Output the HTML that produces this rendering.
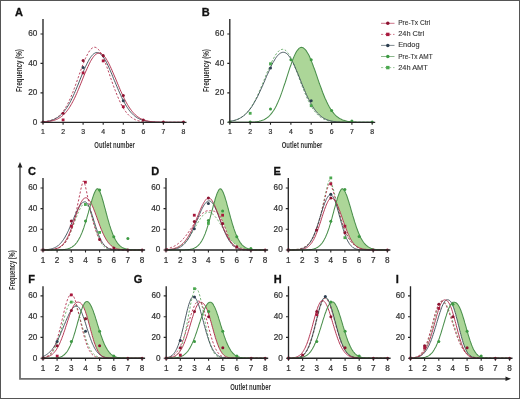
<!DOCTYPE html>
<html><head><meta charset="utf-8"><style>
html,body{margin:0;padding:0;background:#fff;width:520px;height:399px;overflow:hidden}
svg text{font-family:"Liberation Sans",sans-serif}
.tk{font-size:8.2px;fill:#333;stroke:#333;stroke-width:0.22px}
.tks{font-size:6.9px}
.lg{font-size:7.4px;fill:#333;stroke:#333;stroke-width:0.12px}
.pl{font-size:11px;font-weight:bold;fill:#111;stroke:#111;stroke-width:0.3px}
</style></head><body>
<svg width="520" height="399" viewBox="0 0 520 399" style="position:absolute;left:0;top:0;will-change:transform;filter:blur(0.5px)"><rect x="0" y="0" width="520" height="399" fill="#fff"/><g><path d="M43,121.9 L43.8,121.8 L44.6,121.7 L45.4,121.6 L46.2,121.5 L47,121.4 L47.8,121.2 L48.6,121.1 L49.4,120.9 L50.2,120.7 L51,120.4 L51.8,120.1 L52.6,119.8 L53.4,119.5 L54.2,119.1 L55,118.7 L55.8,118.2 L56.6,117.7 L57.5,117.1 L58.3,116.5 L59.1,115.8 L59.9,115.1 L60.7,114.3 L61.5,113.4 L62.3,112.4 L63.1,111.4 L63.9,110.3 L64.7,109.1 L65.5,107.8 L66.3,106.4 L67.1,105 L67.9,103.5 L68.7,101.9 L69.5,100.2 L70.3,98.4 L71.1,96.6 L71.9,94.6 L72.7,92.7 L73.5,90.6 L74.3,88.5 L75.1,86.3 L75.9,84.1 L76.7,81.9 L77.5,79.6 L78.3,77.4 L79.1,75.1 L79.9,72.8 L80.7,70.6 L81.5,68.4 L82.3,66.2 L83.1,64.1 L83.9,62 L84.7,60.1 L85.5,58.2 L86.4,56.5 L87.2,54.9 L88,53.4 L88.8,52 L89.6,50.8 L90.4,49.8 L91.2,48.9 L92,48.2 L92.8,47.7 L93.6,47.4 L94.4,47.2 L95.2,47.3 L96,47.5 L96.8,48 L97.6,48.6 L98.4,49.4 L99.2,50.4 L100,51.6 L100.8,52.9 L101.6,54.3 L102.4,56 L103.2,57.7 L104,59.6 L104.8,61.5 L105.6,63.6 L106.4,65.7 L107.2,67.9 L108,70.2 L108.8,72.4 L109.6,74.8 L110.4,77.1 L111.2,79.4 L112,81.7 L112.8,84 L113.6,86.2 L114.4,88.4 L115.3,90.6 L116.1,92.7 L116.9,94.7 L117.7,96.6 L118.5,98.5 L119.3,100.3 L120.1,102 L120.9,103.7 L121.7,105.2 L122.5,106.7 L123.3,108 L124.1,109.3 L124.9,110.5 L125.7,111.6 L126.5,112.7 L127.3,113.6 L128.1,114.5 L128.9,115.3 L129.7,116 L130.5,116.7 L131.3,117.3 L132.1,117.9 L132.9,118.4 L133.7,118.9 L134.5,119.3 L135.3,119.7 L136.1,120 L136.9,120.3 L137.7,120.5 L138.5,120.8 L139.3,121 L140.1,121.2 L140.9,121.3 L141.7,121.5 L142.5,121.6 L143.3,121.7 L144.2,121.8 L145,121.8 L145.8,121.9 L146.6,122 L147.4,122 L148.2,122.1 L149,122.1 L149.8,122.1 L150.6,122.2 L151.4,122.2 L152.2,122.2 L153,122.2 L153.8,122.2 L154.6,122.2 L155.4,122.3 L156.2,122.3 L157,122.3 L157.8,122.3 L158.6,122.3 L159.4,122.3 L160.2,122.3 L161,122.3 L161.8,122.3 L162.6,122.3 L163.4,122.3 L164.2,122.3 L165,122.3 L165.8,122.3 L166.6,122.3 L167.4,122.3 L168.2,122.3 L169,122.3 L169.8,122.3 L170.6,122.3 L171.4,122.3 L172.3,122.3 L173.1,122.3 L173.9,122.3 L174.7,122.3 L175.5,122.3 L176.3,122.3 L177.1,122.3 L177.9,122.3 L178.7,122.3 L179.5,122.3 L180.3,122.3 L181.1,122.3 L181.9,122.3 L182.7,122.3 L183.5,122.3" fill="none" stroke="#b02a48" stroke-width="0.9" stroke-dasharray="2.2,1.8"/><path d="M43,121.8 L43.8,121.8 L44.6,121.7 L45.4,121.6 L46.2,121.5 L47,121.3 L47.8,121.2 L48.6,121 L49.4,120.9 L50.2,120.7 L51,120.4 L51.8,120.2 L52.6,119.9 L53.4,119.6 L54.2,119.3 L55,118.9 L55.8,118.5 L56.6,118 L57.5,117.5 L58.3,117 L59.1,116.4 L59.9,115.8 L60.7,115.1 L61.5,114.3 L62.3,113.5 L63.1,112.6 L63.9,111.7 L64.7,110.7 L65.5,109.6 L66.3,108.5 L67.1,107.3 L67.9,106 L68.7,104.7 L69.5,103.3 L70.3,101.8 L71.1,100.3 L71.9,98.6 L72.7,97 L73.5,95.3 L74.3,93.5 L75.1,91.6 L75.9,89.8 L76.7,87.9 L77.5,85.9 L78.3,84 L79.1,82 L79.9,80 L80.7,78 L81.5,76 L82.3,74.1 L83.1,72.1 L83.9,70.2 L84.7,68.4 L85.5,66.6 L86.4,64.9 L87.2,63.2 L88,61.7 L88.8,60.2 L89.6,58.8 L90.4,57.6 L91.2,56.5 L92,55.5 L92.8,54.6 L93.6,53.9 L94.4,53.4 L95.2,52.9 L96,52.7 L96.8,52.5 L97.6,52.6 L98.4,52.8 L99.2,53.1 L100,53.6 L100.8,54.2 L101.6,55 L102.4,55.9 L103.2,57 L104,58.1 L104.8,59.4 L105.6,60.8 L106.4,62.3 L107.2,63.9 L108,65.5 L108.8,67.3 L109.6,69.1 L110.4,70.9 L111.2,72.8 L112,74.7 L112.8,76.7 L113.6,78.7 L114.4,80.6 L115.3,82.6 L116.1,84.6 L116.9,86.5 L117.7,88.4 L118.5,90.3 L119.3,92.1 L120.1,93.9 L120.9,95.7 L121.7,97.4 L122.5,99 L123.3,100.6 L124.1,102.1 L124.9,103.6 L125.7,105 L126.5,106.3 L127.3,107.5 L128.1,108.7 L128.9,109.8 L129.7,110.9 L130.5,111.9 L131.3,112.8 L132.1,113.6 L132.9,114.4 L133.7,115.2 L134.5,115.8 L135.3,116.5 L136.1,117.1 L136.9,117.6 L137.7,118.1 L138.5,118.5 L139.3,118.9 L140.1,119.3 L140.9,119.6 L141.7,119.9 L142.5,120.2 L143.3,120.5 L144.2,120.7 L145,120.9 L145.8,121 L146.6,121.2 L147.4,121.3 L148.2,121.5 L149,121.6 L149.8,121.7 L150.6,121.8 L151.4,121.8 L152.2,121.9 L153,122 L153.8,122 L154.6,122 L155.4,122.1 L156.2,122.1 L157,122.1 L157.8,122.2 L158.6,122.2 L159.4,122.2 L160.2,122.2 L161,122.2 L161.8,122.2 L162.6,122.3 L163.4,122.3 L164.2,122.3 L165,122.3 L165.8,122.3 L166.6,122.3 L167.4,122.3 L168.2,122.3 L169,122.3 L169.8,122.3 L170.6,122.3 L171.4,122.3 L172.3,122.3 L173.1,122.3 L173.9,122.3 L174.7,122.3 L175.5,122.3 L176.3,122.3 L177.1,122.3 L177.9,122.3 L178.7,122.3 L179.5,122.3 L180.3,122.3 L181.1,122.3 L181.9,122.3 L182.7,122.3 L183.5,122.3" fill="none" stroke="#384852" stroke-width="0.9"/><path d="M43,122 L43.8,122 L44.6,121.9 L45.4,121.9 L46.2,121.8 L47,121.7 L47.8,121.6 L48.6,121.5 L49.4,121.4 L50.2,121.3 L51,121.1 L51.8,120.9 L52.6,120.7 L53.4,120.5 L54.2,120.3 L55,120 L55.8,119.7 L56.6,119.4 L57.5,119 L58.3,118.6 L59.1,118.1 L59.9,117.6 L60.7,117.1 L61.5,116.5 L62.3,115.9 L63.1,115.2 L63.9,114.4 L64.7,113.6 L65.5,112.7 L66.3,111.8 L67.1,110.8 L67.9,109.7 L68.7,108.6 L69.5,107.4 L70.3,106.1 L71.1,104.7 L71.9,103.3 L72.7,101.8 L73.5,100.3 L74.3,98.7 L75.1,97 L75.9,95.2 L76.7,93.5 L77.5,91.6 L78.3,89.7 L79.1,87.8 L79.9,85.8 L80.7,83.9 L81.5,81.9 L82.3,79.9 L83.1,77.9 L83.9,75.9 L84.7,73.9 L85.5,72 L86.4,70.1 L87.2,68.3 L88,66.5 L88.8,64.8 L89.6,63.2 L90.4,61.6 L91.2,60.2 L92,58.9 L92.8,57.7 L93.6,56.6 L94.4,55.7 L95.2,54.9 L96,54.2 L96.8,53.7 L97.6,53.4 L98.4,53.2 L99.2,53.1 L100,53.2 L100.8,53.5 L101.6,53.9 L102.4,54.5 L103.2,55.2 L104,56 L104.8,57 L105.6,58 L106.4,59.2 L107.2,60.6 L108,62 L108.8,63.5 L109.6,65.1 L110.4,66.8 L111.2,68.5 L112,70.3 L112.8,72.2 L113.6,74.1 L114.4,76 L115.3,77.9 L116.1,79.9 L116.9,81.8 L117.7,83.8 L118.5,85.7 L119.3,87.6 L120.1,89.5 L120.9,91.3 L121.7,93.1 L122.5,94.9 L123.3,96.6 L124.1,98.3 L124.9,99.9 L125.7,101.4 L126.5,102.9 L127.3,104.3 L128.1,105.6 L128.9,106.9 L129.7,108.1 L130.5,109.2 L131.3,110.3 L132.1,111.3 L132.9,112.3 L133.7,113.2 L134.5,114 L135.3,114.8 L136.1,115.5 L136.9,116.1 L137.7,116.7 L138.5,117.3 L139.3,117.8 L140.1,118.3 L140.9,118.7 L141.7,119.1 L142.5,119.4 L143.3,119.8 L144.2,120 L145,120.3 L145.8,120.5 L146.6,120.8 L147.4,120.9 L148.2,121.1 L149,121.3 L149.8,121.4 L150.6,121.5 L151.4,121.6 L152.2,121.7 L153,121.8 L153.8,121.9 L154.6,121.9 L155.4,122 L156.2,122 L157,122.1 L157.8,122.1 L158.6,122.1 L159.4,122.1 L160.2,122.2 L161,122.2 L161.8,122.2 L162.6,122.2 L163.4,122.2 L164.2,122.2 L165,122.3 L165.8,122.3 L166.6,122.3 L167.4,122.3 L168.2,122.3 L169,122.3 L169.8,122.3 L170.6,122.3 L171.4,122.3 L172.3,122.3 L173.1,122.3 L173.9,122.3 L174.7,122.3 L175.5,122.3 L176.3,122.3 L177.1,122.3 L177.9,122.3 L178.7,122.3 L179.5,122.3 L180.3,122.3 L181.1,122.3 L181.9,122.3 L182.7,122.3 L183.5,122.3" fill="none" stroke="#ad2243" stroke-width="0.9"/><circle cx="63.1" cy="113.3" r="1.5" fill="#8c1230"/><rect x="61.7" y="118.5" width="2.8" height="2.8" fill="#a8183c"/><circle cx="83.1" cy="60.5" r="1.5" fill="#8c1230"/><circle cx="83.1" cy="67.6" r="1.5" fill="#2c3e50"/><rect x="81.7" y="71.5" width="2.8" height="2.8" fill="#a8183c"/><circle cx="103.2" cy="55.6" r="1.5" fill="#8c1230"/><rect x="101.8" y="59.5" width="2.8" height="2.8" fill="#a8183c"/><circle cx="123.3" cy="95.5" r="1.5" fill="#8c1230"/><circle cx="123.3" cy="100.7" r="1.5" fill="#2c3e50"/><rect x="121.9" y="105.3" width="2.8" height="2.8" fill="#a8183c"/><circle cx="143.3" cy="119.9" r="1.5" fill="#8c1230"/><circle cx="163.4" cy="121.9" r="1.5" fill="#8c1230"/><circle cx="183.5" cy="122" r="1.5" fill="#8c1230"/><circle cx="43" cy="121.9" r="1.5" fill="#8c1230"/><path d="M43,19 V122.3 H186.5" fill="none" stroke="#262626" stroke-width="1.35"/><path d="M40.5,122.3 H43 M40.5,92.9 H43 M40.5,63.4 H43 M40.5,34 H43 M43,122.3 V124.8 M63.1,122.3 V124.8 M83.1,122.3 V124.8 M103.2,122.3 V124.8 M123.3,122.3 V124.8 M143.3,122.3 V124.8 M163.4,122.3 V124.8 M183.5,122.3 V124.8" stroke="#262626" stroke-width="1.1"/><text x="37.4" y="124.7" text-anchor="end" class="tk">0</text><text x="37.4" y="95.2" text-anchor="end" class="tk">20</text><text x="37.4" y="65.8" text-anchor="end" class="tk">40</text><text x="37.4" y="36.4" text-anchor="end" class="tk">60</text><text x="43" y="134.2" text-anchor="middle" class="tk tks">1</text><text x="63.1" y="134.2" text-anchor="middle" class="tk tks">2</text><text x="83.1" y="134.2" text-anchor="middle" class="tk tks">3</text><text x="103.2" y="134.2" text-anchor="middle" class="tk tks">4</text><text x="123.3" y="134.2" text-anchor="middle" class="tk tks">5</text><text x="143.3" y="134.2" text-anchor="middle" class="tk tks">6</text><text x="163.4" y="134.2" text-anchor="middle" class="tk tks">7</text><text x="183.5" y="134.2" text-anchor="middle" class="tk tks">8</text><text x="15" y="16.3" class="pl">A</text><text transform="translate(114.6,148.4) scale(0.6,1)" text-anchor="middle" font-size="9.9" font-weight="bold" fill="#333333">Outlet number</text><text transform="translate(21.7,70.6) rotate(-90) scale(0.665,1)" text-anchor="middle" font-size="9.4" font-weight="bold" fill="#333333">Frequency (%)</text></g><g><polygon points="292.5,60.4 293.3,58.3 294.1,56.4 294.9,54.6 295.7,53 296.5,51.5 297.4,50.3 298.2,49.3 299,48.4 299.8,47.9 300.6,47.5 301.4,47.4 302.2,47.5 303.1,47.8 303.9,48.3 304.7,49 305.5,49.9 306.3,50.9 307.1,52.2 307.9,53.6 308.8,55.1 309.6,56.8 310.4,58.7 311.2,60.6 312,62.6 312.8,64.8 313.6,67 314.5,69.2 315.3,71.5 316.1,73.9 316.9,76.2 317.7,78.6 318.5,80.9 319.3,83.3 320.2,85.6 321,87.8 321.8,90 322.6,92.2 323.4,94.2 324.2,96.2 325,98.2 325.9,100 326.7,101.8 327.5,103.4 328.3,105 329.1,106.5 329.9,107.9 330.7,109.2 331.6,110.4 332.4,111.6 333.2,112.6 334,113.6 334.8,114.5 335.6,115.3 336.4,116.1 337.2,116.8 338.1,117.4 338.9,118 339.7,118.5 340.5,118.9 341.3,119.3 342.1,119.7 342.9,120 343.8,120.3 344.6,120.6 345.4,120.8 346.2,121 347,121.2 347.8,121.4 348.6,121.5 349.5,121.6 350.3,121.7 351.1,121.8 351.9,121.9 352.7,121.9 353.5,122 354.3,122 355.2,122.1 356,122.1 356.8,122.2 357.6,122.2 358.4,122.2 359.2,122.2 360,122.2 360.9,122.2 361.7,122.3 362.5,122.3 363.3,122.3 364.1,122.3 364.9,122.3 365.7,122.3 366.6,122.3 367.4,122.3 367.4,122.3 366.6,122.3 365.7,122.3 364.9,122.3 364.1,122.3 363.3,122.3 362.5,122.3 361.7,122.3 360.9,122.3 360,122.3 359.2,122.3 358.4,122.3 357.6,122.3 356.8,122.3 356,122.3 355.2,122.3 354.3,122.3 353.5,122.3 352.7,122.3 351.9,122.3 351.1,122.3 350.3,122.3 349.5,122.3 348.6,122.3 347.8,122.2 347,122.2 346.2,122.2 345.4,122.2 344.6,122.2 343.8,122.2 342.9,122.2 342.1,122.1 341.3,122.1 340.5,122.1 339.7,122 338.9,122 338.1,121.9 337.2,121.8 336.4,121.8 335.6,121.7 334.8,121.6 334,121.5 333.2,121.4 332.4,121.2 331.6,121.1 330.7,120.9 329.9,120.7 329.1,120.5 328.3,120.2 327.5,119.9 326.7,119.6 325.9,119.3 325,118.9 324.2,118.5 323.4,118 322.6,117.5 321.8,116.9 321,116.3 320.2,115.6 319.3,114.9 318.5,114.1 317.7,113.3 316.9,112.4 316.1,111.4 315.3,110.4 314.5,109.3 313.6,108.1 312.8,106.8 312,105.5 311.2,104.1 310.4,102.6 309.6,101.1 308.8,99.5 307.9,97.8 307.1,96.1 306.3,94.3 305.5,92.5 304.7,90.6 303.9,88.6 303.1,86.7 302.2,84.7 301.4,82.6 300.6,80.6 299.8,78.6 299,76.5 298.2,74.5 297.4,72.5 296.5,70.6 295.7,68.7 294.9,66.8 294.1,65 293.3,63 292.5,61.2" fill="#acd698" stroke="none"/><path d="M229.8,121.4 L230.6,121.3 L231.4,121.1 L232.2,121 L233.1,120.8 L233.9,120.6 L234.7,120.4 L235.5,120.1 L236.3,119.8 L237.1,119.5 L237.9,119.2 L238.8,118.8 L239.6,118.4 L240.4,118 L241.2,117.5 L242,116.9 L242.8,116.3 L243.6,115.7 L244.5,115 L245.3,114.3 L246.1,113.5 L246.9,112.6 L247.7,111.7 L248.5,110.7 L249.3,109.7 L250.2,108.6 L251,107.4 L251.8,106.1 L252.6,104.8 L253.4,103.4 L254.2,102 L255,100.5 L255.8,98.9 L256.7,97.2 L257.5,95.5 L258.3,93.8 L259.1,92 L259.9,90.1 L260.7,88.2 L261.5,86.3 L262.4,84.3 L263.2,82.3 L264,80.3 L264.8,78.3 L265.6,76.2 L266.4,74.2 L267.2,72.2 L268.1,70.3 L268.9,68.3 L269.7,66.4 L270.5,64.6 L271.3,62.8 L272.1,61.1 L272.9,59.5 L273.8,58 L274.6,56.5 L275.4,55.2 L276.2,54 L277,52.9 L277.8,52 L278.6,51.2 L279.5,50.5 L280.3,50 L281.1,49.6 L281.9,49.4 L282.7,49.3 L283.5,49.4 L284.3,49.7 L285.2,50.1 L286,50.7 L286.8,51.5 L287.6,52.5 L288.4,53.6 L289.2,54.8 L290,56.2 L290.9,57.8 L291.7,59.4 L292.5,61.2 L293.3,63 L294.1,65 L294.9,67 L295.7,69 L296.5,71.2 L297.4,73.3 L298.2,75.5 L299,77.7 L299.8,79.9 L300.6,82.1 L301.4,84.2 L302.2,86.4 L303.1,88.5 L303.9,90.5 L304.7,92.5 L305.5,94.5 L306.3,96.4 L307.1,98.2 L307.9,99.9 L308.8,101.6 L309.6,103.2 L310.4,104.7 L311.2,106.1 L312,107.5 L312.8,108.8 L313.6,110 L314.5,111.1 L315.3,112.1 L316.1,113.1 L316.9,114 L317.7,114.8 L318.5,115.6 L319.3,116.3 L320.2,116.9 L321,117.5 L321.8,118 L322.6,118.5 L323.4,118.9 L324.2,119.3 L325,119.7 L325.9,120 L326.7,120.3 L327.5,120.5 L328.3,120.8 L329.1,121 L329.9,121.1 L330.7,121.3 L331.6,121.4 L332.4,121.6 L333.2,121.7 L334,121.7 L334.8,121.8 L335.6,121.9 L336.4,122 L337.2,122 L338.1,122.1 L338.9,122.1 L339.7,122.1 L340.5,122.2 L341.3,122.2 L342.1,122.2 L342.9,122.2 L343.8,122.2 L344.6,122.2 L345.4,122.3 L346.2,122.3 L347,122.3 L347.8,122.3 L348.6,122.3 L349.5,122.3 L350.3,122.3 L351.1,122.3 L351.9,122.3 L352.7,122.3 L353.5,122.3 L354.3,122.3 L355.2,122.3 L356,122.3 L356.8,122.3 L357.6,122.3 L358.4,122.3 L359.2,122.3 L360,122.3 L360.9,122.3 L361.7,122.3 L362.5,122.3 L363.3,122.3 L364.1,122.3 L364.9,122.3 L365.7,122.3 L366.6,122.3 L367.4,122.3 L368.2,122.3 L369,122.3 L369.8,122.3 L370.6,122.3 L371.4,122.3 L372.2,122.3" fill="none" stroke="#62a862" stroke-width="0.9" stroke-dasharray="2.2,1.8"/><path d="M229.8,121.4 L230.6,121.2 L231.4,121.1 L232.2,120.9 L233.1,120.7 L233.9,120.5 L234.7,120.3 L235.5,120.1 L236.3,119.8 L237.1,119.5 L237.9,119.2 L238.8,118.8 L239.6,118.4 L240.4,117.9 L241.2,117.5 L242,116.9 L242.8,116.4 L243.6,115.8 L244.5,115.1 L245.3,114.4 L246.1,113.6 L246.9,112.8 L247.7,111.9 L248.5,111 L249.3,110 L250.2,108.9 L251,107.8 L251.8,106.7 L252.6,105.4 L253.4,104.1 L254.2,102.7 L255,101.3 L255.8,99.8 L256.7,98.3 L257.5,96.7 L258.3,95 L259.1,93.3 L259.9,91.6 L260.7,89.8 L261.5,88 L262.4,86.2 L263.2,84.3 L264,82.4 L264.8,80.5 L265.6,78.6 L266.4,76.7 L267.2,74.8 L268.1,73 L268.9,71.2 L269.7,69.4 L270.5,67.6 L271.3,65.9 L272.1,64.3 L272.9,62.7 L273.8,61.3 L274.6,59.9 L275.4,58.6 L276.2,57.4 L277,56.3 L277.8,55.4 L278.6,54.5 L279.5,53.8 L280.3,53.2 L281.1,52.8 L281.9,52.5 L282.7,52.3 L283.5,52.3 L284.3,52.4 L285.2,52.7 L286,53.1 L286.8,53.7 L287.6,54.4 L288.4,55.3 L289.2,56.4 L290,57.5 L290.9,58.8 L291.7,60.2 L292.5,61.7 L293.3,63.3 L294.1,65 L294.9,66.8 L295.7,68.7 L296.5,70.6 L297.4,72.5 L298.2,74.5 L299,76.5 L299.8,78.6 L300.6,80.6 L301.4,82.6 L302.2,84.7 L303.1,86.7 L303.9,88.6 L304.7,90.6 L305.5,92.5 L306.3,94.3 L307.1,96.1 L307.9,97.8 L308.8,99.5 L309.6,101.1 L310.4,102.6 L311.2,104.1 L312,105.5 L312.8,106.8 L313.6,108.1 L314.5,109.3 L315.3,110.4 L316.1,111.4 L316.9,112.4 L317.7,113.3 L318.5,114.1 L319.3,114.9 L320.2,115.6 L321,116.3 L321.8,116.9 L322.6,117.5 L323.4,118 L324.2,118.5 L325,118.9 L325.9,119.3 L326.7,119.6 L327.5,119.9 L328.3,120.2 L329.1,120.5 L329.9,120.7 L330.7,120.9 L331.6,121.1 L332.4,121.2 L333.2,121.4 L334,121.5 L334.8,121.6 L335.6,121.7 L336.4,121.8 L337.2,121.8 L338.1,121.9 L338.9,122 L339.7,122 L340.5,122.1 L341.3,122.1 L342.1,122.1 L342.9,122.2 L343.8,122.2 L344.6,122.2 L345.4,122.2 L346.2,122.2 L347,122.2 L347.8,122.2 L348.6,122.3 L349.5,122.3 L350.3,122.3 L351.1,122.3 L351.9,122.3 L352.7,122.3 L353.5,122.3 L354.3,122.3 L355.2,122.3 L356,122.3 L356.8,122.3 L357.6,122.3 L358.4,122.3 L359.2,122.3 L360,122.3 L360.9,122.3 L361.7,122.3 L362.5,122.3 L363.3,122.3 L364.1,122.3 L364.9,122.3 L365.7,122.3 L366.6,122.3 L367.4,122.3 L368.2,122.3 L369,122.3 L369.8,122.3 L370.6,122.3 L371.4,122.3 L372.2,122.3" fill="none" stroke="#384852" stroke-width="0.9"/><path d="M229.8,122.3 L230.6,122.3 L231.4,122.3 L232.2,122.3 L233.1,122.3 L233.9,122.3 L234.7,122.3 L235.5,122.3 L236.3,122.3 L237.1,122.3 L237.9,122.3 L238.8,122.3 L239.6,122.3 L240.4,122.3 L241.2,122.3 L242,122.3 L242.8,122.3 L243.6,122.3 L244.5,122.3 L245.3,122.3 L246.1,122.2 L246.9,122.2 L247.7,122.2 L248.5,122.2 L249.3,122.2 L250.2,122.2 L251,122.1 L251.8,122.1 L252.6,122 L253.4,122 L254.2,121.9 L255,121.9 L255.8,121.8 L256.7,121.7 L257.5,121.6 L258.3,121.4 L259.1,121.3 L259.9,121.1 L260.7,120.9 L261.5,120.6 L262.4,120.3 L263.2,120 L264,119.7 L264.8,119.3 L265.6,118.8 L266.4,118.3 L267.2,117.7 L268.1,117 L268.9,116.3 L269.7,115.5 L270.5,114.7 L271.3,113.7 L272.1,112.6 L272.9,111.5 L273.8,110.3 L274.6,108.9 L275.4,107.5 L276.2,105.9 L277,104.2 L277.8,102.5 L278.6,100.6 L279.5,98.6 L280.3,96.6 L281.1,94.4 L281.9,92.2 L282.7,89.8 L283.5,87.4 L284.3,85 L285.2,82.5 L286,80 L286.8,77.4 L287.6,74.9 L288.4,72.3 L289.2,69.8 L290,67.4 L290.9,65 L291.7,62.6 L292.5,60.4 L293.3,58.3 L294.1,56.4 L294.9,54.6 L295.7,53 L296.5,51.5 L297.4,50.3 L298.2,49.3 L299,48.4 L299.8,47.9 L300.6,47.5 L301.4,47.4 L302.2,47.5 L303.1,47.8 L303.9,48.3 L304.7,49 L305.5,49.9 L306.3,50.9 L307.1,52.2 L307.9,53.6 L308.8,55.1 L309.6,56.8 L310.4,58.7 L311.2,60.6 L312,62.6 L312.8,64.8 L313.6,67 L314.5,69.2 L315.3,71.5 L316.1,73.9 L316.9,76.2 L317.7,78.6 L318.5,80.9 L319.3,83.3 L320.2,85.6 L321,87.8 L321.8,90 L322.6,92.2 L323.4,94.2 L324.2,96.2 L325,98.2 L325.9,100 L326.7,101.8 L327.5,103.4 L328.3,105 L329.1,106.5 L329.9,107.9 L330.7,109.2 L331.6,110.4 L332.4,111.6 L333.2,112.6 L334,113.6 L334.8,114.5 L335.6,115.3 L336.4,116.1 L337.2,116.8 L338.1,117.4 L338.9,118 L339.7,118.5 L340.5,118.9 L341.3,119.3 L342.1,119.7 L342.9,120 L343.8,120.3 L344.6,120.6 L345.4,120.8 L346.2,121 L347,121.2 L347.8,121.4 L348.6,121.5 L349.5,121.6 L350.3,121.7 L351.1,121.8 L351.9,121.9 L352.7,121.9 L353.5,122 L354.3,122 L355.2,122.1 L356,122.1 L356.8,122.2 L357.6,122.2 L358.4,122.2 L359.2,122.2 L360,122.2 L360.9,122.2 L361.7,122.3 L362.5,122.3 L363.3,122.3 L364.1,122.3 L364.9,122.3 L365.7,122.3 L366.6,122.3 L367.4,122.3 L368.2,122.3 L369,122.3 L369.8,122.3 L370.6,122.3 L371.4,122.3 L372.2,122.3" fill="none" stroke="#4a8f4c" stroke-width="1.05"/><rect x="248.8" y="111.9" width="2.8" height="2.8" fill="#4aa84e"/><circle cx="250.2" cy="121.9" r="1.5" fill="#3c9a42"/><rect x="269.1" y="62.3" width="2.8" height="2.8" fill="#4aa84e"/><circle cx="270.5" cy="68.1" r="1.5" fill="#2c3e50"/><circle cx="270.5" cy="109.1" r="1.5" fill="#3c9a42"/><circle cx="290.9" cy="59.8" r="1.5" fill="#3c9a42"/><circle cx="311.2" cy="59.8" r="1.5" fill="#3c9a42"/><circle cx="311.2" cy="100.7" r="1.5" fill="#2c3e50"/><rect x="309.8" y="104.3" width="2.8" height="2.8" fill="#4aa84e"/><circle cx="331.6" cy="110.5" r="1.5" fill="#3c9a42"/><circle cx="351.9" cy="121.1" r="1.5" fill="#3c9a42"/><circle cx="372.2" cy="122" r="1.5" fill="#3c9a42"/><circle cx="229.8" cy="122" r="1.5" fill="#3c9a42"/><path d="M229.8,19 V122.3 H375.2" fill="none" stroke="#262626" stroke-width="1.35"/><path d="M227.3,122.3 H229.8 M227.3,92.9 H229.8 M227.3,63.4 H229.8 M227.3,34 H229.8 M229.8,122.3 V124.8 M250.2,122.3 V124.8 M270.5,122.3 V124.8 M290.9,122.3 V124.8 M311.2,122.3 V124.8 M331.6,122.3 V124.8 M351.9,122.3 V124.8 M372.2,122.3 V124.8" stroke="#262626" stroke-width="1.1"/><text x="224.2" y="124.7" text-anchor="end" class="tk">0</text><text x="224.2" y="95.2" text-anchor="end" class="tk">20</text><text x="224.2" y="65.8" text-anchor="end" class="tk">40</text><text x="224.2" y="36.4" text-anchor="end" class="tk">60</text><text x="229.8" y="134.2" text-anchor="middle" class="tk tks">1</text><text x="250.2" y="134.2" text-anchor="middle" class="tk tks">2</text><text x="270.5" y="134.2" text-anchor="middle" class="tk tks">3</text><text x="290.9" y="134.2" text-anchor="middle" class="tk tks">4</text><text x="311.2" y="134.2" text-anchor="middle" class="tk tks">5</text><text x="331.6" y="134.2" text-anchor="middle" class="tk tks">6</text><text x="351.9" y="134.2" text-anchor="middle" class="tk tks">7</text><text x="372.2" y="134.2" text-anchor="middle" class="tk tks">8</text><text x="201.8" y="16.3" class="pl">B</text><text transform="translate(302,148.4) scale(0.6,1)" text-anchor="middle" font-size="9.9" font-weight="bold" fill="#333333">Outlet number</text><text transform="translate(208.5,70.6) rotate(-90) scale(0.665,1)" text-anchor="middle" font-size="9.4" font-weight="bold" fill="#333333">Frequency (%)</text></g><g><polygon points="91.1,202.9 91.7,201 92.2,199.1 92.8,197.4 93.4,195.7 93.9,194.2 94.5,192.8 95.1,191.5 95.6,190.5 96.2,189.6 96.8,189 97.3,188.7 97.9,188.8 98.5,189.4 99,190.2 99.6,191.2 100.2,192.5 100.7,193.9 101.3,195.5 101.9,197.2 102.4,199.1 103,201 103.6,203.1 104.1,205.1 104.7,207.3 105.3,209.4 105.8,211.5 106.4,213.7 107,215.8 107.5,217.9 108.1,219.9 108.7,221.9 109.2,223.8 109.8,225.7 110.4,227.4 110.9,229.1 111.5,230.8 112.1,232.3 112.6,233.8 113.2,235.2 113.8,236.5 114.3,237.7 114.9,238.8 115.4,239.8 116,240.8 116.6,241.7 117.1,242.5 117.7,243.3 118.3,244 118.8,244.6 119.4,245.2 120,245.8 120.5,246.2 121.1,246.7 121.7,247.1 122.2,247.4 122.8,247.7 123.4,248 123.9,248.2 124.5,248.5 125.1,248.7 125.6,248.8 126.2,249 126.8,249.1 127.3,249.2 127.9,249.3 128.5,249.4 129,249.5 129.6,249.6 130.2,249.6 130.7,249.7 131.3,249.7 131.9,249.8 132.4,249.8 133,249.8 133.6,249.9 134.1,249.9 134.7,249.9 135.3,249.9 135.8,249.9 136.4,249.9 137,250 137.5,250 138.1,250 138.7,250 139.2,250 139.8,250 140.4,250 140.9,250 140.9,250 140.4,250 139.8,250 139.2,250 138.7,250 138.1,250 137.5,250 137,250 136.4,250 135.8,250 135.3,250 134.7,250 134.1,250 133.6,250 133,250 132.4,250 131.9,250 131.3,250 130.7,250 130.2,250 129.6,250 129,250 128.5,250 127.9,249.9 127.3,249.9 126.8,249.9 126.2,249.9 125.6,249.9 125.1,249.9 124.5,249.8 123.9,249.8 123.4,249.8 122.8,249.7 122.2,249.7 121.7,249.6 121.1,249.6 120.5,249.5 120,249.4 119.4,249.3 118.8,249.2 118.3,249.1 117.7,249 117.1,248.8 116.6,248.7 116,248.5 115.4,248.2 114.9,248 114.3,247.7 113.8,247.4 113.2,247.1 112.6,246.8 112.1,246.4 111.5,245.9 110.9,245.4 110.4,244.9 109.8,244.4 109.2,243.7 108.7,243.1 108.1,242.4 107.5,241.6 107,240.8 106.4,239.9 105.8,238.9 105.3,237.9 104.7,236.9 104.1,235.8 103.6,234.6 103,233.4 102.4,232.1 101.9,230.8 101.3,229.4 100.7,228 100.2,226.6 99.6,225.1 99,223.5 98.5,222 97.9,220.4 97.3,218.9 96.8,217.3 96.2,215.7 95.6,214.2 95.1,212.7 94.5,211.2 93.9,209.7 93.4,208.3 92.8,206.9 92.2,205.6 91.7,204.4 91.1,203.3" fill="#acd698" stroke="none"/><path d="M43,250 L43.6,250 L44.1,250 L44.7,250 L45.3,250 L45.8,250 L46.4,249.9 L47,249.9 L47.5,249.9 L48.1,249.9 L48.7,249.9 L49.2,249.9 L49.8,249.8 L50.4,249.8 L50.9,249.8 L51.5,249.7 L52.1,249.7 L52.6,249.6 L53.2,249.6 L53.8,249.5 L54.3,249.4 L54.9,249.3 L55.5,249.2 L56,249 L56.6,248.9 L57.1,248.7 L57.7,248.5 L58.3,248.3 L58.8,248 L59.4,247.7 L60,247.4 L60.5,247 L61.1,246.7 L61.7,246.2 L62.2,245.7 L62.8,245.2 L63.4,244.6 L63.9,244 L64.5,243.3 L65.1,242.6 L65.6,241.8 L66.2,240.9 L66.8,240 L67.3,239 L67.9,238 L68.5,236.9 L69,235.7 L69.6,234.5 L70.2,233.3 L70.7,232 L71.3,230.6 L71.9,229.2 L72.4,227.7 L73,226.3 L73.6,224.8 L74.1,223.3 L74.7,221.7 L75.3,220.2 L75.8,218.7 L76.4,217.2 L77,215.7 L77.5,214.3 L78.1,212.9 L78.7,211.6 L79.2,210.4 L79.8,209.2 L80.4,208.1 L80.9,207.1 L81.5,206.2 L82.1,205.5 L82.6,204.8 L83.2,204.3 L83.8,203.9 L84.3,203.6 L84.9,203.5 L85.5,203.5 L86,203.7 L86.6,204.1 L87.1,204.8 L87.7,205.6 L88.3,206.7 L88.8,207.9 L89.4,209.2 L90,210.7 L90.5,212.3 L91.1,214.1 L91.7,215.9 L92.2,217.7 L92.8,219.7 L93.4,221.6 L93.9,223.5 L94.5,225.4 L95.1,227.3 L95.6,229.1 L96.2,230.9 L96.8,232.6 L97.3,234.3 L97.9,235.8 L98.5,237.3 L99,238.6 L99.6,239.9 L100.2,241 L100.7,242.1 L101.3,243.1 L101.9,244 L102.4,244.7 L103,245.5 L103.6,246.1 L104.1,246.7 L104.7,247.1 L105.3,247.6 L105.8,248 L106.4,248.3 L107,248.6 L107.5,248.8 L108.1,249 L108.7,249.2 L109.2,249.3 L109.8,249.4 L110.4,249.6 L110.9,249.6 L111.5,249.7 L112.1,249.8 L112.6,249.8 L113.2,249.9 L113.8,249.9 L114.3,249.9 L114.9,249.9 L115.4,249.9 L116,250 L116.6,250 L117.1,250 L117.7,250 L118.3,250 L118.8,250 L119.4,250 L120,250 L120.5,250 L121.1,250 L121.7,250 L122.2,250 L122.8,250 L123.4,250 L123.9,250 L124.5,250 L125.1,250 L125.6,250 L126.2,250 L126.8,250 L127.3,250 L127.9,250 L128.5,250 L129,250 L129.6,250 L130.2,250 L130.7,250 L131.3,250 L131.9,250 L132.4,250 L133,250 L133.6,250 L134.1,250 L134.7,250 L135.3,250 L135.8,250 L136.4,250 L137,250 L137.5,250 L138.1,250 L138.7,250 L139.2,250 L139.8,250 L140.4,250 L140.9,250 L141.5,250 L142.1,250" fill="none" stroke="#62a862" stroke-width="0.9" stroke-dasharray="2.2,1.8"/><path d="M43,249.9 L43.6,249.9 L44.1,249.9 L44.7,249.9 L45.3,249.9 L45.8,249.9 L46.4,249.9 L47,249.8 L47.5,249.8 L48.1,249.8 L48.7,249.8 L49.2,249.7 L49.8,249.7 L50.4,249.7 L50.9,249.6 L51.5,249.6 L52.1,249.5 L52.6,249.4 L53.2,249.3 L53.8,249.3 L54.3,249.2 L54.9,249 L55.5,248.9 L56,248.8 L56.6,248.6 L57.1,248.5 L57.7,248.3 L58.3,248.1 L58.8,247.8 L59.4,247.5 L60,247.3 L60.5,246.9 L61.1,246.6 L61.7,246.2 L62.2,245.7 L62.8,245.2 L63.4,244.7 L63.9,244.1 L64.5,243.5 L65.1,242.8 L65.6,242 L66.2,241.2 L66.8,240.3 L67.3,239.3 L67.9,238.3 L68.5,237.1 L69,235.9 L69.6,234.6 L70.2,233.2 L70.7,231.6 L71.3,230 L71.9,228.3 L72.4,226.5 L73,224.5 L73.6,222.5 L74.1,220.3 L74.7,218 L75.3,215.7 L75.8,213.2 L76.4,210.7 L77,208.1 L77.5,205.4 L78.1,202.6 L78.7,199.9 L79.2,197.1 L79.8,194.4 L80.4,191.7 L80.9,189.1 L81.5,186.6 L82.1,184.4 L82.6,182.5 L83.2,181.1 L83.8,181.1 L84.3,182.5 L84.9,184.4 L85.5,186.6 L86,189.1 L86.6,191.7 L87.1,194.4 L87.7,197.1 L88.3,199.9 L88.8,202.6 L89.4,205.4 L90,208.1 L90.5,210.7 L91.1,213.2 L91.7,215.7 L92.2,218 L92.8,220.3 L93.4,222.5 L93.9,224.5 L94.5,226.5 L95.1,228.3 L95.6,230 L96.2,231.6 L96.8,233.2 L97.3,234.6 L97.9,235.9 L98.5,237.1 L99,238.3 L99.6,239.3 L100.2,240.3 L100.7,241.2 L101.3,242 L101.9,242.8 L102.4,243.5 L103,244.1 L103.6,244.7 L104.1,245.2 L104.7,245.7 L105.3,246.2 L105.8,246.6 L106.4,246.9 L107,247.3 L107.5,247.5 L108.1,247.8 L108.7,248.1 L109.2,248.3 L109.8,248.5 L110.4,248.6 L110.9,248.8 L111.5,248.9 L112.1,249 L112.6,249.2 L113.2,249.3 L113.8,249.3 L114.3,249.4 L114.9,249.5 L115.4,249.6 L116,249.6 L116.6,249.7 L117.1,249.7 L117.7,249.7 L118.3,249.8 L118.8,249.8 L119.4,249.8 L120,249.8 L120.5,249.9 L121.1,249.9 L121.7,249.9 L122.2,249.9 L122.8,249.9 L123.4,249.9 L123.9,249.9 L124.5,250 L125.1,250 L125.6,250 L126.2,250 L126.8,250 L127.3,250 L127.9,250 L128.5,250 L129,250 L129.6,250 L130.2,250 L130.7,250 L131.3,250 L131.9,250 L132.4,250 L133,250 L133.6,250 L134.1,250 L134.7,250 L135.3,250 L135.8,250 L136.4,250 L137,250 L137.5,250 L138.1,250 L138.7,250 L139.2,250 L139.8,250 L140.4,250 L140.9,250 L141.5,250 L142.1,250" fill="none" stroke="#b02a48" stroke-width="0.9" stroke-dasharray="2.2,1.8"/><path d="M43,249.9 L43.6,249.8 L44.1,249.8 L44.7,249.8 L45.3,249.7 L45.8,249.7 L46.4,249.7 L47,249.6 L47.5,249.5 L48.1,249.5 L48.7,249.4 L49.2,249.3 L49.8,249.2 L50.4,249.1 L50.9,249 L51.5,248.8 L52.1,248.7 L52.6,248.5 L53.2,248.3 L53.8,248.1 L54.3,247.9 L54.9,247.6 L55.5,247.3 L56,247 L56.6,246.7 L57.1,246.3 L57.7,245.9 L58.3,245.5 L58.8,245 L59.4,244.5 L60,243.9 L60.5,243.3 L61.1,242.7 L61.7,242 L62.2,241.3 L62.8,240.5 L63.4,239.7 L63.9,238.9 L64.5,238 L65.1,237 L65.6,236 L66.2,235 L66.8,233.9 L67.3,232.8 L67.9,231.6 L68.5,230.4 L69,229.2 L69.6,227.9 L70.2,226.6 L70.7,225.3 L71.3,224 L71.9,222.6 L72.4,221.3 L73,219.9 L73.6,218.6 L74.1,217.3 L74.7,215.9 L75.3,214.6 L75.8,213.4 L76.4,212.1 L77,210.9 L77.5,209.8 L78.1,208.7 L78.7,207.7 L79.2,206.7 L79.8,205.8 L80.4,205 L80.9,204.3 L81.5,203.6 L82.1,203.1 L82.6,202.6 L83.2,202.3 L83.8,202 L84.3,201.9 L84.9,201.8 L85.5,201.9 L86,202.2 L86.6,202.7 L87.1,203.3 L87.7,204.1 L88.3,205.1 L88.8,206.2 L89.4,207.5 L90,208.9 L90.5,210.4 L91.1,212 L91.7,213.7 L92.2,215.4 L92.8,217.2 L93.4,219 L93.9,220.8 L94.5,222.6 L95.1,224.4 L95.6,226.2 L96.2,228 L96.8,229.7 L97.3,231.3 L97.9,232.9 L98.5,234.4 L99,235.8 L99.6,237.2 L100.2,238.4 L100.7,239.6 L101.3,240.7 L101.9,241.7 L102.4,242.7 L103,243.5 L103.6,244.3 L104.1,245 L104.7,245.6 L105.3,246.2 L105.8,246.7 L106.4,247.1 L107,247.5 L107.5,247.9 L108.1,248.2 L108.7,248.5 L109.2,248.7 L109.8,248.9 L110.4,249.1 L110.9,249.2 L111.5,249.4 L112.1,249.5 L112.6,249.6 L113.2,249.6 L113.8,249.7 L114.3,249.8 L114.9,249.8 L115.4,249.8 L116,249.9 L116.6,249.9 L117.1,249.9 L117.7,249.9 L118.3,249.9 L118.8,250 L119.4,250 L120,250 L120.5,250 L121.1,250 L121.7,250 L122.2,250 L122.8,250 L123.4,250 L123.9,250 L124.5,250 L125.1,250 L125.6,250 L126.2,250 L126.8,250 L127.3,250 L127.9,250 L128.5,250 L129,250 L129.6,250 L130.2,250 L130.7,250 L131.3,250 L131.9,250 L132.4,250 L133,250 L133.6,250 L134.1,250 L134.7,250 L135.3,250 L135.8,250 L136.4,250 L137,250 L137.5,250 L138.1,250 L138.7,250 L139.2,250 L139.8,250 L140.4,250 L140.9,250 L141.5,250 L142.1,250" fill="none" stroke="#384852" stroke-width="0.9"/><path d="M43,250 L43.6,250 L44.1,250 L44.7,250 L45.3,250 L45.8,249.9 L46.4,249.9 L47,249.9 L47.5,249.9 L48.1,249.9 L48.7,249.9 L49.2,249.8 L49.8,249.8 L50.4,249.8 L50.9,249.7 L51.5,249.7 L52.1,249.6 L52.6,249.5 L53.2,249.4 L53.8,249.3 L54.3,249.2 L54.9,249.1 L55.5,249 L56,248.8 L56.6,248.6 L57.1,248.4 L57.7,248.2 L58.3,247.9 L58.8,247.6 L59.4,247.3 L60,246.9 L60.5,246.5 L61.1,246.1 L61.7,245.6 L62.2,245.1 L62.8,244.5 L63.4,243.9 L63.9,243.2 L64.5,242.4 L65.1,241.6 L65.6,240.7 L66.2,239.8 L66.8,238.8 L67.3,237.7 L67.9,236.6 L68.5,235.4 L69,234.2 L69.6,232.9 L70.2,231.5 L70.7,230.1 L71.3,228.6 L71.9,227.1 L72.4,225.5 L73,223.9 L73.6,222.3 L74.1,220.7 L74.7,219 L75.3,217.3 L75.8,215.7 L76.4,214.1 L77,212.4 L77.5,210.9 L78.1,209.3 L78.7,207.9 L79.2,206.4 L79.8,205.1 L80.4,203.9 L80.9,202.7 L81.5,201.7 L82.1,200.7 L82.6,199.9 L83.2,199.2 L83.8,198.7 L84.3,198.2 L84.9,197.9 L85.5,197.8 L86,197.8 L86.6,197.9 L87.1,198.2 L87.7,198.6 L88.3,199.1 L88.8,199.7 L89.4,200.4 L90,201.3 L90.5,202.2 L91.1,203.3 L91.7,204.4 L92.2,205.6 L92.8,206.9 L93.4,208.3 L93.9,209.7 L94.5,211.2 L95.1,212.7 L95.6,214.2 L96.2,215.7 L96.8,217.3 L97.3,218.9 L97.9,220.4 L98.5,222 L99,223.5 L99.6,225.1 L100.2,226.6 L100.7,228 L101.3,229.4 L101.9,230.8 L102.4,232.1 L103,233.4 L103.6,234.6 L104.1,235.8 L104.7,236.9 L105.3,237.9 L105.8,238.9 L106.4,239.9 L107,240.8 L107.5,241.6 L108.1,242.4 L108.7,243.1 L109.2,243.7 L109.8,244.4 L110.4,244.9 L110.9,245.4 L111.5,245.9 L112.1,246.4 L112.6,246.8 L113.2,247.1 L113.8,247.4 L114.3,247.7 L114.9,248 L115.4,248.2 L116,248.5 L116.6,248.7 L117.1,248.8 L117.7,249 L118.3,249.1 L118.8,249.2 L119.4,249.3 L120,249.4 L120.5,249.5 L121.1,249.6 L121.7,249.6 L122.2,249.7 L122.8,249.7 L123.4,249.8 L123.9,249.8 L124.5,249.8 L125.1,249.9 L125.6,249.9 L126.2,249.9 L126.8,249.9 L127.3,249.9 L127.9,249.9 L128.5,250 L129,250 L129.6,250 L130.2,250 L130.7,250 L131.3,250 L131.9,250 L132.4,250 L133,250 L133.6,250 L134.1,250 L134.7,250 L135.3,250 L135.8,250 L136.4,250 L137,250 L137.5,250 L138.1,250 L138.7,250 L139.2,250 L139.8,250 L140.4,250 L140.9,250 L141.5,250 L142.1,250" fill="none" stroke="#ad2243" stroke-width="0.9"/><path d="M43,250 L43.6,250 L44.1,250 L44.7,250 L45.3,250 L45.8,250 L46.4,250 L47,250 L47.5,250 L48.1,250 L48.7,250 L49.2,250 L49.8,250 L50.4,250 L50.9,250 L51.5,250 L52.1,250 L52.6,250 L53.2,250 L53.8,250 L54.3,250 L54.9,250 L55.5,250 L56,250 L56.6,249.9 L57.1,249.9 L57.7,249.9 L58.3,249.9 L58.8,249.9 L59.4,249.9 L60,249.8 L60.5,249.8 L61.1,249.8 L61.7,249.8 L62.2,249.7 L62.8,249.7 L63.4,249.6 L63.9,249.5 L64.5,249.5 L65.1,249.4 L65.6,249.3 L66.2,249.2 L66.8,249.1 L67.3,248.9 L67.9,248.8 L68.5,248.6 L69,248.4 L69.6,248.2 L70.2,248 L70.7,247.7 L71.3,247.4 L71.9,247.1 L72.4,246.7 L73,246.3 L73.6,245.9 L74.1,245.4 L74.7,244.9 L75.3,244.3 L75.8,243.7 L76.4,243 L77,242.2 L77.5,241.4 L78.1,240.5 L78.7,239.6 L79.2,238.6 L79.8,237.5 L80.4,236.4 L80.9,235.1 L81.5,233.8 L82.1,232.4 L82.6,231 L83.2,229.5 L83.8,227.9 L84.3,226.2 L84.9,224.4 L85.5,222.6 L86,220.8 L86.6,218.9 L87.1,216.9 L87.7,214.9 L88.3,212.9 L88.8,210.9 L89.4,208.9 L90,206.9 L90.5,204.9 L91.1,202.9 L91.7,201 L92.2,199.1 L92.8,197.4 L93.4,195.7 L93.9,194.2 L94.5,192.8 L95.1,191.5 L95.6,190.5 L96.2,189.6 L96.8,189 L97.3,188.7 L97.9,188.8 L98.5,189.4 L99,190.2 L99.6,191.2 L100.2,192.5 L100.7,193.9 L101.3,195.5 L101.9,197.2 L102.4,199.1 L103,201 L103.6,203.1 L104.1,205.1 L104.7,207.3 L105.3,209.4 L105.8,211.5 L106.4,213.7 L107,215.8 L107.5,217.9 L108.1,219.9 L108.7,221.9 L109.2,223.8 L109.8,225.7 L110.4,227.4 L110.9,229.1 L111.5,230.8 L112.1,232.3 L112.6,233.8 L113.2,235.2 L113.8,236.5 L114.3,237.7 L114.9,238.8 L115.4,239.8 L116,240.8 L116.6,241.7 L117.1,242.5 L117.7,243.3 L118.3,244 L118.8,244.6 L119.4,245.2 L120,245.8 L120.5,246.2 L121.1,246.7 L121.7,247.1 L122.2,247.4 L122.8,247.7 L123.4,248 L123.9,248.2 L124.5,248.5 L125.1,248.7 L125.6,248.8 L126.2,249 L126.8,249.1 L127.3,249.2 L127.9,249.3 L128.5,249.4 L129,249.5 L129.6,249.6 L130.2,249.6 L130.7,249.7 L131.3,249.7 L131.9,249.8 L132.4,249.8 L133,249.8 L133.6,249.9 L134.1,249.9 L134.7,249.9 L135.3,249.9 L135.8,249.9 L136.4,249.9 L137,250 L137.5,250 L138.1,250 L138.7,250 L139.2,250 L139.8,250 L140.4,250 L140.9,250 L141.5,250 L142.1,250" fill="none" stroke="#4a8f4c" stroke-width="1.05"/><circle cx="127.9" cy="250" r="1.5" fill="#8c1230"/><circle cx="142.1" cy="250" r="1.5" fill="#8c1230"/><rect x="41.6" y="248.6" width="2.8" height="2.8" fill="#a8183c"/><rect x="84" y="180.8" width="2.8" height="2.8" fill="#a8183c"/><rect x="84" y="203.1" width="2.8" height="2.8" fill="#4aa84e"/><circle cx="71.3" cy="221" r="1.5" fill="#8c1230"/><rect x="69.9" y="224.8" width="2.8" height="2.8" fill="#a8183c"/><circle cx="99.6" cy="190" r="1.5" fill="#3c9a42"/><circle cx="99.6" cy="239.5" r="1.5" fill="#8c1230"/><rect x="98.2" y="231" width="2.8" height="2.8" fill="#4aa84e"/><circle cx="113.8" cy="236.8" r="1.5" fill="#3c9a42"/><circle cx="113.8" cy="247.9" r="1.5" fill="#8c1230"/><circle cx="127.9" cy="238.6" r="1.5" fill="#3c9a42"/><circle cx="85.5" cy="221" r="1.5" fill="#3c9a42"/><path d="M43,178 V250 H145.1" fill="none" stroke="#262626" stroke-width="1.35"/><path d="M40.5,250 H43 M40.5,229.3 H43 M40.5,208.6 H43 M40.5,188 H43 M43,250 V252.5 M57.1,250 V252.5 M71.3,250 V252.5 M85.5,250 V252.5 M99.6,250 V252.5 M113.8,250 V252.5 M127.9,250 V252.5 M142.1,250 V252.5" stroke="#262626" stroke-width="1.1"/><text x="37.4" y="252.4" text-anchor="end" class="tk">0</text><text x="37.4" y="231.7" text-anchor="end" class="tk">20</text><text x="37.4" y="211" text-anchor="end" class="tk">40</text><text x="37.4" y="190.3" text-anchor="end" class="tk">60</text><text x="43" y="262.8" text-anchor="middle" class="tk">1</text><text x="57.1" y="262.8" text-anchor="middle" class="tk">2</text><text x="71.3" y="262.8" text-anchor="middle" class="tk">3</text><text x="85.5" y="262.8" text-anchor="middle" class="tk">4</text><text x="99.6" y="262.8" text-anchor="middle" class="tk">5</text><text x="113.8" y="262.8" text-anchor="middle" class="tk">6</text><text x="127.9" y="262.8" text-anchor="middle" class="tk">7</text><text x="142.1" y="262.8" text-anchor="middle" class="tk">8</text><text x="28" y="174.6" class="pl">C</text></g><g><polygon points="214.1,203 214.7,201 215.2,199 215.8,197.2 216.4,195.5 216.9,193.9 217.5,192.5 218.1,191.3 218.6,190.2 219.2,189.4 219.8,188.9 220.3,188.7 220.9,188.9 221.5,189.4 222,190.2 222.6,191.2 223.2,192.4 223.7,193.8 224.3,195.4 224.9,197 225.4,198.8 226,200.7 226.6,202.7 227.1,204.8 227.7,206.8 228.3,209 228.8,211.1 229.4,213.2 230,215.3 230.5,217.4 231.1,219.4 231.7,221.4 232.2,223.3 232.8,225.2 233.4,227 233.9,228.7 234.5,230.4 235.1,232 235.6,233.4 236.2,234.8 236.8,236.2 237.3,237.4 237.9,238.6 238.4,239.6 239,240.6 239.6,241.6 240.1,242.4 240.7,243.2 241.3,243.9 241.8,244.6 242.4,245.2 243,245.7 243.5,246.2 244.1,246.6 244.7,247 245.2,247.4 245.8,247.7 246.4,248 246.9,248.2 247.5,248.5 248.1,248.7 248.6,248.8 249.2,249 249.8,249.1 250.3,249.3 250.9,249.4 251.5,249.4 252,249.5 252.6,249.6 253.2,249.7 253.7,249.7 254.3,249.8 254.9,249.8 255.4,249.8 256,249.9 256.6,249.9 257.1,249.9 257.7,249.9 258.3,249.9 258.8,249.9 259.4,249.9 259.4,250 258.8,250 258.3,249.9 257.7,249.9 257.1,249.9 256.6,249.9 256,249.9 255.4,249.9 254.9,249.9 254.3,249.9 253.7,249.8 253.2,249.8 252.6,249.8 252,249.8 251.5,249.7 250.9,249.7 250.3,249.6 249.8,249.6 249.2,249.5 248.6,249.5 248.1,249.4 247.5,249.3 246.9,249.3 246.4,249.2 245.8,249.1 245.2,248.9 244.7,248.8 244.1,248.7 243.5,248.5 243,248.4 242.4,248.2 241.8,248 241.3,247.8 240.7,247.6 240.1,247.4 239.6,247.1 239,246.8 238.4,246.5 237.9,246.2 237.3,245.8 236.8,245.5 236.2,245.1 235.6,244.6 235.1,244.2 234.5,243.7 233.9,243.2 233.4,242.7 232.8,242.1 232.2,241.5 231.7,240.9 231.1,240.3 230.5,239.6 230,238.9 229.4,238.2 228.8,237.4 228.3,236.3 227.7,234.8 227.1,233.3 226.6,231.8 226,230.2 225.4,228.7 224.9,227.2 224.3,225.7 223.7,224.3 223.2,222.9 222.6,221.6 222,220.3 221.5,219.2 220.9,218.1 220.3,217 219.8,216.1 219.2,215.3 218.6,214.5 218.1,213.9 217.5,212.6 216.9,211.2 216.4,209.7 215.8,208.3 215.2,206.9 214.7,205.6 214.1,204.4" fill="#acd698" stroke="none"/><path d="M166,249.8 L166.6,249.8 L167.1,249.7 L167.7,249.7 L168.3,249.6 L168.8,249.6 L169.4,249.5 L170,249.5 L170.5,249.4 L171.1,249.3 L171.7,249.2 L172.2,249.1 L172.8,249 L173.4,248.9 L173.9,248.8 L174.5,248.6 L175.1,248.5 L175.6,248.3 L176.2,248.1 L176.8,247.9 L177.3,247.7 L177.9,247.4 L178.5,247.1 L179,246.9 L179.6,246.5 L180.2,246.2 L180.7,245.9 L181.3,245.5 L181.8,245.1 L182.4,244.6 L183,244.1 L183.5,243.6 L184.1,243.1 L184.7,242.5 L185.2,242 L185.8,241.3 L186.4,240.7 L186.9,240 L187.5,239.3 L188.1,238.5 L188.6,237.8 L189.2,237 L189.8,236.1 L190.3,235.3 L190.9,234.4 L191.5,233.5 L192,232.6 L192.6,231.6 L193.2,230.7 L193.7,229.7 L194.3,228.8 L194.9,227.8 L195.4,226.8 L196,225.8 L196.6,224.8 L197.1,223.9 L197.7,222.9 L198.3,222 L198.8,221.1 L199.4,220.2 L200,219.3 L200.5,218.5 L201.1,217.7 L201.7,216.9 L202.2,216.2 L202.8,215.6 L203.4,215 L203.9,214.4 L204.5,213.9 L205.1,213.5 L205.6,213.1 L206.2,212.8 L206.8,212.6 L207.3,212.4 L207.9,212.3 L208.4,212.3 L209,212.3 L209.6,212.4 L210.1,212.5 L210.7,212.8 L211.3,213.1 L211.8,213.4 L212.4,213.8 L213,214.3 L213.5,214.8 L214.1,215.3 L214.7,215.9 L215.2,216.6 L215.8,217.3 L216.4,218 L216.9,218.8 L217.5,219.6 L218.1,220.5 L218.6,221.3 L219.2,222.2 L219.8,223.1 L220.3,224 L220.9,225 L221.5,225.9 L222,226.8 L222.6,227.8 L223.2,228.7 L223.7,229.7 L224.3,230.6 L224.9,231.5 L225.4,232.4 L226,233.3 L226.6,234.2 L227.1,235 L227.7,235.8 L228.3,236.6 L228.8,237.4 L229.4,238.2 L230,238.9 L230.5,239.6 L231.1,240.3 L231.7,240.9 L232.2,241.5 L232.8,242.1 L233.4,242.7 L233.9,243.2 L234.5,243.7 L235.1,244.2 L235.6,244.6 L236.2,245.1 L236.8,245.5 L237.3,245.8 L237.9,246.2 L238.4,246.5 L239,246.8 L239.6,247.1 L240.1,247.4 L240.7,247.6 L241.3,247.8 L241.8,248 L242.4,248.2 L243,248.4 L243.5,248.5 L244.1,248.7 L244.7,248.8 L245.2,248.9 L245.8,249.1 L246.4,249.2 L246.9,249.3 L247.5,249.3 L248.1,249.4 L248.6,249.5 L249.2,249.5 L249.8,249.6 L250.3,249.6 L250.9,249.7 L251.5,249.7 L252,249.8 L252.6,249.8 L253.2,249.8 L253.7,249.8 L254.3,249.9 L254.9,249.9 L255.4,249.9 L256,249.9 L256.6,249.9 L257.1,249.9 L257.7,249.9 L258.3,249.9 L258.8,250 L259.4,250 L260,250 L260.5,250 L261.1,250 L261.7,250 L262.2,250 L262.8,250 L263.4,250 L263.9,250 L264.5,250 L265.1,250" fill="none" stroke="#62a862" stroke-width="0.9" stroke-dasharray="2.2,1.8"/><path d="M166,248.9 L166.6,248.8 L167.1,248.7 L167.7,248.5 L168.3,248.4 L168.8,248.3 L169.4,248.1 L170,247.9 L170.5,247.7 L171.1,247.5 L171.7,247.3 L172.2,247.1 L172.8,246.9 L173.4,246.6 L173.9,246.3 L174.5,246 L175.1,245.7 L175.6,245.4 L176.2,245 L176.8,244.7 L177.3,244.3 L177.9,243.9 L178.5,243.4 L179,243 L179.6,242.5 L180.2,242 L180.7,241.5 L181.3,240.9 L181.8,240.4 L182.4,239.8 L183,239.2 L183.5,238.5 L184.1,237.9 L184.7,237.2 L185.2,236.5 L185.8,235.8 L186.4,235.1 L186.9,234.3 L187.5,233.6 L188.1,232.8 L188.6,232 L189.2,231.2 L189.8,230.3 L190.3,229.5 L190.9,228.7 L191.5,227.8 L192,227 L192.6,226.1 L193.2,225.3 L193.7,224.4 L194.3,223.6 L194.9,222.8 L195.4,221.9 L196,221.1 L196.6,220.3 L197.1,219.5 L197.7,218.8 L198.3,218 L198.8,217.3 L199.4,216.6 L200,215.9 L200.5,215.3 L201.1,214.7 L201.7,214.1 L202.2,213.6 L202.8,213.1 L203.4,212.7 L203.9,212.3 L204.5,211.9 L205.1,211.6 L205.6,211.3 L206.2,211.1 L206.8,210.9 L207.3,210.8 L207.9,210.7 L208.4,210.7 L209,210.7 L209.6,210.7 L210.1,210.7 L210.7,210.7 L211.3,210.8 L211.8,210.8 L212.4,210.9 L213,210.9 L213.5,211.1 L214.1,211.2 L214.7,211.4 L215.2,211.7 L215.8,212 L216.4,212.3 L216.9,212.8 L217.5,213.3 L218.1,213.9 L218.6,214.5 L219.2,215.3 L219.8,216.1 L220.3,217 L220.9,218.1 L221.5,219.2 L222,220.3 L222.6,221.6 L223.2,222.9 L223.7,224.3 L224.3,225.7 L224.9,227.2 L225.4,228.7 L226,230.2 L226.6,231.8 L227.1,233.3 L227.7,234.8 L228.3,236.3 L228.8,237.7 L229.4,239 L230,240.3 L230.5,241.5 L231.1,242.7 L231.7,243.7 L232.2,244.6 L232.8,245.5 L233.4,246.2 L233.9,246.9 L234.5,247.5 L235.1,247.9 L235.6,248.4 L236.2,248.7 L236.8,249 L237.3,249.2 L237.9,249.4 L238.4,249.6 L239,249.7 L239.6,249.8 L240.1,249.8 L240.7,249.9 L241.3,249.9 L241.8,249.9 L242.4,250 L243,250 L243.5,250 L244.1,250 L244.7,250 L245.2,250 L245.8,250 L246.4,250 L246.9,250 L247.5,250 L248.1,250 L248.6,250 L249.2,250 L249.8,250 L250.3,250 L250.9,250 L251.5,250 L252,250 L252.6,250 L253.2,250 L253.7,250 L254.3,250 L254.9,250 L255.4,250 L256,250 L256.6,250 L257.1,250 L257.7,250 L258.3,250 L258.8,250 L259.4,250 L260,250 L260.5,250 L261.1,250 L261.7,250 L262.2,250 L262.8,250 L263.4,250 L263.9,250 L264.5,250 L265.1,250" fill="none" stroke="#b02a48" stroke-width="0.9" stroke-dasharray="2.2,1.8"/><path d="M166,249.9 L166.6,249.9 L167.1,249.9 L167.7,249.9 L168.3,249.8 L168.8,249.8 L169.4,249.8 L170,249.7 L170.5,249.7 L171.1,249.6 L171.7,249.6 L172.2,249.5 L172.8,249.4 L173.4,249.4 L173.9,249.3 L174.5,249.2 L175.1,249.1 L175.6,248.9 L176.2,248.8 L176.8,248.6 L177.3,248.4 L177.9,248.2 L178.5,248 L179,247.8 L179.6,247.5 L180.2,247.2 L180.7,246.8 L181.3,246.5 L181.8,246.1 L182.4,245.7 L183,245.2 L183.5,244.7 L184.1,244.2 L184.7,243.6 L185.2,242.9 L185.8,242.3 L186.4,241.6 L186.9,240.8 L187.5,240 L188.1,239.1 L188.6,238.2 L189.2,237.3 L189.8,236.3 L190.3,235.2 L190.9,234.1 L191.5,233 L192,231.8 L192.6,230.6 L193.2,229.4 L193.7,228.1 L194.3,226.8 L194.9,225.4 L195.4,224.1 L196,222.7 L196.6,221.3 L197.1,219.9 L197.7,218.6 L198.3,217.2 L198.8,215.8 L199.4,214.5 L200,213.1 L200.5,211.9 L201.1,210.6 L201.7,209.4 L202.2,208.3 L202.8,207.2 L203.4,206.2 L203.9,205.2 L204.5,204.4 L205.1,203.6 L205.6,202.9 L206.2,202.3 L206.8,201.8 L207.3,201.4 L207.9,201.2 L208.4,201 L209,200.9 L209.6,200.9 L210.1,201.1 L210.7,201.4 L211.3,201.8 L211.8,202.3 L212.4,203 L213,203.8 L213.5,204.6 L214.1,205.6 L214.7,206.7 L215.2,207.8 L215.8,209.1 L216.4,210.4 L216.9,211.7 L217.5,213.2 L218.1,214.6 L218.6,216.1 L219.2,217.6 L219.8,219.1 L220.3,220.7 L220.9,222.2 L221.5,223.7 L222,225.2 L222.6,226.7 L223.2,228.2 L223.7,229.6 L224.3,230.9 L224.9,232.3 L225.4,233.5 L226,234.8 L226.6,235.9 L227.1,237 L227.7,238.1 L228.3,239.1 L228.8,240.1 L229.4,240.9 L230,241.8 L230.5,242.5 L231.1,243.3 L231.7,243.9 L232.2,244.5 L232.8,245.1 L233.4,245.6 L233.9,246.1 L234.5,246.5 L235.1,246.9 L235.6,247.3 L236.2,247.6 L236.8,247.9 L237.3,248.1 L237.9,248.4 L238.4,248.6 L239,248.8 L239.6,248.9 L240.1,249.1 L240.7,249.2 L241.3,249.3 L241.8,249.4 L242.4,249.5 L243,249.6 L243.5,249.6 L244.1,249.7 L244.7,249.7 L245.2,249.8 L245.8,249.8 L246.4,249.8 L246.9,249.9 L247.5,249.9 L248.1,249.9 L248.6,249.9 L249.2,249.9 L249.8,249.9 L250.3,250 L250.9,250 L251.5,250 L252,250 L252.6,250 L253.2,250 L253.7,250 L254.3,250 L254.9,250 L255.4,250 L256,250 L256.6,250 L257.1,250 L257.7,250 L258.3,250 L258.8,250 L259.4,250 L260,250 L260.5,250 L261.1,250 L261.7,250 L262.2,250 L262.8,250 L263.4,250 L263.9,250 L264.5,250 L265.1,250" fill="none" stroke="#384852" stroke-width="0.9"/><path d="M166,249.7 L166.6,249.7 L167.1,249.7 L167.7,249.6 L168.3,249.6 L168.8,249.5 L169.4,249.4 L170,249.4 L170.5,249.3 L171.1,249.2 L171.7,249.1 L172.2,249 L172.8,248.9 L173.4,248.7 L173.9,248.6 L174.5,248.4 L175.1,248.2 L175.6,248 L176.2,247.8 L176.8,247.6 L177.3,247.4 L177.9,247.1 L178.5,246.8 L179,246.5 L179.6,246.1 L180.2,245.7 L180.7,245.3 L181.3,244.9 L181.8,244.4 L182.4,243.9 L183,243.4 L183.5,242.8 L184.1,242.2 L184.7,241.5 L185.2,240.8 L185.8,240.1 L186.4,239.3 L186.9,238.5 L187.5,237.7 L188.1,236.8 L188.6,235.8 L189.2,234.8 L189.8,233.8 L190.3,232.8 L190.9,231.6 L191.5,230.5 L192,229.3 L192.6,228.1 L193.2,226.8 L193.7,225.6 L194.3,224.3 L194.9,222.9 L195.4,221.6 L196,220.2 L196.6,218.8 L197.1,217.4 L197.7,216.1 L198.3,214.7 L198.8,213.3 L199.4,211.9 L200,210.6 L200.5,209.3 L201.1,208 L201.7,206.8 L202.2,205.6 L202.8,204.5 L203.4,203.4 L203.9,202.4 L204.5,201.5 L205.1,200.6 L205.6,199.9 L206.2,199.3 L206.8,198.7 L207.3,198.3 L207.9,198 L208.4,197.8 L209,197.8 L209.6,198 L210.1,198.4 L210.7,198.9 L211.3,199.5 L211.8,200.3 L212.4,201.2 L213,202.2 L213.5,203.2 L214.1,204.4 L214.7,205.6 L215.2,206.9 L215.8,208.3 L216.4,209.7 L216.9,211.2 L217.5,212.6 L218.1,214.1 L218.6,215.7 L219.2,217.2 L219.8,218.7 L220.3,220.2 L220.9,221.7 L221.5,223.2 L222,224.7 L222.6,226.1 L223.2,227.5 L223.7,228.8 L224.3,230.2 L224.9,231.4 L225.4,232.6 L226,233.8 L226.6,234.9 L227.1,236 L227.7,237 L228.3,238 L228.8,238.9 L229.4,239.8 L230,240.6 L230.5,241.4 L231.1,242.1 L231.7,242.8 L232.2,243.4 L232.8,244 L233.4,244.5 L233.9,245.1 L234.5,245.5 L235.1,245.9 L235.6,246.3 L236.2,246.7 L236.8,247 L237.3,247.3 L237.9,247.6 L238.4,247.9 L239,248.1 L239.6,248.3 L240.1,248.5 L240.7,248.7 L241.3,248.8 L241.8,249 L242.4,249.1 L243,249.2 L243.5,249.3 L244.1,249.4 L244.7,249.4 L245.2,249.5 L245.8,249.6 L246.4,249.6 L246.9,249.7 L247.5,249.7 L248.1,249.8 L248.6,249.8 L249.2,249.8 L249.8,249.8 L250.3,249.9 L250.9,249.9 L251.5,249.9 L252,249.9 L252.6,249.9 L253.2,249.9 L253.7,249.9 L254.3,250 L254.9,250 L255.4,250 L256,250 L256.6,250 L257.1,250 L257.7,250 L258.3,250 L258.8,250 L259.4,250 L260,250 L260.5,250 L261.1,250 L261.7,250 L262.2,250 L262.8,250 L263.4,250 L263.9,250 L264.5,250 L265.1,250" fill="none" stroke="#ad2243" stroke-width="0.9"/><path d="M166,250 L166.6,250 L167.1,250 L167.7,250 L168.3,250 L168.8,250 L169.4,250 L170,250 L170.5,250 L171.1,250 L171.7,250 L172.2,250 L172.8,250 L173.4,250 L173.9,250 L174.5,250 L175.1,250 L175.6,250 L176.2,250 L176.8,250 L177.3,250 L177.9,250 L178.5,250 L179,250 L179.6,250 L180.2,250 L180.7,250 L181.3,250 L181.8,249.9 L182.4,249.9 L183,249.9 L183.5,249.9 L184.1,249.9 L184.7,249.9 L185.2,249.8 L185.8,249.8 L186.4,249.8 L186.9,249.7 L187.5,249.7 L188.1,249.6 L188.6,249.6 L189.2,249.5 L189.8,249.4 L190.3,249.3 L190.9,249.2 L191.5,249.1 L192,248.9 L192.6,248.8 L193.2,248.6 L193.7,248.4 L194.3,248.1 L194.9,247.8 L195.4,247.5 L196,247.2 L196.6,246.8 L197.1,246.4 L197.7,245.9 L198.3,245.4 L198.8,244.8 L199.4,244.2 L200,243.5 L200.5,242.7 L201.1,241.9 L201.7,241 L202.2,240 L202.8,238.9 L203.4,237.8 L203.9,236.6 L204.5,235.3 L205.1,233.9 L205.6,232.4 L206.2,230.8 L206.8,229.2 L207.3,227.4 L207.9,225.6 L208.4,223.8 L209,221.8 L209.6,219.8 L210.1,217.8 L210.7,215.7 L211.3,213.6 L211.8,211.4 L212.4,209.3 L213,207.1 L213.5,205 L214.1,203 L214.7,201 L215.2,199 L215.8,197.2 L216.4,195.5 L216.9,193.9 L217.5,192.5 L218.1,191.3 L218.6,190.2 L219.2,189.4 L219.8,188.9 L220.3,188.7 L220.9,188.9 L221.5,189.4 L222,190.2 L222.6,191.2 L223.2,192.4 L223.7,193.8 L224.3,195.4 L224.9,197 L225.4,198.8 L226,200.7 L226.6,202.7 L227.1,204.8 L227.7,206.8 L228.3,209 L228.8,211.1 L229.4,213.2 L230,215.3 L230.5,217.4 L231.1,219.4 L231.7,221.4 L232.2,223.3 L232.8,225.2 L233.4,227 L233.9,228.7 L234.5,230.4 L235.1,232 L235.6,233.4 L236.2,234.8 L236.8,236.2 L237.3,237.4 L237.9,238.6 L238.4,239.6 L239,240.6 L239.6,241.6 L240.1,242.4 L240.7,243.2 L241.3,243.9 L241.8,244.6 L242.4,245.2 L243,245.7 L243.5,246.2 L244.1,246.6 L244.7,247 L245.2,247.4 L245.8,247.7 L246.4,248 L246.9,248.2 L247.5,248.5 L248.1,248.7 L248.6,248.8 L249.2,249 L249.8,249.1 L250.3,249.3 L250.9,249.4 L251.5,249.4 L252,249.5 L252.6,249.6 L253.2,249.7 L253.7,249.7 L254.3,249.8 L254.9,249.8 L255.4,249.8 L256,249.9 L256.6,249.9 L257.1,249.9 L257.7,249.9 L258.3,249.9 L258.8,249.9 L259.4,249.9 L260,250 L260.5,250 L261.1,250 L261.7,250 L262.2,250 L262.8,250 L263.4,250 L263.9,250 L264.5,250 L265.1,250" fill="none" stroke="#4a8f4c" stroke-width="1.05"/><circle cx="250.9" cy="250" r="1.5" fill="#8c1230"/><circle cx="265.1" cy="250" r="1.5" fill="#8c1230"/><rect x="164.6" y="248.6" width="2.8" height="2.8" fill="#a8183c"/><rect x="192.9" y="213.8" width="2.8" height="2.8" fill="#a8183c"/><circle cx="194.3" cy="221.6" r="1.5" fill="#8c1230"/><circle cx="194.3" cy="228.8" r="1.5" fill="#2c3e50"/><circle cx="208.4" cy="198" r="1.5" fill="#8c1230"/><circle cx="208.4" cy="203.5" r="1.5" fill="#2c3e50"/><circle cx="208.4" cy="220.6" r="1.5" fill="#3c9a42"/><rect x="207" y="222" width="2.8" height="2.8" fill="#4aa84e"/><rect x="221.2" y="213.8" width="2.8" height="2.8" fill="#a8183c"/><circle cx="222.6" cy="211" r="1.5" fill="#3c9a42"/><circle cx="222.6" cy="223.4" r="1.5" fill="#8c1230"/><circle cx="236.8" cy="246.7" r="1.5" fill="#8c1230"/><circle cx="236.8" cy="236.8" r="1.5" fill="#3c9a42"/><circle cx="250.9" cy="248.4" r="1.5" fill="#3c9a42"/><path d="M166,178 V250 H268.1" fill="none" stroke="#262626" stroke-width="1.35"/><path d="M163.5,250 H166 M163.5,229.3 H166 M163.5,208.6 H166 M163.5,188 H166 M166,250 V252.5 M180.2,250 V252.5 M194.3,250 V252.5 M208.4,250 V252.5 M222.6,250 V252.5 M236.8,250 V252.5 M250.9,250 V252.5 M265.1,250 V252.5" stroke="#262626" stroke-width="1.1"/><text x="160.4" y="252.4" text-anchor="end" class="tk">0</text><text x="160.4" y="231.7" text-anchor="end" class="tk">20</text><text x="160.4" y="211" text-anchor="end" class="tk">40</text><text x="160.4" y="190.3" text-anchor="end" class="tk">60</text><text x="166" y="262.8" text-anchor="middle" class="tk">1</text><text x="180.2" y="262.8" text-anchor="middle" class="tk">2</text><text x="194.3" y="262.8" text-anchor="middle" class="tk">3</text><text x="208.4" y="262.8" text-anchor="middle" class="tk">4</text><text x="222.6" y="262.8" text-anchor="middle" class="tk">5</text><text x="236.8" y="262.8" text-anchor="middle" class="tk">6</text><text x="250.9" y="262.8" text-anchor="middle" class="tk">7</text><text x="265.1" y="262.8" text-anchor="middle" class="tk">8</text><text x="151.2" y="174.6" class="pl">D</text></g><g><polygon points="337,199.8 337.5,197.9 338.1,196.2 338.7,194.6 339.2,193.1 339.8,191.8 340.4,190.7 340.9,189.8 341.5,189.1 342.1,188.7 342.6,188.7 343.2,189.1 343.8,189.6 344.3,190.4 344.9,191.4 345.5,192.6 346,193.9 346.6,195.3 347.2,196.9 347.7,198.5 348.3,200.3 348.9,202.1 349.4,204 350,205.9 350.6,207.9 351.1,209.8 351.7,211.8 352.3,213.8 352.8,215.7 353.4,217.6 354,219.5 354.5,221.4 355.1,223.2 355.7,224.9 356.2,226.6 356.8,228.2 357.4,229.8 357.9,231.3 358.5,232.7 359.1,234.1 359.6,235.3 360.2,236.5 360.7,237.7 361.3,238.7 361.9,239.7 362.4,240.6 363,241.5 363.6,242.3 364.1,243 364.7,243.7 365.3,244.3 365.8,244.9 366.4,245.4 367,245.9 367.5,246.4 368.1,246.8 368.7,247.1 369.2,247.4 369.8,247.7 370.4,248 370.9,248.2 371.5,248.4 372.1,248.6 372.6,248.8 373.2,248.9 373.8,249.1 374.3,249.2 374.9,249.3 375.5,249.4 376,249.5 376.6,249.5 377.2,249.6 377.7,249.7 378.3,249.7 378.9,249.8 379.4,249.8 380,249.8 380.6,249.8 381.1,249.9 381.7,249.9 382.3,249.9 382.8,249.9 383.4,249.9 384,249.9 384.5,250 385.1,250 385.7,250 386.2,250 386.8,250 387.4,250 387.4,250 386.8,250 386.2,250 385.7,250 385.1,250 384.5,250 384,250 383.4,250 382.8,250 382.3,250 381.7,250 381.1,250 380.6,250 380,250 379.4,250 378.9,250 378.3,249.9 377.7,249.9 377.2,249.9 376.6,249.9 376,249.9 375.5,249.9 374.9,249.9 374.3,249.9 373.8,249.9 373.2,249.8 372.6,249.8 372.1,249.8 371.5,249.8 370.9,249.7 370.4,249.7 369.8,249.7 369.2,249.6 368.7,249.6 368.1,249.6 367.5,249.5 367,249.4 366.4,249.4 365.8,249.3 365.3,249.2 364.7,249.1 364.1,249 363.6,248.9 363,248.8 362.4,248.7 361.9,248.5 361.3,248.4 360.7,248.2 360.2,248 359.6,247.8 359.1,247.6 358.5,247.3 357.9,247.1 357.4,246.8 356.8,246.5 356.2,246.1 355.7,245.6 355.1,245.1 354.5,244.5 354,243.9 353.4,243.2 352.8,242.5 352.3,241.7 351.7,240.8 351.1,239.9 350.6,238.9 350,237.8 349.4,236.7 348.9,235.5 348.3,234.3 347.7,233 347.2,231.6 346.6,230.2 346,228.7 345.5,227.2 344.9,225.7 344.3,224.1 343.8,222.5 343.2,220.8 342.6,219.2 342.1,217.5 341.5,215.9 340.9,214.3 340.4,212.7 339.8,211.1 339.2,209.6 338.7,208.1 338.1,206.7 337.5,205.4 337,203.5" fill="#acd698" stroke="none"/><path d="M288.3,249.9 L288.9,249.9 L289.4,249.9 L290,249.9 L290.6,249.9 L291.1,249.8 L291.7,249.8 L292.3,249.8 L292.8,249.8 L293.4,249.7 L294,249.7 L294.5,249.6 L295.1,249.6 L295.7,249.5 L296.2,249.5 L296.8,249.4 L297.4,249.3 L297.9,249.3 L298.5,249.2 L299.1,249.1 L299.6,248.9 L300.2,248.8 L300.8,248.7 L301.3,248.5 L301.9,248.3 L302.4,248.1 L303,247.9 L303.6,247.6 L304.1,247.4 L304.7,247.1 L305.3,246.7 L305.8,246.4 L306.4,246 L307,245.5 L307.5,245 L308.1,244.5 L308.7,243.9 L309.2,243.3 L309.8,242.6 L310.4,241.9 L310.9,241.1 L311.5,240.2 L312.1,239.3 L312.6,238.3 L313.2,237.2 L313.8,236.1 L314.3,234.8 L314.9,233.5 L315.5,232.1 L316,230.6 L316.6,229 L317.2,227.3 L317.7,225.5 L318.3,223.7 L318.9,221.7 L319.4,219.6 L320,217.5 L320.6,215.3 L321.1,213 L321.7,210.6 L322.3,208.2 L322.8,205.7 L323.4,203.2 L324,200.6 L324.5,198.1 L325.1,195.5 L325.7,193 L326.2,190.6 L326.8,188.2 L327.4,186 L327.9,184 L328.5,182.2 L329.1,180.7 L329.6,179.8 L330.2,180.1 L330.8,181.1 L331.3,182.5 L331.9,184.2 L332.4,186 L333,187.9 L333.6,190 L334.1,192.2 L334.7,194.4 L335.3,196.6 L335.8,198.9 L336.4,201.2 L337,203.5 L337.5,205.7 L338.1,207.9 L338.7,210.1 L339.2,212.2 L339.8,214.3 L340.4,216.3 L340.9,218.3 L341.5,220.2 L342.1,222 L342.6,223.7 L343.2,225.4 L343.8,227 L344.3,228.5 L344.9,229.9 L345.5,231.3 L346,232.6 L346.6,233.9 L347.2,235 L347.7,236.1 L348.3,237.1 L348.9,238.1 L349.4,239 L350,239.9 L350.6,240.7 L351.1,241.4 L351.7,242.1 L352.3,242.8 L352.8,243.3 L353.4,243.9 L354,244.4 L354.5,244.9 L355.1,245.3 L355.7,245.7 L356.2,246.1 L356.8,246.5 L357.4,246.8 L357.9,247.1 L358.5,247.3 L359.1,247.6 L359.6,247.8 L360.2,248 L360.7,248.2 L361.3,248.4 L361.9,248.5 L362.4,248.7 L363,248.8 L363.6,248.9 L364.1,249 L364.7,249.1 L365.3,249.2 L365.8,249.3 L366.4,249.4 L367,249.4 L367.5,249.5 L368.1,249.6 L368.7,249.6 L369.2,249.6 L369.8,249.7 L370.4,249.7 L370.9,249.7 L371.5,249.8 L372.1,249.8 L372.6,249.8 L373.2,249.8 L373.8,249.9 L374.3,249.9 L374.9,249.9 L375.5,249.9 L376,249.9 L376.6,249.9 L377.2,249.9 L377.7,249.9 L378.3,249.9 L378.9,250 L379.4,250 L380,250 L380.6,250 L381.1,250 L381.7,250 L382.3,250 L382.8,250 L383.4,250 L384,250 L384.5,250 L385.1,250 L385.7,250 L386.2,250 L386.8,250 L387.4,250" fill="none" stroke="#62a862" stroke-width="0.9" stroke-dasharray="2.2,1.8"/><path d="M288.3,249.9 L288.9,249.9 L289.4,249.9 L290,249.9 L290.6,249.9 L291.1,249.8 L291.7,249.8 L292.3,249.8 L292.8,249.8 L293.4,249.7 L294,249.7 L294.5,249.7 L295.1,249.6 L295.7,249.6 L296.2,249.5 L296.8,249.4 L297.4,249.4 L297.9,249.3 L298.5,249.2 L299.1,249.1 L299.6,248.9 L300.2,248.8 L300.8,248.7 L301.3,248.5 L301.9,248.3 L302.4,248.1 L303,247.9 L303.6,247.6 L304.1,247.4 L304.7,247 L305.3,246.7 L305.8,246.3 L306.4,245.9 L307,245.5 L307.5,245 L308.1,244.5 L308.7,243.9 L309.2,243.3 L309.8,242.6 L310.4,241.8 L310.9,241 L311.5,240.2 L312.1,239.2 L312.6,238.2 L313.2,237.2 L313.8,236 L314.3,234.8 L314.9,233.5 L315.5,232.1 L316,230.6 L316.6,229 L317.2,227.4 L317.7,225.6 L318.3,223.8 L318.9,221.9 L319.4,219.9 L320,217.9 L320.6,215.7 L321.1,213.6 L321.7,211.3 L322.3,209 L322.8,206.7 L323.4,204.3 L324,201.9 L324.5,199.6 L325.1,197.3 L325.7,195 L326.2,192.8 L326.8,190.7 L327.4,188.7 L327.9,186.9 L328.5,185.4 L329.1,184.2 L329.6,183.4 L330.2,183.6 L330.8,184.5 L331.3,185.8 L331.9,187.2 L332.4,188.8 L333,190.6 L333.6,192.5 L334.1,194.5 L334.7,196.6 L335.3,198.7 L335.8,200.8 L336.4,203 L337,205.1 L337.5,207.3 L338.1,209.4 L338.7,211.5 L339.2,213.5 L339.8,215.5 L340.4,217.5 L340.9,219.4 L341.5,221.2 L342.1,222.9 L342.6,224.6 L343.2,226.3 L343.8,227.8 L344.3,229.3 L344.9,230.7 L345.5,232.1 L346,233.3 L346.6,234.5 L347.2,235.7 L347.7,236.7 L348.3,237.8 L348.9,238.7 L349.4,239.6 L350,240.4 L350.6,241.2 L351.1,241.9 L351.7,242.6 L352.3,243.2 L352.8,243.8 L353.4,244.3 L354,244.8 L354.5,245.3 L355.1,245.7 L355.7,246.1 L356.2,246.4 L356.8,246.8 L357.4,247.1 L357.9,247.4 L358.5,247.6 L359.1,247.8 L359.6,248 L360.2,248.2 L360.7,248.4 L361.3,248.6 L361.9,248.7 L362.4,248.8 L363,249 L363.6,249.1 L364.1,249.2 L364.7,249.3 L365.3,249.3 L365.8,249.4 L366.4,249.5 L367,249.5 L367.5,249.6 L368.1,249.6 L368.7,249.7 L369.2,249.7 L369.8,249.7 L370.4,249.8 L370.9,249.8 L371.5,249.8 L372.1,249.8 L372.6,249.9 L373.2,249.9 L373.8,249.9 L374.3,249.9 L374.9,249.9 L375.5,249.9 L376,249.9 L376.6,249.9 L377.2,250 L377.7,250 L378.3,250 L378.9,250 L379.4,250 L380,250 L380.6,250 L381.1,250 L381.7,250 L382.3,250 L382.8,250 L383.4,250 L384,250 L384.5,250 L385.1,250 L385.7,250 L386.2,250 L386.8,250 L387.4,250" fill="none" stroke="#b02a48" stroke-width="0.9" stroke-dasharray="2.2,1.8"/><path d="M288.3,250 L288.9,250 L289.4,250 L290,250 L290.6,250 L291.1,250 L291.7,250 L292.3,249.9 L292.8,249.9 L293.4,249.9 L294,249.9 L294.5,249.9 L295.1,249.9 L295.7,249.8 L296.2,249.8 L296.8,249.7 L297.4,249.7 L297.9,249.6 L298.5,249.6 L299.1,249.5 L299.6,249.4 L300.2,249.3 L300.8,249.2 L301.3,249 L301.9,248.8 L302.4,248.7 L303,248.4 L303.6,248.2 L304.1,247.9 L304.7,247.6 L305.3,247.3 L305.8,246.9 L306.4,246.5 L307,246 L307.5,245.4 L308.1,244.9 L308.7,244.2 L309.2,243.5 L309.8,242.7 L310.4,241.9 L310.9,241 L311.5,240 L312.1,239 L312.6,237.9 L313.2,236.7 L313.8,235.4 L314.3,234 L314.9,232.6 L315.5,231.2 L316,229.6 L316.6,228 L317.2,226.3 L317.7,224.6 L318.3,222.9 L318.9,221.1 L319.4,219.3 L320,217.4 L320.6,215.6 L321.1,213.8 L321.7,212 L322.3,210.2 L322.8,208.4 L323.4,206.7 L324,205.1 L324.5,203.6 L325.1,202.1 L325.7,200.8 L326.2,199.5 L326.8,198.4 L327.4,197.5 L327.9,196.6 L328.5,195.9 L329.1,195.4 L329.6,195 L330.2,194.8 L330.8,194.8 L331.3,195 L331.9,195.3 L332.4,195.9 L333,196.7 L333.6,197.7 L334.1,198.9 L334.7,200.2 L335.3,201.7 L335.8,203.4 L336.4,205.1 L337,207 L337.5,208.9 L338.1,211 L338.7,213 L339.2,215.1 L339.8,217.2 L340.4,219.3 L340.9,221.4 L341.5,223.4 L342.1,225.4 L342.6,227.4 L343.2,229.2 L343.8,231 L344.3,232.7 L344.9,234.3 L345.5,235.8 L346,237.3 L346.6,238.6 L347.2,239.8 L347.7,240.9 L348.3,242 L348.9,242.9 L349.4,243.8 L350,244.6 L350.6,245.3 L351.1,245.9 L351.7,246.4 L352.3,246.9 L352.8,247.4 L353.4,247.7 L354,248.1 L354.5,248.4 L355.1,248.6 L355.7,248.8 L356.2,249 L356.8,249.2 L357.4,249.3 L357.9,249.4 L358.5,249.5 L359.1,249.6 L359.6,249.7 L360.2,249.7 L360.7,249.8 L361.3,249.8 L361.9,249.9 L362.4,249.9 L363,249.9 L363.6,249.9 L364.1,249.9 L364.7,250 L365.3,250 L365.8,250 L366.4,250 L367,250 L367.5,250 L368.1,250 L368.7,250 L369.2,250 L369.8,250 L370.4,250 L370.9,250 L371.5,250 L372.1,250 L372.6,250 L373.2,250 L373.8,250 L374.3,250 L374.9,250 L375.5,250 L376,250 L376.6,250 L377.2,250 L377.7,250 L378.3,250 L378.9,250 L379.4,250 L380,250 L380.6,250 L381.1,250 L381.7,250 L382.3,250 L382.8,250 L383.4,250 L384,250 L384.5,250 L385.1,250 L385.7,250 L386.2,250 L386.8,250 L387.4,250" fill="none" stroke="#384852" stroke-width="0.9"/><path d="M288.3,250 L288.9,250 L289.4,250 L290,250 L290.6,250 L291.1,250 L291.7,250 L292.3,250 L292.8,250 L293.4,250 L294,250 L294.5,249.9 L295.1,249.9 L295.7,249.9 L296.2,249.9 L296.8,249.9 L297.4,249.9 L297.9,249.8 L298.5,249.8 L299.1,249.7 L299.6,249.7 L300.2,249.6 L300.8,249.6 L301.3,249.5 L301.9,249.4 L302.4,249.3 L303,249.1 L303.6,249 L304.1,248.8 L304.7,248.6 L305.3,248.4 L305.8,248.1 L306.4,247.8 L307,247.5 L307.5,247.1 L308.1,246.7 L308.7,246.2 L309.2,245.7 L309.8,245.2 L310.4,244.5 L310.9,243.8 L311.5,243.1 L312.1,242.3 L312.6,241.4 L313.2,240.4 L313.8,239.4 L314.3,238.3 L314.9,237.1 L315.5,235.8 L316,234.5 L316.6,233.1 L317.2,231.7 L317.7,230.1 L318.3,228.5 L318.9,226.9 L319.4,225.2 L320,223.5 L320.6,221.8 L321.1,220 L321.7,218.2 L322.3,216.4 L322.8,214.7 L323.4,212.9 L324,211.2 L324.5,209.6 L325.1,208 L325.7,206.5 L326.2,205.1 L326.8,203.8 L327.4,202.6 L327.9,201.5 L328.5,200.5 L329.1,199.7 L329.6,199.1 L330.2,198.6 L330.8,198.3 L331.3,198.1 L331.9,198.1 L332.4,198.3 L333,198.5 L333.6,199 L334.1,199.5 L334.7,200.2 L335.3,201 L335.8,201.9 L336.4,203 L337,204.1 L337.5,205.4 L338.1,206.7 L338.7,208.1 L339.2,209.6 L339.8,211.1 L340.4,212.7 L340.9,214.3 L341.5,215.9 L342.1,217.5 L342.6,219.2 L343.2,220.8 L343.8,222.5 L344.3,224.1 L344.9,225.7 L345.5,227.2 L346,228.7 L346.6,230.2 L347.2,231.6 L347.7,233 L348.3,234.3 L348.9,235.5 L349.4,236.7 L350,237.8 L350.6,238.9 L351.1,239.9 L351.7,240.8 L352.3,241.7 L352.8,242.5 L353.4,243.2 L354,243.9 L354.5,244.5 L355.1,245.1 L355.7,245.6 L356.2,246.1 L356.8,246.6 L357.4,247 L357.9,247.3 L358.5,247.6 L359.1,247.9 L359.6,248.2 L360.2,248.4 L360.7,248.6 L361.3,248.8 L361.9,249 L362.4,249.1 L363,249.2 L363.6,249.3 L364.1,249.4 L364.7,249.5 L365.3,249.6 L365.8,249.7 L366.4,249.7 L367,249.8 L367.5,249.8 L368.1,249.8 L368.7,249.9 L369.2,249.9 L369.8,249.9 L370.4,249.9 L370.9,249.9 L371.5,249.9 L372.1,250 L372.6,250 L373.2,250 L373.8,250 L374.3,250 L374.9,250 L375.5,250 L376,250 L376.6,250 L377.2,250 L377.7,250 L378.3,250 L378.9,250 L379.4,250 L380,250 L380.6,250 L381.1,250 L381.7,250 L382.3,250 L382.8,250 L383.4,250 L384,250 L384.5,250 L385.1,250 L385.7,250 L386.2,250 L386.8,250 L387.4,250" fill="none" stroke="#ad2243" stroke-width="0.9"/><path d="M288.3,250 L288.9,250 L289.4,250 L290,250 L290.6,250 L291.1,250 L291.7,250 L292.3,250 L292.8,250 L293.4,250 L294,250 L294.5,250 L295.1,250 L295.7,250 L296.2,250 L296.8,250 L297.4,250 L297.9,250 L298.5,250 L299.1,250 L299.6,250 L300.2,250 L300.8,250 L301.3,250 L301.9,250 L302.4,250 L303,250 L303.6,249.9 L304.1,249.9 L304.7,249.9 L305.3,249.9 L305.8,249.9 L306.4,249.9 L307,249.8 L307.5,249.8 L308.1,249.8 L308.7,249.7 L309.2,249.7 L309.8,249.6 L310.4,249.6 L310.9,249.5 L311.5,249.4 L312.1,249.3 L312.6,249.2 L313.2,249.1 L313.8,248.9 L314.3,248.8 L314.9,248.6 L315.5,248.4 L316,248.1 L316.6,247.8 L317.2,247.5 L317.7,247.2 L318.3,246.8 L318.9,246.4 L319.4,245.9 L320,245.4 L320.6,244.9 L321.1,244.2 L321.7,243.6 L322.3,242.8 L322.8,242 L323.4,241.1 L324,240.1 L324.5,239.1 L325.1,238 L325.7,236.8 L326.2,235.5 L326.8,234.1 L327.4,232.7 L327.9,231.2 L328.5,229.6 L329.1,227.9 L329.6,226.1 L330.2,224.3 L330.8,222.4 L331.3,220.4 L331.9,218.4 L332.4,216.3 L333,214.2 L333.6,212.1 L334.1,210 L334.7,207.9 L335.3,205.8 L335.8,203.7 L336.4,201.7 L337,199.8 L337.5,197.9 L338.1,196.2 L338.7,194.6 L339.2,193.1 L339.8,191.8 L340.4,190.7 L340.9,189.8 L341.5,189.1 L342.1,188.7 L342.6,188.7 L343.2,189.1 L343.8,189.6 L344.3,190.4 L344.9,191.4 L345.5,192.6 L346,193.9 L346.6,195.3 L347.2,196.9 L347.7,198.5 L348.3,200.3 L348.9,202.1 L349.4,204 L350,205.9 L350.6,207.9 L351.1,209.8 L351.7,211.8 L352.3,213.8 L352.8,215.7 L353.4,217.6 L354,219.5 L354.5,221.4 L355.1,223.2 L355.7,224.9 L356.2,226.6 L356.8,228.2 L357.4,229.8 L357.9,231.3 L358.5,232.7 L359.1,234.1 L359.6,235.3 L360.2,236.5 L360.7,237.7 L361.3,238.7 L361.9,239.7 L362.4,240.6 L363,241.5 L363.6,242.3 L364.1,243 L364.7,243.7 L365.3,244.3 L365.8,244.9 L366.4,245.4 L367,245.9 L367.5,246.4 L368.1,246.8 L368.7,247.1 L369.2,247.4 L369.8,247.7 L370.4,248 L370.9,248.2 L371.5,248.4 L372.1,248.6 L372.6,248.8 L373.2,248.9 L373.8,249.1 L374.3,249.2 L374.9,249.3 L375.5,249.4 L376,249.5 L376.6,249.5 L377.2,249.6 L377.7,249.7 L378.3,249.7 L378.9,249.8 L379.4,249.8 L380,249.8 L380.6,249.8 L381.1,249.9 L381.7,249.9 L382.3,249.9 L382.8,249.9 L383.4,249.9 L384,249.9 L384.5,250 L385.1,250 L385.7,250 L386.2,250 L386.8,250 L387.4,250" fill="none" stroke="#4a8f4c" stroke-width="1.05"/><circle cx="373.2" cy="250" r="1.5" fill="#8c1230"/><circle cx="387.4" cy="250" r="1.5" fill="#8c1230"/><rect x="286.9" y="248.6" width="2.8" height="2.8" fill="#a8183c"/><rect x="329.4" y="176.5" width="2.8" height="2.8" fill="#4aa84e"/><rect x="329.4" y="182.3" width="2.8" height="2.8" fill="#a8183c"/><circle cx="330.8" cy="194.3" r="1.5" fill="#2c3e50"/><circle cx="330.8" cy="198.1" r="1.5" fill="#8c1230"/><circle cx="316.6" cy="230" r="1.5" fill="#8c1230"/><circle cx="330.8" cy="221.3" r="1.5" fill="#3c9a42"/><circle cx="344.9" cy="189.5" r="1.5" fill="#3c9a42"/><circle cx="344.9" cy="232.8" r="1.5" fill="#8c1230"/><rect x="343.5" y="224.8" width="2.8" height="2.8" fill="#a8183c"/><rect x="343.5" y="236.3" width="2.8" height="2.8" fill="#4aa84e"/><circle cx="359.1" cy="236.4" r="1.5" fill="#3c9a42"/><path d="M288.3,178 V250 H390.4" fill="none" stroke="#262626" stroke-width="1.35"/><path d="M285.8,250 H288.3 M285.8,229.3 H288.3 M285.8,208.6 H288.3 M285.8,188 H288.3 M288.3,250 V252.5 M302.4,250 V252.5 M316.6,250 V252.5 M330.8,250 V252.5 M344.9,250 V252.5 M359.1,250 V252.5 M373.2,250 V252.5 M387.4,250 V252.5" stroke="#262626" stroke-width="1.1"/><text x="282.7" y="252.4" text-anchor="end" class="tk">0</text><text x="282.7" y="231.7" text-anchor="end" class="tk">20</text><text x="282.7" y="211" text-anchor="end" class="tk">40</text><text x="282.7" y="190.3" text-anchor="end" class="tk">60</text><text x="288.3" y="262.8" text-anchor="middle" class="tk">1</text><text x="302.4" y="262.8" text-anchor="middle" class="tk">2</text><text x="316.6" y="262.8" text-anchor="middle" class="tk">3</text><text x="330.8" y="262.8" text-anchor="middle" class="tk">4</text><text x="344.9" y="262.8" text-anchor="middle" class="tk">5</text><text x="359.1" y="262.8" text-anchor="middle" class="tk">6</text><text x="373.2" y="262.8" text-anchor="middle" class="tk">7</text><text x="387.4" y="262.8" text-anchor="middle" class="tk">8</text><text x="273.5" y="174.6" class="pl">E</text></g><g><polygon points="83.2,305.6 83.8,304.5 84.3,303.5 84.9,302.7 85.5,302.1 86,301.7 86.6,301.6 87.1,301.5 87.7,301.7 88.3,302 88.8,302.5 89.4,303.2 90,304 90.5,304.9 91.1,306 91.7,307.2 92.2,308.5 92.8,309.9 93.4,311.4 93.9,313 94.5,314.7 95.1,316.4 95.6,318.2 96.2,320 96.8,321.9 97.3,323.7 97.9,325.6 98.5,327.4 99,329.2 99.6,331 100.2,332.8 100.7,334.5 101.3,336.1 101.9,337.7 102.4,339.3 103,340.8 103.6,342.2 104.1,343.5 104.7,344.8 105.3,346 105.8,347.1 106.4,348.1 107,349.1 107.5,350 108.1,350.8 108.7,351.6 109.2,352.3 109.8,353 110.4,353.5 110.9,354.1 111.5,354.6 112.1,355 112.6,355.4 113.2,355.7 113.8,356.1 114.3,356.3 114.9,356.6 115.4,356.8 116,357 116.6,357.2 117.1,357.3 117.7,357.4 118.3,357.6 118.8,357.6 119.4,357.7 120,357.8 120.5,357.9 121.1,357.9 121.7,358 122.2,358 122.8,358 123.4,358.1 123.9,358.1 124.5,358.1 125.1,358.1 125.6,358.1 126.2,358.1 126.8,358.2 127.3,358.2 127.9,358.2 128.5,358.2 129,358.2 129.6,358.2 130.2,358.2 130.2,358.2 129.6,358.2 129,358.2 128.5,358.2 127.9,358.2 127.3,358.2 126.8,358.2 126.2,358.2 125.6,358.2 125.1,358.2 124.5,358.2 123.9,358.2 123.4,358.2 122.8,358.2 122.2,358.2 121.7,358.2 121.1,358.2 120.5,358.2 120,358.2 119.4,358.2 118.8,358.2 118.3,358.2 117.7,358.2 117.1,358.2 116.6,358.2 116,358.2 115.4,358.2 114.9,358.2 114.3,358.2 113.8,358.1 113.2,358.1 112.6,358.1 112.1,358.1 111.5,358.1 110.9,358.1 110.4,358 109.8,358 109.2,358 108.7,357.9 108.1,357.8 107.5,357.8 107,357.7 106.4,357.6 105.8,357.5 105.3,357.4 104.7,357.2 104.1,357.1 103.6,356.9 103,356.6 102.4,356.4 101.9,356 101.3,355.5 100.7,355 100.2,354.4 99.6,353.7 99,352.9 98.5,352.1 97.9,351.1 97.3,350 96.8,348.8 96.2,347.5 95.6,346.1 95.1,344.6 94.5,343 93.9,341.3 93.4,339.5 92.8,337.6 92.2,335.6 91.7,333.6 91.1,331.5 90.5,329.4 90,327.3 89.4,325.2 88.8,323.1 88.3,321.1 87.7,319 87.1,317.1 86.6,315.2 86,313.5 85.5,311.8 84.9,310.3 84.3,308.9 83.8,307.6 83.2,306.5" fill="#acd698" stroke="none"/><path d="M43,357.8 L43.6,357.7 L44.1,357.6 L44.7,357.5 L45.3,357.4 L45.8,357.2 L46.4,357 L47,356.8 L47.5,356.5 L48.1,356.2 L48.7,355.9 L49.2,355.5 L49.8,355.1 L50.4,354.6 L50.9,354.1 L51.5,353.4 L52.1,352.7 L52.6,352 L53.2,351.1 L53.8,350.2 L54.3,349.2 L54.9,348.1 L55.5,346.9 L56,345.6 L56.6,344.2 L57.1,342.7 L57.7,341.1 L58.3,339.4 L58.8,337.7 L59.4,335.8 L60,333.9 L60.5,331.9 L61.1,329.9 L61.7,327.8 L62.2,325.7 L62.8,323.5 L63.4,321.4 L63.9,319.3 L64.5,317.2 L65.1,315.2 L65.6,313.3 L66.2,311.4 L66.8,309.6 L67.3,308 L67.9,306.5 L68.5,305.2 L69,304 L69.6,303 L70.2,302.2 L70.7,301.7 L71.3,301.3 L71.9,301.1 L72.4,301.2 L73,301.4 L73.6,301.9 L74.1,302.5 L74.7,303.4 L75.3,304.4 L75.8,305.6 L76.4,306.9 L77,308.4 L77.5,310.1 L78.1,311.8 L78.7,313.6 L79.2,315.6 L79.8,317.5 L80.4,319.6 L80.9,321.6 L81.5,323.7 L82.1,325.8 L82.6,327.8 L83.2,329.9 L83.8,331.8 L84.3,333.8 L84.9,335.7 L85.5,337.5 L86,339.2 L86.6,340.8 L87.1,342.4 L87.7,343.9 L88.3,345.3 L88.8,346.5 L89.4,347.7 L90,348.9 L90.5,349.9 L91.1,350.8 L91.7,351.7 L92.2,352.4 L92.8,353.1 L93.4,353.8 L93.9,354.3 L94.5,354.9 L95.1,355.3 L95.6,355.7 L96.2,356.1 L96.8,356.4 L97.3,356.6 L97.9,356.9 L98.5,357.1 L99,357.2 L99.6,357.4 L100.2,357.5 L100.7,357.6 L101.3,357.7 L101.9,357.8 L102.4,357.9 L103,357.9 L103.6,358 L104.1,358 L104.7,358.1 L105.3,358.1 L105.8,358.1 L106.4,358.1 L107,358.1 L107.5,358.2 L108.1,358.2 L108.7,358.2 L109.2,358.2 L109.8,358.2 L110.4,358.2 L110.9,358.2 L111.5,358.2 L112.1,358.2 L112.6,358.2 L113.2,358.2 L113.8,358.2 L114.3,358.2 L114.9,358.2 L115.4,358.2 L116,358.2 L116.6,358.2 L117.1,358.2 L117.7,358.2 L118.3,358.2 L118.8,358.2 L119.4,358.2 L120,358.2 L120.5,358.2 L121.1,358.2 L121.7,358.2 L122.2,358.2 L122.8,358.2 L123.4,358.2 L123.9,358.2 L124.5,358.2 L125.1,358.2 L125.6,358.2 L126.2,358.2 L126.8,358.2 L127.3,358.2 L127.9,358.2 L128.5,358.2 L129,358.2 L129.6,358.2 L130.2,358.2 L130.7,358.2 L131.3,358.2 L131.9,358.2 L132.4,358.2 L133,358.2 L133.6,358.2 L134.1,358.2 L134.7,358.2 L135.3,358.2 L135.8,358.2 L136.4,358.2 L137,358.2 L137.5,358.2 L138.1,358.2 L138.7,358.2 L139.2,358.2 L139.8,358.2 L140.4,358.2 L140.9,358.2 L141.5,358.2 L142.1,358.2" fill="none" stroke="#62a862" stroke-width="0.9" stroke-dasharray="2.2,1.8"/><path d="M43,357.7 L43.6,357.6 L44.1,357.5 L44.7,357.3 L45.3,357.2 L45.8,357 L46.4,356.7 L47,356.5 L47.5,356.1 L48.1,355.8 L48.7,355.4 L49.2,354.9 L49.8,354.4 L50.4,353.8 L50.9,353.1 L51.5,352.3 L52.1,351.5 L52.6,350.5 L53.2,349.5 L53.8,348.4 L54.3,347.1 L54.9,345.8 L55.5,344.3 L56,342.8 L56.6,341.1 L57.1,339.3 L57.7,337.4 L58.3,335.4 L58.8,333.3 L59.4,331.1 L60,328.9 L60.5,326.6 L61.1,324.2 L61.7,321.8 L62.2,319.4 L62.8,317 L63.4,314.6 L63.9,312.2 L64.5,309.9 L65.1,307.7 L65.6,305.6 L66.2,303.6 L66.8,301.8 L67.3,300.1 L67.9,298.6 L68.5,297.3 L69,296.2 L69.6,295.4 L70.2,294.8 L70.7,294.4 L71.3,294.3 L71.9,294.4 L72.4,294.8 L73,295.4 L73.6,296.3 L74.1,297.5 L74.7,298.9 L75.3,300.4 L75.8,302.2 L76.4,304.2 L77,306.2 L77.5,308.5 L78.1,310.8 L78.7,313.2 L79.2,315.6 L79.8,318.1 L80.4,320.6 L80.9,323.1 L81.5,325.6 L82.1,328 L82.6,330.3 L83.2,332.6 L83.8,334.8 L84.3,336.9 L84.9,338.9 L85.5,340.7 L86,342.5 L86.6,344.1 L87.1,345.6 L87.7,347 L88.3,348.3 L88.8,349.5 L89.4,350.6 L90,351.5 L90.5,352.4 L91.1,353.2 L91.7,353.9 L92.2,354.5 L92.8,355 L93.4,355.5 L93.9,355.9 L94.5,356.2 L95.1,356.6 L95.6,356.8 L96.2,357.1 L96.8,357.2 L97.3,357.4 L97.9,357.5 L98.5,357.7 L99,357.8 L99.6,357.8 L100.2,357.9 L100.7,358 L101.3,358 L101.9,358 L102.4,358.1 L103,358.1 L103.6,358.1 L104.1,358.1 L104.7,358.2 L105.3,358.2 L105.8,358.2 L106.4,358.2 L107,358.2 L107.5,358.2 L108.1,358.2 L108.7,358.2 L109.2,358.2 L109.8,358.2 L110.4,358.2 L110.9,358.2 L111.5,358.2 L112.1,358.2 L112.6,358.2 L113.2,358.2 L113.8,358.2 L114.3,358.2 L114.9,358.2 L115.4,358.2 L116,358.2 L116.6,358.2 L117.1,358.2 L117.7,358.2 L118.3,358.2 L118.8,358.2 L119.4,358.2 L120,358.2 L120.5,358.2 L121.1,358.2 L121.7,358.2 L122.2,358.2 L122.8,358.2 L123.4,358.2 L123.9,358.2 L124.5,358.2 L125.1,358.2 L125.6,358.2 L126.2,358.2 L126.8,358.2 L127.3,358.2 L127.9,358.2 L128.5,358.2 L129,358.2 L129.6,358.2 L130.2,358.2 L130.7,358.2 L131.3,358.2 L131.9,358.2 L132.4,358.2 L133,358.2 L133.6,358.2 L134.1,358.2 L134.7,358.2 L135.3,358.2 L135.8,358.2 L136.4,358.2 L137,358.2 L137.5,358.2 L138.1,358.2 L138.7,358.2 L139.2,358.2 L139.8,358.2 L140.4,358.2 L140.9,358.2 L141.5,358.2 L142.1,358.2" fill="none" stroke="#b02a48" stroke-width="0.9" stroke-dasharray="2.2,1.8"/><path d="M43,356.4 L43.6,356.2 L44.1,355.9 L44.7,355.7 L45.3,355.4 L45.8,355.1 L46.4,354.7 L47,354.3 L47.5,353.9 L48.1,353.5 L48.7,353 L49.2,352.5 L49.8,352 L50.4,351.4 L50.9,350.8 L51.5,350.2 L52.1,349.5 L52.6,348.7 L53.2,347.9 L53.8,347.1 L54.3,346.2 L54.9,345.3 L55.5,344.3 L56,343.3 L56.6,342.3 L57.1,341.2 L57.7,340.1 L58.3,338.9 L58.8,337.7 L59.4,336.4 L60,335.2 L60.5,333.9 L61.1,332.5 L61.7,331.2 L62.2,329.8 L62.8,328.5 L63.4,327.1 L63.9,325.7 L64.5,324.3 L65.1,323 L65.6,321.6 L66.2,320.3 L66.8,319 L67.3,317.7 L67.9,316.5 L68.5,315.3 L69,314.1 L69.6,313 L70.2,312 L70.7,311.1 L71.3,310.2 L71.9,309.4 L72.4,308.6 L73,308 L73.6,307.4 L74.1,307 L74.7,306.6 L75.3,306.3 L75.8,306.2 L76.4,306.1 L77,306.1 L77.5,306.3 L78.1,306.7 L78.7,307.3 L79.2,307.9 L79.8,308.8 L80.4,309.8 L80.9,310.9 L81.5,312.1 L82.1,313.5 L82.6,314.9 L83.2,316.5 L83.8,318.1 L84.3,319.7 L84.9,321.5 L85.5,323.2 L86,325 L86.6,326.8 L87.1,328.6 L87.7,330.4 L88.3,332.1 L88.8,333.8 L89.4,335.5 L90,337.1 L90.5,338.7 L91.1,340.2 L91.7,341.7 L92.2,343.1 L92.8,344.4 L93.4,345.6 L93.9,346.8 L94.5,347.9 L95.1,348.9 L95.6,349.8 L96.2,350.7 L96.8,351.5 L97.3,352.2 L97.9,352.9 L98.5,353.5 L99,354.1 L99.6,354.6 L100.2,355 L100.7,355.4 L101.3,355.8 L101.9,356.1 L102.4,356.4 L103,356.6 L103.6,356.9 L104.1,357.1 L104.7,357.2 L105.3,357.4 L105.8,357.5 L106.4,357.6 L107,357.7 L107.5,357.8 L108.1,357.8 L108.7,357.9 L109.2,358 L109.8,358 L110.4,358 L110.9,358.1 L111.5,358.1 L112.1,358.1 L112.6,358.1 L113.2,358.1 L113.8,358.1 L114.3,358.2 L114.9,358.2 L115.4,358.2 L116,358.2 L116.6,358.2 L117.1,358.2 L117.7,358.2 L118.3,358.2 L118.8,358.2 L119.4,358.2 L120,358.2 L120.5,358.2 L121.1,358.2 L121.7,358.2 L122.2,358.2 L122.8,358.2 L123.4,358.2 L123.9,358.2 L124.5,358.2 L125.1,358.2 L125.6,358.2 L126.2,358.2 L126.8,358.2 L127.3,358.2 L127.9,358.2 L128.5,358.2 L129,358.2 L129.6,358.2 L130.2,358.2 L130.7,358.2 L131.3,358.2 L131.9,358.2 L132.4,358.2 L133,358.2 L133.6,358.2 L134.1,358.2 L134.7,358.2 L135.3,358.2 L135.8,358.2 L136.4,358.2 L137,358.2 L137.5,358.2 L138.1,358.2 L138.7,358.2 L139.2,358.2 L139.8,358.2 L140.4,358.2 L140.9,358.2 L141.5,358.2 L142.1,358.2" fill="none" stroke="#384852" stroke-width="0.9"/><path d="M43,357.8 L43.6,357.7 L44.1,357.7 L44.7,357.6 L45.3,357.5 L45.8,357.3 L46.4,357.2 L47,357.1 L47.5,356.9 L48.1,356.7 L48.7,356.5 L49.2,356.2 L49.8,355.9 L50.4,355.6 L50.9,355.3 L51.5,354.9 L52.1,354.5 L52.6,354 L53.2,353.5 L53.8,352.9 L54.3,352.3 L54.9,351.6 L55.5,350.9 L56,350.1 L56.6,349.3 L57.1,348.3 L57.7,347.4 L58.3,346.3 L58.8,345.2 L59.4,344 L60,342.8 L60.5,341.5 L61.1,340.1 L61.7,338.7 L62.2,337.2 L62.8,335.7 L63.4,334.1 L63.9,332.4 L64.5,330.8 L65.1,329.1 L65.6,327.3 L66.2,325.6 L66.8,323.9 L67.3,322.1 L67.9,320.4 L68.5,318.7 L69,317 L69.6,315.3 L70.2,313.8 L70.7,312.2 L71.3,310.8 L71.9,309.4 L72.4,308.1 L73,307 L73.6,305.9 L74.1,305 L74.7,304.2 L75.3,303.5 L75.8,302.9 L76.4,302.5 L77,302.3 L77.5,302.2 L78.1,302.2 L78.7,302.2 L79.2,302.3 L79.8,302.6 L80.4,302.9 L80.9,303.3 L81.5,303.9 L82.1,304.6 L82.6,305.5 L83.2,306.5 L83.8,307.6 L84.3,308.9 L84.9,310.3 L85.5,311.8 L86,313.5 L86.6,315.2 L87.1,317.1 L87.7,319 L88.3,321.1 L88.8,323.1 L89.4,325.2 L90,327.3 L90.5,329.4 L91.1,331.5 L91.7,333.6 L92.2,335.6 L92.8,337.6 L93.4,339.5 L93.9,341.3 L94.5,343 L95.1,344.6 L95.6,346.1 L96.2,347.5 L96.8,348.8 L97.3,350 L97.9,351.1 L98.5,352.1 L99,352.9 L99.6,353.7 L100.2,354.4 L100.7,355 L101.3,355.5 L101.9,356 L102.4,356.4 L103,356.7 L103.6,357 L104.1,357.2 L104.7,357.4 L105.3,357.6 L105.8,357.7 L106.4,357.8 L107,357.9 L107.5,358 L108.1,358 L108.7,358.1 L109.2,358.1 L109.8,358.1 L110.4,358.1 L110.9,358.2 L111.5,358.2 L112.1,358.2 L112.6,358.2 L113.2,358.2 L113.8,358.2 L114.3,358.2 L114.9,358.2 L115.4,358.2 L116,358.2 L116.6,358.2 L117.1,358.2 L117.7,358.2 L118.3,358.2 L118.8,358.2 L119.4,358.2 L120,358.2 L120.5,358.2 L121.1,358.2 L121.7,358.2 L122.2,358.2 L122.8,358.2 L123.4,358.2 L123.9,358.2 L124.5,358.2 L125.1,358.2 L125.6,358.2 L126.2,358.2 L126.8,358.2 L127.3,358.2 L127.9,358.2 L128.5,358.2 L129,358.2 L129.6,358.2 L130.2,358.2 L130.7,358.2 L131.3,358.2 L131.9,358.2 L132.4,358.2 L133,358.2 L133.6,358.2 L134.1,358.2 L134.7,358.2 L135.3,358.2 L135.8,358.2 L136.4,358.2 L137,358.2 L137.5,358.2 L138.1,358.2 L138.7,358.2 L139.2,358.2 L139.8,358.2 L140.4,358.2 L140.9,358.2 L141.5,358.2 L142.1,358.2" fill="none" stroke="#ad2243" stroke-width="0.9"/><path d="M43,358.2 L43.6,358.2 L44.1,358.2 L44.7,358.2 L45.3,358.2 L45.8,358.2 L46.4,358.2 L47,358.2 L47.5,358.2 L48.1,358.2 L48.7,358.2 L49.2,358.2 L49.8,358.2 L50.4,358.2 L50.9,358.2 L51.5,358.1 L52.1,358.1 L52.6,358.1 L53.2,358.1 L53.8,358.1 L54.3,358 L54.9,358 L55.5,357.9 L56,357.9 L56.6,357.8 L57.1,357.7 L57.7,357.7 L58.3,357.6 L58.8,357.4 L59.4,357.3 L60,357.1 L60.5,356.9 L61.1,356.7 L61.7,356.4 L62.2,356.2 L62.8,355.8 L63.4,355.4 L63.9,355 L64.5,354.5 L65.1,354 L65.6,353.4 L66.2,352.7 L66.8,352 L67.3,351.2 L67.9,350.3 L68.5,349.3 L69,348.3 L69.6,347.1 L70.2,345.9 L70.7,344.6 L71.3,343.2 L71.9,341.7 L72.4,340.1 L73,338.4 L73.6,336.7 L74.1,334.9 L74.7,333 L75.3,331.1 L75.8,329.1 L76.4,327.1 L77,325.1 L77.5,323 L78.1,321 L78.7,319 L79.2,317 L79.8,315.1 L80.4,313.3 L80.9,311.5 L81.5,309.8 L82.1,308.3 L82.6,306.9 L83.2,305.6 L83.8,304.5 L84.3,303.5 L84.9,302.7 L85.5,302.1 L86,301.7 L86.6,301.6 L87.1,301.5 L87.7,301.7 L88.3,302 L88.8,302.5 L89.4,303.2 L90,304 L90.5,304.9 L91.1,306 L91.7,307.2 L92.2,308.5 L92.8,309.9 L93.4,311.4 L93.9,313 L94.5,314.7 L95.1,316.4 L95.6,318.2 L96.2,320 L96.8,321.9 L97.3,323.7 L97.9,325.6 L98.5,327.4 L99,329.2 L99.6,331 L100.2,332.8 L100.7,334.5 L101.3,336.1 L101.9,337.7 L102.4,339.3 L103,340.8 L103.6,342.2 L104.1,343.5 L104.7,344.8 L105.3,346 L105.8,347.1 L106.4,348.1 L107,349.1 L107.5,350 L108.1,350.8 L108.7,351.6 L109.2,352.3 L109.8,353 L110.4,353.5 L110.9,354.1 L111.5,354.6 L112.1,355 L112.6,355.4 L113.2,355.7 L113.8,356.1 L114.3,356.3 L114.9,356.6 L115.4,356.8 L116,357 L116.6,357.2 L117.1,357.3 L117.7,357.4 L118.3,357.6 L118.8,357.6 L119.4,357.7 L120,357.8 L120.5,357.9 L121.1,357.9 L121.7,358 L122.2,358 L122.8,358 L123.4,358.1 L123.9,358.1 L124.5,358.1 L125.1,358.1 L125.6,358.1 L126.2,358.1 L126.8,358.2 L127.3,358.2 L127.9,358.2 L128.5,358.2 L129,358.2 L129.6,358.2 L130.2,358.2 L130.7,358.2 L131.3,358.2 L131.9,358.2 L132.4,358.2 L133,358.2 L133.6,358.2 L134.1,358.2 L134.7,358.2 L135.3,358.2 L135.8,358.2 L136.4,358.2 L137,358.2 L137.5,358.2 L138.1,358.2 L138.7,358.2 L139.2,358.2 L139.8,358.2 L140.4,358.2 L140.9,358.2 L141.5,358.2 L142.1,358.2" fill="none" stroke="#4a8f4c" stroke-width="1.05"/><circle cx="127.9" cy="358.2" r="1.5" fill="#8c1230"/><circle cx="142.1" cy="358.2" r="1.5" fill="#8c1230"/><rect x="41.6" y="356.8" width="2.8" height="2.8" fill="#a8183c"/><rect x="69.9" y="293.5" width="2.8" height="2.8" fill="#a8183c"/><rect x="69.9" y="300.7" width="2.8" height="2.8" fill="#4aa84e"/><circle cx="71.3" cy="310.5" r="1.5" fill="#8c1230"/><circle cx="57.1" cy="341.6" r="1.5" fill="#2c3e50"/><circle cx="57.1" cy="345.7" r="1.5" fill="#8c1230"/><rect x="55.8" y="354.7" width="2.8" height="2.8" fill="#a8183c"/><circle cx="71.3" cy="341.6" r="1.5" fill="#3c9a42"/><circle cx="85.5" cy="318.8" r="1.5" fill="#3c9a42"/><circle cx="85.5" cy="318.8" r="1.5" fill="#8c1230"/><circle cx="85.5" cy="331.2" r="1.5" fill="#2c3e50"/><circle cx="99.6" cy="345.7" r="1.5" fill="#8c1230"/><circle cx="99.6" cy="331.2" r="1.5" fill="#3c9a42"/><circle cx="113.8" cy="356.1" r="1.5" fill="#3c9a42"/><path d="M43,286.3 V358.2 H145.1" fill="none" stroke="#262626" stroke-width="1.35"/><path d="M40.5,358.2 H43 M40.5,337.4 H43 M40.5,316.7 H43 M40.5,295.9 H43 M43,358.2 V360.7 M57.1,358.2 V360.7 M71.3,358.2 V360.7 M85.5,358.2 V360.7 M99.6,358.2 V360.7 M113.8,358.2 V360.7 M127.9,358.2 V360.7 M142.1,358.2 V360.7" stroke="#262626" stroke-width="1.1"/><text x="37.4" y="360.6" text-anchor="end" class="tk">0</text><text x="37.4" y="339.8" text-anchor="end" class="tk">20</text><text x="37.4" y="319.1" text-anchor="end" class="tk">40</text><text x="37.4" y="298.3" text-anchor="end" class="tk">60</text><text x="43" y="370.9" text-anchor="middle" class="tk">1</text><text x="57.1" y="370.9" text-anchor="middle" class="tk">2</text><text x="71.3" y="370.9" text-anchor="middle" class="tk">3</text><text x="85.5" y="370.9" text-anchor="middle" class="tk">4</text><text x="99.6" y="370.9" text-anchor="middle" class="tk">5</text><text x="113.8" y="370.9" text-anchor="middle" class="tk">6</text><text x="127.9" y="370.9" text-anchor="middle" class="tk">7</text><text x="142.1" y="370.9" text-anchor="middle" class="tk">8</text><text x="28.3" y="282.9" class="pl">F</text></g><g><polygon points="205.8,306.4 206.4,305.4 207,304.5 207.5,303.8 208.1,303.2 208.6,302.7 209.2,302.4 209.8,302.2 210.3,302.2 210.9,302.3 211.5,302.6 212,303 212.6,303.7 213.2,304.4 213.7,305.4 214.3,306.4 214.9,307.6 215.4,308.9 216,310.4 216.6,311.9 217.1,313.5 217.7,315.2 218.3,316.9 218.8,318.7 219.4,320.6 220,322.4 220.5,324.3 221.1,326.1 221.7,328 222.2,329.8 222.8,331.6 223.4,333.4 223.9,335.1 224.5,336.8 225.1,338.4 225.6,339.9 226.2,341.4 226.8,342.8 227.3,344.1 227.9,345.3 228.5,346.5 229,347.6 229.6,348.6 230.2,349.6 230.7,350.5 231.3,351.3 231.9,352 232.4,352.7 233,353.3 233.6,353.9 234.1,354.4 234.7,354.9 235.3,355.3 235.8,355.6 236.4,356 236.9,356.3 237.5,356.5 238.1,356.8 238.6,357 239.2,357.1 239.8,357.3 240.3,357.4 240.9,357.5 241.5,357.6 242,357.7 242.6,357.8 243.2,357.9 243.7,357.9 244.3,358 244.9,358 245.4,358 246,358.1 246.6,358.1 247.1,358.1 247.7,358.1 248.3,358.1 248.8,358.2 249.4,358.2 250,358.2 250.5,358.2 251.1,358.2 251.7,358.2 252.2,358.2 252.8,358.2 252.8,358.2 252.2,358.2 251.7,358.2 251.1,358.2 250.5,358.2 250,358.2 249.4,358.2 248.8,358.2 248.3,358.2 247.7,358.2 247.1,358.2 246.6,358.2 246,358.2 245.4,358.2 244.9,358.2 244.3,358.2 243.7,358.2 243.2,358.2 242.6,358.2 242,358.2 241.5,358.2 240.9,358.2 240.3,358.2 239.8,358.2 239.2,358.2 238.6,358.2 238.1,358.2 237.5,358.2 236.9,358.2 236.4,358.2 235.8,358.2 235.3,358.2 234.7,358.2 234.1,358.1 233.6,358.1 233,358.1 232.4,358.1 231.9,358 231.3,358 230.7,357.9 230.2,357.9 229.6,357.8 229,357.7 228.5,357.6 227.9,357.4 227.3,357.2 226.8,357 226.2,356.8 225.6,356.5 225.1,356.1 224.5,355.7 223.9,355.2 223.4,354.7 222.8,354.1 222.2,353.4 221.7,352.6 221.1,351.7 220.5,350.8 220,349.7 219.4,348.5 218.8,347.3 218.3,345.9 217.7,344.4 217.1,342.9 216.6,341.2 216,339.5 215.4,337.7 214.9,335.8 214.3,333.8 213.7,331.8 213.2,329.8 212.6,327.7 212,325.7 211.5,323.6 210.9,321.6 210.3,319.6 209.8,317.7 209.2,315.8 208.6,314.1 208.1,312.4 207.5,310.8 207,309.4 206.4,308.1 205.8,306.9" fill="#acd698" stroke="none"/><path d="M166.2,358.2 L166.8,358.1 L167.3,358.1 L167.9,358.1 L168.5,358.1 L169,358 L169.6,358 L170.2,357.9 L170.7,357.9 L171.3,357.8 L171.9,357.7 L172.4,357.6 L173,357.4 L173.6,357.2 L174.1,357 L174.7,356.7 L175.3,356.4 L175.8,356 L176.4,355.5 L177,355 L177.5,354.3 L178.1,353.6 L178.7,352.8 L179.2,351.8 L179.8,350.7 L180.3,349.5 L180.9,348.1 L181.5,346.6 L182,344.9 L182.6,343.1 L183.2,341.1 L183.7,338.9 L184.3,336.6 L184.9,334.1 L185.4,331.5 L186,328.8 L186.6,325.9 L187.1,323 L187.7,319.9 L188.3,316.9 L188.8,313.8 L189.4,310.8 L190,307.8 L190.5,304.9 L191.1,302.2 L191.7,299.6 L192.2,297.2 L192.8,295.1 L193.4,293.2 L193.9,291.6 L194.5,290.4 L195.1,289.5 L195.6,288.9 L196.2,288.8 L196.8,288.9 L197.3,289.5 L197.9,290.4 L198.5,291.6 L199,293.1 L199.6,295 L200.2,297.1 L200.7,299.4 L201.3,302 L201.9,304.7 L202.4,307.5 L203,310.5 L203.6,313.5 L204.1,316.5 L204.7,319.5 L205.3,322.5 L205.8,325.5 L206.4,328.3 L207,331.1 L207.5,333.7 L208.1,336.2 L208.6,338.5 L209.2,340.7 L209.8,342.7 L210.3,344.6 L210.9,346.2 L211.5,347.8 L212,349.2 L212.6,350.4 L213.2,351.5 L213.7,352.5 L214.3,353.4 L214.9,354.1 L215.4,354.8 L216,355.3 L216.6,355.8 L217.1,356.2 L217.7,356.6 L218.3,356.9 L218.8,357.1 L219.4,357.3 L220,357.5 L220.5,357.6 L221.1,357.8 L221.7,357.8 L222.2,357.9 L222.8,358 L223.4,358 L223.9,358.1 L224.5,358.1 L225.1,358.1 L225.6,358.1 L226.2,358.2 L226.8,358.2 L227.3,358.2 L227.9,358.2 L228.5,358.2 L229,358.2 L229.6,358.2 L230.2,358.2 L230.7,358.2 L231.3,358.2 L231.9,358.2 L232.4,358.2 L233,358.2 L233.6,358.2 L234.1,358.2 L234.7,358.2 L235.3,358.2 L235.8,358.2 L236.4,358.2 L236.9,358.2 L237.5,358.2 L238.1,358.2 L238.6,358.2 L239.2,358.2 L239.8,358.2 L240.3,358.2 L240.9,358.2 L241.5,358.2 L242,358.2 L242.6,358.2 L243.2,358.2 L243.7,358.2 L244.3,358.2 L244.9,358.2 L245.4,358.2 L246,358.2 L246.6,358.2 L247.1,358.2 L247.7,358.2 L248.3,358.2 L248.8,358.2 L249.4,358.2 L250,358.2 L250.5,358.2 L251.1,358.2 L251.7,358.2 L252.2,358.2 L252.8,358.2 L253.4,358.2 L253.9,358.2 L254.5,358.2 L255.1,358.2 L255.6,358.2 L256.2,358.2 L256.8,358.2 L257.3,358.2 L257.9,358.2 L258.5,358.2 L259,358.2 L259.6,358.2 L260.2,358.2 L260.7,358.2 L261.3,358.2 L261.9,358.2 L262.4,358.2 L263,358.2 L263.6,358.2 L264.1,358.2 L264.7,358.2 L265.2,358.2" fill="none" stroke="#62a862" stroke-width="0.9" stroke-dasharray="2.2,1.8"/><path d="M166.2,357.8 L166.8,357.7 L167.3,357.6 L167.9,357.5 L168.5,357.4 L169,357.2 L169.6,357.1 L170.2,356.9 L170.7,356.7 L171.3,356.4 L171.9,356.2 L172.4,355.9 L173,355.5 L173.6,355.1 L174.1,354.7 L174.7,354.3 L175.3,353.7 L175.8,353.2 L176.4,352.5 L177,351.8 L177.5,351.1 L178.1,350.2 L178.7,349.4 L179.2,348.4 L179.8,347.3 L180.3,346.2 L180.9,345 L181.5,343.8 L182,342.4 L182.6,341 L183.2,339.5 L183.7,338 L184.3,336.4 L184.9,334.7 L185.4,333 L186,331.2 L186.6,329.4 L187.1,327.5 L187.7,325.7 L188.3,323.8 L188.8,321.9 L189.4,320 L190,318.2 L190.5,316.4 L191.1,314.6 L191.7,312.9 L192.2,311.3 L192.8,309.7 L193.4,308.2 L193.9,306.9 L194.5,305.7 L195.1,304.6 L195.6,303.6 L196.2,302.8 L196.8,302.1 L197.3,301.6 L197.9,301.3 L198.5,301.1 L199,301.1 L199.6,301.4 L200.2,301.8 L200.7,302.5 L201.3,303.4 L201.9,304.5 L202.4,305.8 L203,307.3 L203.6,308.9 L204.1,310.6 L204.7,312.5 L205.3,314.5 L205.8,316.6 L206.4,318.7 L207,320.9 L207.5,323.1 L208.1,325.3 L208.6,327.5 L209.2,329.6 L209.8,331.8 L210.3,333.8 L210.9,335.8 L211.5,337.7 L212,339.5 L212.6,341.3 L213.2,342.9 L213.7,344.4 L214.3,345.9 L214.9,347.2 L215.4,348.4 L216,349.5 L216.6,350.5 L217.1,351.5 L217.7,352.3 L218.3,353.1 L218.8,353.7 L219.4,354.4 L220,354.9 L220.5,355.4 L221.1,355.8 L221.7,356.1 L222.2,356.5 L222.8,356.7 L223.4,357 L223.9,357.2 L224.5,357.3 L225.1,357.5 L225.6,357.6 L226.2,357.7 L226.8,357.8 L227.3,357.9 L227.9,357.9 L228.5,358 L229,358 L229.6,358.1 L230.2,358.1 L230.7,358.1 L231.3,358.1 L231.9,358.1 L232.4,358.2 L233,358.2 L233.6,358.2 L234.1,358.2 L234.7,358.2 L235.3,358.2 L235.8,358.2 L236.4,358.2 L236.9,358.2 L237.5,358.2 L238.1,358.2 L238.6,358.2 L239.2,358.2 L239.8,358.2 L240.3,358.2 L240.9,358.2 L241.5,358.2 L242,358.2 L242.6,358.2 L243.2,358.2 L243.7,358.2 L244.3,358.2 L244.9,358.2 L245.4,358.2 L246,358.2 L246.6,358.2 L247.1,358.2 L247.7,358.2 L248.3,358.2 L248.8,358.2 L249.4,358.2 L250,358.2 L250.5,358.2 L251.1,358.2 L251.7,358.2 L252.2,358.2 L252.8,358.2 L253.4,358.2 L253.9,358.2 L254.5,358.2 L255.1,358.2 L255.6,358.2 L256.2,358.2 L256.8,358.2 L257.3,358.2 L257.9,358.2 L258.5,358.2 L259,358.2 L259.6,358.2 L260.2,358.2 L260.7,358.2 L261.3,358.2 L261.9,358.2 L262.4,358.2 L263,358.2 L263.6,358.2 L264.1,358.2 L264.7,358.2 L265.2,358.2" fill="none" stroke="#b02a48" stroke-width="0.9" stroke-dasharray="2.2,1.8"/><path d="M166.2,357.8 L166.8,357.7 L167.3,357.6 L167.9,357.4 L168.5,357.3 L169,357.1 L169.6,356.8 L170.2,356.6 L170.7,356.3 L171.3,355.9 L171.9,355.5 L172.4,355 L173,354.5 L173.6,353.9 L174.1,353.2 L174.7,352.4 L175.3,351.5 L175.8,350.5 L176.4,349.4 L177,348.2 L177.5,346.9 L178.1,345.5 L178.7,343.9 L179.2,342.3 L179.8,340.5 L180.3,338.6 L180.9,336.6 L181.5,334.5 L182,332.3 L182.6,330 L183.2,327.7 L183.7,325.3 L184.3,322.8 L184.9,320.4 L185.4,317.9 L186,315.5 L186.6,313.1 L187.1,310.8 L187.7,308.6 L188.3,306.5 L188.8,304.6 L189.4,302.8 L190,301.3 L190.5,299.9 L191.1,298.7 L191.7,297.8 L192.2,297.2 L192.8,296.8 L193.4,296.6 L193.9,296.7 L194.5,297.1 L195.1,297.6 L195.6,298.3 L196.2,299.2 L196.8,300.2 L197.3,301.5 L197.9,302.9 L198.5,304.4 L199,306.1 L199.6,307.9 L200.2,309.8 L200.7,311.8 L201.3,313.8 L201.9,315.9 L202.4,318 L203,320.2 L203.6,322.3 L204.1,324.5 L204.7,326.6 L205.3,328.7 L205.8,330.7 L206.4,332.7 L207,334.6 L207.5,336.5 L208.1,338.2 L208.6,339.9 L209.2,341.5 L209.8,343 L210.3,344.5 L210.9,345.8 L211.5,347 L212,348.2 L212.6,349.2 L213.2,350.2 L213.7,351.1 L214.3,351.9 L214.9,352.6 L215.4,353.3 L216,353.9 L216.6,354.5 L217.1,354.9 L217.7,355.4 L218.3,355.8 L218.8,356.1 L219.4,356.4 L220,356.6 L220.5,356.9 L221.1,357.1 L221.7,357.2 L222.2,357.4 L222.8,357.5 L223.4,357.6 L223.9,357.7 L224.5,357.8 L225.1,357.9 L225.6,357.9 L226.2,358 L226.8,358 L227.3,358 L227.9,358.1 L228.5,358.1 L229,358.1 L229.6,358.1 L230.2,358.1 L230.7,358.2 L231.3,358.2 L231.9,358.2 L232.4,358.2 L233,358.2 L233.6,358.2 L234.1,358.2 L234.7,358.2 L235.3,358.2 L235.8,358.2 L236.4,358.2 L236.9,358.2 L237.5,358.2 L238.1,358.2 L238.6,358.2 L239.2,358.2 L239.8,358.2 L240.3,358.2 L240.9,358.2 L241.5,358.2 L242,358.2 L242.6,358.2 L243.2,358.2 L243.7,358.2 L244.3,358.2 L244.9,358.2 L245.4,358.2 L246,358.2 L246.6,358.2 L247.1,358.2 L247.7,358.2 L248.3,358.2 L248.8,358.2 L249.4,358.2 L250,358.2 L250.5,358.2 L251.1,358.2 L251.7,358.2 L252.2,358.2 L252.8,358.2 L253.4,358.2 L253.9,358.2 L254.5,358.2 L255.1,358.2 L255.6,358.2 L256.2,358.2 L256.8,358.2 L257.3,358.2 L257.9,358.2 L258.5,358.2 L259,358.2 L259.6,358.2 L260.2,358.2 L260.7,358.2 L261.3,358.2 L261.9,358.2 L262.4,358.2 L263,358.2 L263.6,358.2 L264.1,358.2 L264.7,358.2 L265.2,358.2" fill="none" stroke="#384852" stroke-width="0.9"/><path d="M166.2,358 L166.8,358 L167.3,358 L167.9,357.9 L168.5,357.9 L169,357.8 L169.6,357.7 L170.2,357.6 L170.7,357.5 L171.3,357.4 L171.9,357.3 L172.4,357.1 L173,356.9 L173.6,356.7 L174.1,356.4 L174.7,356.2 L175.3,355.9 L175.8,355.5 L176.4,355.1 L177,354.6 L177.5,354.2 L178.1,353.6 L178.7,353 L179.2,352.3 L179.8,351.6 L180.3,350.8 L180.9,349.9 L181.5,348.9 L182,347.9 L182.6,346.8 L183.2,345.6 L183.7,344.3 L184.3,343 L184.9,341.5 L185.4,340 L186,338.5 L186.6,336.8 L187.1,335.1 L187.7,333.4 L188.3,331.5 L188.8,329.7 L189.4,327.8 L190,325.9 L190.5,324 L191.1,322.1 L191.7,320.2 L192.2,318.3 L192.8,316.5 L193.4,314.7 L193.9,313 L194.5,311.4 L195.1,309.9 L195.6,308.5 L196.2,307.2 L196.8,306 L197.3,305 L197.9,304.1 L198.5,303.4 L199,302.9 L199.6,302.6 L200.2,302.4 L200.7,302.4 L201.3,302.4 L201.9,302.5 L202.4,302.8 L203,303.1 L203.6,303.6 L204.1,304.2 L204.7,305 L205.3,305.9 L205.8,306.9 L206.4,308.1 L207,309.4 L207.5,310.8 L208.1,312.4 L208.6,314.1 L209.2,315.8 L209.8,317.7 L210.3,319.6 L210.9,321.6 L211.5,323.6 L212,325.7 L212.6,327.7 L213.2,329.8 L213.7,331.8 L214.3,333.8 L214.9,335.8 L215.4,337.7 L216,339.5 L216.6,341.2 L217.1,342.9 L217.7,344.4 L218.3,345.9 L218.8,347.3 L219.4,348.5 L220,349.7 L220.5,350.8 L221.1,351.7 L221.7,352.6 L222.2,353.4 L222.8,354.1 L223.4,354.7 L223.9,355.2 L224.5,355.7 L225.1,356.1 L225.6,356.5 L226.2,356.8 L226.8,357 L227.3,357.2 L227.9,357.4 L228.5,357.6 L229,357.7 L229.6,357.8 L230.2,357.9 L230.7,357.9 L231.3,358 L231.9,358 L232.4,358.1 L233,358.1 L233.6,358.1 L234.1,358.1 L234.7,358.2 L235.3,358.2 L235.8,358.2 L236.4,358.2 L236.9,358.2 L237.5,358.2 L238.1,358.2 L238.6,358.2 L239.2,358.2 L239.8,358.2 L240.3,358.2 L240.9,358.2 L241.5,358.2 L242,358.2 L242.6,358.2 L243.2,358.2 L243.7,358.2 L244.3,358.2 L244.9,358.2 L245.4,358.2 L246,358.2 L246.6,358.2 L247.1,358.2 L247.7,358.2 L248.3,358.2 L248.8,358.2 L249.4,358.2 L250,358.2 L250.5,358.2 L251.1,358.2 L251.7,358.2 L252.2,358.2 L252.8,358.2 L253.4,358.2 L253.9,358.2 L254.5,358.2 L255.1,358.2 L255.6,358.2 L256.2,358.2 L256.8,358.2 L257.3,358.2 L257.9,358.2 L258.5,358.2 L259,358.2 L259.6,358.2 L260.2,358.2 L260.7,358.2 L261.3,358.2 L261.9,358.2 L262.4,358.2 L263,358.2 L263.6,358.2 L264.1,358.2 L264.7,358.2 L265.2,358.2" fill="none" stroke="#ad2243" stroke-width="0.9"/><path d="M166.2,358.2 L166.8,358.2 L167.3,358.2 L167.9,358.2 L168.5,358.2 L169,358.1 L169.6,358.1 L170.2,358.1 L170.7,358.1 L171.3,358.1 L171.9,358.1 L172.4,358 L173,358 L173.6,358 L174.1,357.9 L174.7,357.9 L175.3,357.8 L175.8,357.8 L176.4,357.7 L177,357.6 L177.5,357.5 L178.1,357.4 L178.7,357.3 L179.2,357.1 L179.8,357 L180.3,356.8 L180.9,356.6 L181.5,356.3 L182,356.1 L182.6,355.8 L183.2,355.5 L183.7,355.1 L184.3,354.7 L184.9,354.2 L185.4,353.7 L186,353.2 L186.6,352.6 L187.1,352 L187.7,351.3 L188.3,350.5 L188.8,349.7 L189.4,348.8 L190,347.9 L190.5,346.8 L191.1,345.8 L191.7,344.6 L192.2,343.4 L192.8,342.1 L193.4,340.8 L193.9,339.4 L194.5,338 L195.1,336.4 L195.6,334.9 L196.2,333.3 L196.8,331.6 L197.3,329.9 L197.9,328.2 L198.5,326.5 L199,324.7 L199.6,323 L200.2,321.2 L200.7,319.5 L201.3,317.8 L201.9,316.2 L202.4,314.5 L203,313 L203.6,311.5 L204.1,310.1 L204.7,308.8 L205.3,307.5 L205.8,306.4 L206.4,305.4 L207,304.5 L207.5,303.8 L208.1,303.2 L208.6,302.7 L209.2,302.4 L209.8,302.2 L210.3,302.2 L210.9,302.3 L211.5,302.6 L212,303 L212.6,303.7 L213.2,304.4 L213.7,305.4 L214.3,306.4 L214.9,307.6 L215.4,308.9 L216,310.4 L216.6,311.9 L217.1,313.5 L217.7,315.2 L218.3,316.9 L218.8,318.7 L219.4,320.6 L220,322.4 L220.5,324.3 L221.1,326.1 L221.7,328 L222.2,329.8 L222.8,331.6 L223.4,333.4 L223.9,335.1 L224.5,336.8 L225.1,338.4 L225.6,339.9 L226.2,341.4 L226.8,342.8 L227.3,344.1 L227.9,345.3 L228.5,346.5 L229,347.6 L229.6,348.6 L230.2,349.6 L230.7,350.5 L231.3,351.3 L231.9,352 L232.4,352.7 L233,353.3 L233.6,353.9 L234.1,354.4 L234.7,354.9 L235.3,355.3 L235.8,355.6 L236.4,356 L236.9,356.3 L237.5,356.5 L238.1,356.8 L238.6,357 L239.2,357.1 L239.8,357.3 L240.3,357.4 L240.9,357.5 L241.5,357.6 L242,357.7 L242.6,357.8 L243.2,357.9 L243.7,357.9 L244.3,358 L244.9,358 L245.4,358 L246,358.1 L246.6,358.1 L247.1,358.1 L247.7,358.1 L248.3,358.1 L248.8,358.2 L249.4,358.2 L250,358.2 L250.5,358.2 L251.1,358.2 L251.7,358.2 L252.2,358.2 L252.8,358.2 L253.4,358.2 L253.9,358.2 L254.5,358.2 L255.1,358.2 L255.6,358.2 L256.2,358.2 L256.8,358.2 L257.3,358.2 L257.9,358.2 L258.5,358.2 L259,358.2 L259.6,358.2 L260.2,358.2 L260.7,358.2 L261.3,358.2 L261.9,358.2 L262.4,358.2 L263,358.2 L263.6,358.2 L264.1,358.2 L264.7,358.2 L265.2,358.2" fill="none" stroke="#4a8f4c" stroke-width="1.05"/><circle cx="251.1" cy="358.2" r="1.5" fill="#8c1230"/><circle cx="265.2" cy="358.2" r="1.5" fill="#8c1230"/><rect x="164.8" y="356.8" width="2.8" height="2.8" fill="#a8183c"/><rect x="193.1" y="287.3" width="2.8" height="2.8" fill="#4aa84e"/><circle cx="194.5" cy="297" r="1.5" fill="#2c3e50"/><circle cx="194.5" cy="311.5" r="1.5" fill="#8c1230"/><circle cx="180.3" cy="340.6" r="1.5" fill="#2c3e50"/><circle cx="180.3" cy="347.8" r="1.5" fill="#8c1230"/><rect x="178.9" y="353.7" width="2.8" height="2.8" fill="#a8183c"/><circle cx="194.5" cy="341.6" r="1.5" fill="#3c9a42"/><circle cx="208.6" cy="316.7" r="1.5" fill="#8c1230"/><circle cx="208.6" cy="311.5" r="1.5" fill="#3c9a42"/><circle cx="222.8" cy="347.8" r="1.5" fill="#8c1230"/><circle cx="222.8" cy="331.2" r="1.5" fill="#3c9a42"/><circle cx="236.9" cy="356.1" r="1.5" fill="#3c9a42"/><path d="M166.2,286.3 V358.2 H268.2" fill="none" stroke="#262626" stroke-width="1.35"/><path d="M163.7,358.2 H166.2 M163.7,337.4 H166.2 M163.7,316.7 H166.2 M163.7,295.9 H166.2 M166.2,358.2 V360.7 M180.3,358.2 V360.7 M194.5,358.2 V360.7 M208.6,358.2 V360.7 M222.8,358.2 V360.7 M236.9,358.2 V360.7 M251.1,358.2 V360.7 M265.2,358.2 V360.7" stroke="#262626" stroke-width="1.1"/><text x="160.6" y="360.6" text-anchor="end" class="tk">0</text><text x="160.6" y="339.8" text-anchor="end" class="tk">20</text><text x="160.6" y="319.1" text-anchor="end" class="tk">40</text><text x="160.6" y="298.3" text-anchor="end" class="tk">60</text><text x="166.2" y="370.9" text-anchor="middle" class="tk">1</text><text x="180.3" y="370.9" text-anchor="middle" class="tk">2</text><text x="194.5" y="370.9" text-anchor="middle" class="tk">3</text><text x="208.6" y="370.9" text-anchor="middle" class="tk">4</text><text x="222.8" y="370.9" text-anchor="middle" class="tk">5</text><text x="236.9" y="370.9" text-anchor="middle" class="tk">6</text><text x="251.1" y="370.9" text-anchor="middle" class="tk">7</text><text x="265.2" y="370.9" text-anchor="middle" class="tk">8</text><text x="133.8" y="282.9" class="pl">G</text></g><g><polygon points="330.4,302.8 330.9,302.3 331.5,302 332.1,301.9 332.6,301.9 333.2,302 333.8,302.4 334.3,302.9 334.9,303.6 335.5,304.4 336,305.5 336.6,306.6 337.2,307.9 337.7,309.3 338.3,310.8 338.9,312.4 339.4,314.1 340,315.9 340.6,317.7 341.1,319.5 341.7,321.4 342.3,323.3 342.8,325.2 343.4,327.2 344,329 344.5,330.9 345.1,332.7 345.7,334.5 346.2,336.2 346.8,337.9 347.4,339.5 347.9,341 348.5,342.4 349.1,343.8 349.6,345.1 350.2,346.3 350.8,347.4 351.3,348.5 351.9,349.5 352.5,350.4 353,351.2 353.6,352 354.2,352.7 354.7,353.3 355.3,353.9 355.9,354.4 356.4,354.9 357,355.3 357.6,355.7 358.1,356 358.7,356.3 359.2,356.6 359.8,356.8 360.4,357 360.9,357.2 361.5,357.3 362.1,357.5 362.6,357.6 363.2,357.7 363.8,357.8 364.3,357.8 364.9,357.9 365.5,357.9 366,358 366.6,358 367.2,358.1 367.7,358.1 368.3,358.1 368.9,358.1 369.4,358.1 370,358.1 370.6,358.2 371.1,358.2 371.7,358.2 372.3,358.2 372.8,358.2 373.4,358.2 374,358.2 374,358.2 373.4,358.2 372.8,358.2 372.3,358.2 371.7,358.2 371.1,358.2 370.6,358.2 370,358.2 369.4,358.2 368.9,358.2 368.3,358.2 367.7,358.2 367.2,358.2 366.6,358.2 366,358.2 365.5,358.2 364.9,358.2 364.3,358.2 363.8,358.2 363.2,358.2 362.6,358.1 362.1,358.1 361.5,358.1 360.9,358.1 360.4,358.1 359.8,358.1 359.2,358 358.7,358 358.1,357.9 357.6,357.9 357,357.8 356.4,357.7 355.9,357.7 355.3,357.6 354.7,357.4 354.2,357.3 353.6,357.1 353,356.9 352.5,356.7 351.9,356.5 351.3,356.2 350.8,355.9 350.2,355.5 349.6,355.1 349.1,354.7 348.5,354.2 347.9,353.6 347.4,353 346.8,352.3 346.2,351.5 345.7,350.7 345.1,349.8 344.5,348.8 344,347.7 343.4,346.5 342.8,345.3 342.3,343.9 341.7,342.5 341.1,341 340.6,339.4 340,337.7 339.4,335.9 338.9,334.1 338.3,332.2 337.7,330.2 337.2,328.2 336.6,326.2 336,324.1 335.5,322 334.9,319.9 334.3,317.8 333.8,315.8 333.2,313.8 332.6,311.8 332.1,309.9 331.5,308.1 330.9,306.4 330.4,304.8" fill="#acd698" stroke="none"/><path d="M288.5,358.2 L289.1,358.2 L289.6,358.2 L290.2,358.2 L290.8,358.2 L291.3,358.2 L291.9,358.1 L292.5,358.1 L293,358.1 L293.6,358.1 L294.2,358.1 L294.7,358 L295.3,358 L295.9,357.9 L296.4,357.9 L297,357.8 L297.6,357.7 L298.1,357.6 L298.7,357.5 L299.3,357.3 L299.8,357.1 L300.4,356.9 L301,356.7 L301.5,356.4 L302.1,356.1 L302.6,355.7 L303.2,355.3 L303.8,354.8 L304.3,354.3 L304.9,353.7 L305.5,353 L306,352.2 L306.6,351.4 L307.2,350.4 L307.7,349.4 L308.3,348.3 L308.9,347 L309.4,345.7 L310,344.2 L310.6,342.7 L311.1,341 L311.7,339.3 L312.3,337.4 L312.8,335.4 L313.4,333.4 L314,331.3 L314.5,329.1 L315.1,326.9 L315.7,324.6 L316.2,322.3 L316.8,320 L317.4,317.7 L317.9,315.4 L318.5,313.2 L319.1,311.1 L319.6,309 L320.2,307.1 L320.8,305.3 L321.3,303.7 L321.9,302.2 L322.5,300.9 L323,299.8 L323.6,298.9 L324.2,298.3 L324.7,297.9 L325.3,297.7 L325.9,297.7 L326.4,298 L327,298.4 L327.6,299.1 L328.1,299.9 L328.7,300.9 L329.3,302 L329.8,303.3 L330.4,304.8 L330.9,306.4 L331.5,308.1 L332.1,309.9 L332.6,311.8 L333.2,313.8 L333.8,315.8 L334.3,317.8 L334.9,319.9 L335.5,322 L336,324.1 L336.6,326.2 L337.2,328.2 L337.7,330.2 L338.3,332.2 L338.9,334.1 L339.4,335.9 L340,337.7 L340.6,339.4 L341.1,341 L341.7,342.5 L342.3,343.9 L342.8,345.3 L343.4,346.5 L344,347.7 L344.5,348.8 L345.1,349.8 L345.7,350.7 L346.2,351.5 L346.8,352.3 L347.4,353 L347.9,353.6 L348.5,354.2 L349.1,354.7 L349.6,355.1 L350.2,355.5 L350.8,355.9 L351.3,356.2 L351.9,356.5 L352.5,356.7 L353,356.9 L353.6,357.1 L354.2,357.3 L354.7,357.4 L355.3,357.6 L355.9,357.7 L356.4,357.7 L357,357.8 L357.6,357.9 L358.1,357.9 L358.7,358 L359.2,358 L359.8,358.1 L360.4,358.1 L360.9,358.1 L361.5,358.1 L362.1,358.1 L362.6,358.1 L363.2,358.2 L363.8,358.2 L364.3,358.2 L364.9,358.2 L365.5,358.2 L366,358.2 L366.6,358.2 L367.2,358.2 L367.7,358.2 L368.3,358.2 L368.9,358.2 L369.4,358.2 L370,358.2 L370.6,358.2 L371.1,358.2 L371.7,358.2 L372.3,358.2 L372.8,358.2 L373.4,358.2 L374,358.2 L374.5,358.2 L375.1,358.2 L375.7,358.2 L376.2,358.2 L376.8,358.2 L377.4,358.2 L377.9,358.2 L378.5,358.2 L379.1,358.2 L379.6,358.2 L380.2,358.2 L380.8,358.2 L381.3,358.2 L381.9,358.2 L382.5,358.2 L383,358.2 L383.6,358.2 L384.2,358.2 L384.7,358.2 L385.3,358.2 L385.9,358.2 L386.4,358.2 L387,358.2 L387.6,358.2" fill="none" stroke="#62a862" stroke-width="0.9" stroke-dasharray="2.2,1.8"/><path d="M288.5,358.2 L289.1,358.2 L289.6,358.2 L290.2,358.2 L290.8,358.2 L291.3,358.1 L291.9,358.1 L292.5,358.1 L293,358.1 L293.6,358.1 L294.2,358 L294.7,358 L295.3,357.9 L295.9,357.9 L296.4,357.8 L297,357.7 L297.6,357.6 L298.1,357.5 L298.7,357.4 L299.3,357.2 L299.8,357 L300.4,356.8 L301,356.5 L301.5,356.2 L302.1,355.9 L302.6,355.4 L303.2,355 L303.8,354.5 L304.3,353.9 L304.9,353.2 L305.5,352.5 L306,351.7 L306.6,350.8 L307.2,349.7 L307.7,348.6 L308.3,347.4 L308.9,346.1 L309.4,344.7 L310,343.2 L310.6,341.6 L311.1,339.9 L311.7,338 L312.3,336.1 L312.8,334.1 L313.4,332 L314,329.9 L314.5,327.7 L315.1,325.4 L315.7,323.2 L316.2,320.9 L316.8,318.6 L317.4,316.3 L317.9,314.1 L318.5,312 L319.1,309.9 L319.6,308 L320.2,306.2 L320.8,304.5 L321.3,303 L321.9,301.7 L322.5,300.6 L323,299.6 L323.6,298.9 L324.2,298.5 L324.7,298.2 L325.3,298.2 L325.9,298.4 L326.4,298.8 L327,299.4 L327.6,300.2 L328.1,301.1 L328.7,302.2 L329.3,303.5 L329.8,304.9 L330.4,306.4 L330.9,308.1 L331.5,309.9 L332.1,311.7 L332.6,313.6 L333.2,315.6 L333.8,317.7 L334.3,319.7 L334.9,321.8 L335.5,323.9 L336,325.9 L336.6,328 L337.2,330 L337.7,331.9 L338.3,333.8 L338.9,335.7 L339.4,337.4 L340,339.1 L340.6,340.7 L341.1,342.3 L341.7,343.7 L342.3,345.1 L342.8,346.3 L343.4,347.5 L344,348.6 L344.5,349.6 L345.1,350.5 L345.7,351.4 L346.2,352.2 L346.8,352.9 L347.4,353.5 L347.9,354.1 L348.5,354.6 L349.1,355.1 L349.6,355.5 L350.2,355.8 L350.8,356.2 L351.3,356.4 L351.9,356.7 L352.5,356.9 L353,357.1 L353.6,357.3 L354.2,357.4 L354.7,357.5 L355.3,357.6 L355.9,357.7 L356.4,357.8 L357,357.9 L357.6,357.9 L358.1,358 L358.7,358 L359.2,358 L359.8,358.1 L360.4,358.1 L360.9,358.1 L361.5,358.1 L362.1,358.1 L362.6,358.2 L363.2,358.2 L363.8,358.2 L364.3,358.2 L364.9,358.2 L365.5,358.2 L366,358.2 L366.6,358.2 L367.2,358.2 L367.7,358.2 L368.3,358.2 L368.9,358.2 L369.4,358.2 L370,358.2 L370.6,358.2 L371.1,358.2 L371.7,358.2 L372.3,358.2 L372.8,358.2 L373.4,358.2 L374,358.2 L374.5,358.2 L375.1,358.2 L375.7,358.2 L376.2,358.2 L376.8,358.2 L377.4,358.2 L377.9,358.2 L378.5,358.2 L379.1,358.2 L379.6,358.2 L380.2,358.2 L380.8,358.2 L381.3,358.2 L381.9,358.2 L382.5,358.2 L383,358.2 L383.6,358.2 L384.2,358.2 L384.7,358.2 L385.3,358.2 L385.9,358.2 L386.4,358.2 L387,358.2 L387.6,358.2" fill="none" stroke="#b02a48" stroke-width="0.9" stroke-dasharray="2.2,1.8"/><path d="M288.5,358.2 L289.1,358.2 L289.6,358.2 L290.2,358.2 L290.8,358.2 L291.3,358.1 L291.9,358.1 L292.5,358.1 L293,358.1 L293.6,358.1 L294.2,358 L294.7,358 L295.3,358 L295.9,357.9 L296.4,357.8 L297,357.7 L297.6,357.6 L298.1,357.5 L298.7,357.4 L299.3,357.2 L299.8,357 L300.4,356.8 L301,356.6 L301.5,356.3 L302.1,355.9 L302.6,355.5 L303.2,355.1 L303.8,354.6 L304.3,354 L304.9,353.3 L305.5,352.6 L306,351.8 L306.6,350.9 L307.2,349.9 L307.7,348.8 L308.3,347.6 L308.9,346.3 L309.4,344.9 L310,343.4 L310.6,341.8 L311.1,340.1 L311.7,338.2 L312.3,336.3 L312.8,334.3 L313.4,332.2 L314,330.1 L314.5,327.8 L315.1,325.6 L315.7,323.3 L316.2,320.9 L316.8,318.6 L317.4,316.3 L317.9,314.1 L318.5,311.9 L319.1,309.8 L319.6,307.8 L320.2,305.9 L320.8,304.2 L321.3,302.6 L321.9,301.2 L322.5,300 L323,299 L323.6,298.3 L324.2,297.7 L324.7,297.4 L325.3,297.4 L325.9,297.5 L326.4,297.9 L327,298.4 L327.6,299.1 L328.1,300 L328.7,301.1 L329.3,302.4 L329.8,303.8 L330.4,305.3 L330.9,307 L331.5,308.7 L332.1,310.6 L332.6,312.5 L333.2,314.5 L333.8,316.6 L334.3,318.7 L334.9,320.8 L335.5,322.9 L336,325 L336.6,327.1 L337.2,329.1 L337.7,331.1 L338.3,333 L338.9,334.9 L339.4,336.7 L340,338.5 L340.6,340.1 L341.1,341.7 L341.7,343.2 L342.3,344.5 L342.8,345.8 L343.4,347.1 L344,348.2 L344.5,349.2 L345.1,350.2 L345.7,351.1 L346.2,351.9 L346.8,352.6 L347.4,353.3 L347.9,353.9 L348.5,354.4 L349.1,354.9 L349.6,355.3 L350.2,355.7 L350.8,356.1 L351.3,356.3 L351.9,356.6 L352.5,356.8 L353,357 L353.6,357.2 L354.2,357.4 L354.7,357.5 L355.3,357.6 L355.9,357.7 L356.4,357.8 L357,357.9 L357.6,357.9 L358.1,358 L358.7,358 L359.2,358 L359.8,358.1 L360.4,358.1 L360.9,358.1 L361.5,358.1 L362.1,358.1 L362.6,358.2 L363.2,358.2 L363.8,358.2 L364.3,358.2 L364.9,358.2 L365.5,358.2 L366,358.2 L366.6,358.2 L367.2,358.2 L367.7,358.2 L368.3,358.2 L368.9,358.2 L369.4,358.2 L370,358.2 L370.6,358.2 L371.1,358.2 L371.7,358.2 L372.3,358.2 L372.8,358.2 L373.4,358.2 L374,358.2 L374.5,358.2 L375.1,358.2 L375.7,358.2 L376.2,358.2 L376.8,358.2 L377.4,358.2 L377.9,358.2 L378.5,358.2 L379.1,358.2 L379.6,358.2 L380.2,358.2 L380.8,358.2 L381.3,358.2 L381.9,358.2 L382.5,358.2 L383,358.2 L383.6,358.2 L384.2,358.2 L384.7,358.2 L385.3,358.2 L385.9,358.2 L386.4,358.2 L387,358.2 L387.6,358.2" fill="none" stroke="#384852" stroke-width="0.9"/><path d="M288.5,358.1 L289.1,358.1 L289.6,358.1 L290.2,358 L290.8,358 L291.3,358 L291.9,357.9 L292.5,357.9 L293,357.8 L293.6,357.7 L294.2,357.6 L294.7,357.5 L295.3,357.4 L295.9,357.2 L296.4,357 L297,356.8 L297.6,356.5 L298.1,356.2 L298.7,355.9 L299.3,355.5 L299.8,355.1 L300.4,354.6 L301,354.1 L301.5,353.5 L302.1,352.8 L302.6,352.1 L303.2,351.3 L303.8,350.3 L304.3,349.4 L304.9,348.3 L305.5,347.1 L306,345.8 L306.6,344.5 L307.2,343 L307.7,341.5 L308.3,339.8 L308.9,338.1 L309.4,336.3 L310,334.4 L310.6,332.5 L311.1,330.5 L311.7,328.4 L312.3,326.4 L312.8,324.3 L313.4,322.1 L314,320 L314.5,318 L315.1,315.9 L315.7,313.9 L316.2,312 L316.8,310.2 L317.4,308.5 L317.9,307 L318.5,305.5 L319.1,304.3 L319.6,303.2 L320.2,302.3 L320.8,301.5 L321.3,301 L321.9,300.7 L322.5,300.6 L323,300.7 L323.6,300.9 L324.2,301.4 L324.7,301.9 L325.3,302.7 L325.9,303.6 L326.4,304.6 L327,305.8 L327.6,307.1 L328.1,308.5 L328.7,310 L329.3,311.6 L329.8,313.3 L330.4,315.1 L330.9,316.9 L331.5,318.8 L332.1,320.6 L332.6,322.5 L333.2,324.4 L333.8,326.3 L334.3,328.2 L334.9,330 L335.5,331.9 L336,333.6 L336.6,335.3 L337.2,337 L337.7,338.6 L338.3,340.1 L338.9,341.6 L339.4,343 L340,344.3 L340.6,345.5 L341.1,346.7 L341.7,347.8 L342.3,348.8 L342.8,349.7 L343.4,350.6 L344,351.4 L344.5,352.1 L345.1,352.8 L345.7,353.4 L346.2,354 L346.8,354.5 L347.4,354.9 L347.9,355.3 L348.5,355.7 L349.1,356 L349.6,356.3 L350.2,356.5 L350.8,356.8 L351.3,357 L351.9,357.1 L352.5,357.3 L353,357.4 L353.6,357.5 L354.2,357.6 L354.7,357.7 L355.3,357.8 L355.9,357.9 L356.4,357.9 L357,358 L357.6,358 L358.1,358 L358.7,358.1 L359.2,358.1 L359.8,358.1 L360.4,358.1 L360.9,358.1 L361.5,358.1 L362.1,358.2 L362.6,358.2 L363.2,358.2 L363.8,358.2 L364.3,358.2 L364.9,358.2 L365.5,358.2 L366,358.2 L366.6,358.2 L367.2,358.2 L367.7,358.2 L368.3,358.2 L368.9,358.2 L369.4,358.2 L370,358.2 L370.6,358.2 L371.1,358.2 L371.7,358.2 L372.3,358.2 L372.8,358.2 L373.4,358.2 L374,358.2 L374.5,358.2 L375.1,358.2 L375.7,358.2 L376.2,358.2 L376.8,358.2 L377.4,358.2 L377.9,358.2 L378.5,358.2 L379.1,358.2 L379.6,358.2 L380.2,358.2 L380.8,358.2 L381.3,358.2 L381.9,358.2 L382.5,358.2 L383,358.2 L383.6,358.2 L384.2,358.2 L384.7,358.2 L385.3,358.2 L385.9,358.2 L386.4,358.2 L387,358.2 L387.6,358.2" fill="none" stroke="#ad2243" stroke-width="0.9"/><path d="M288.5,358.2 L289.1,358.2 L289.6,358.2 L290.2,358.2 L290.8,358.2 L291.3,358.2 L291.9,358.2 L292.5,358.2 L293,358.1 L293.6,358.1 L294.2,358.1 L294.7,358.1 L295.3,358.1 L295.9,358.1 L296.4,358 L297,358 L297.6,358 L298.1,357.9 L298.7,357.9 L299.3,357.8 L299.8,357.7 L300.4,357.7 L301,357.6 L301.5,357.4 L302.1,357.3 L302.6,357.2 L303.2,357 L303.8,356.8 L304.3,356.6 L304.9,356.3 L305.5,356.1 L306,355.8 L306.6,355.4 L307.2,355 L307.7,354.6 L308.3,354.1 L308.9,353.6 L309.4,353 L310,352.3 L310.6,351.6 L311.1,350.9 L311.7,350 L312.3,349.1 L312.8,348.2 L313.4,347.1 L314,346 L314.5,344.8 L315.1,343.6 L315.7,342.3 L316.2,340.9 L316.8,339.4 L317.4,337.9 L317.9,336.3 L318.5,334.6 L319.1,332.9 L319.6,331.2 L320.2,329.4 L320.8,327.6 L321.3,325.7 L321.9,323.9 L322.5,322.1 L323,320.2 L323.6,318.4 L324.2,316.7 L324.7,314.9 L325.3,313.3 L325.9,311.7 L326.4,310.2 L327,308.8 L327.6,307.4 L328.1,306.3 L328.7,305.2 L329.3,304.3 L329.8,303.5 L330.4,302.8 L330.9,302.3 L331.5,302 L332.1,301.9 L332.6,301.9 L333.2,302 L333.8,302.4 L334.3,302.9 L334.9,303.6 L335.5,304.4 L336,305.5 L336.6,306.6 L337.2,307.9 L337.7,309.3 L338.3,310.8 L338.9,312.4 L339.4,314.1 L340,315.9 L340.6,317.7 L341.1,319.5 L341.7,321.4 L342.3,323.3 L342.8,325.2 L343.4,327.2 L344,329 L344.5,330.9 L345.1,332.7 L345.7,334.5 L346.2,336.2 L346.8,337.9 L347.4,339.5 L347.9,341 L348.5,342.4 L349.1,343.8 L349.6,345.1 L350.2,346.3 L350.8,347.4 L351.3,348.5 L351.9,349.5 L352.5,350.4 L353,351.2 L353.6,352 L354.2,352.7 L354.7,353.3 L355.3,353.9 L355.9,354.4 L356.4,354.9 L357,355.3 L357.6,355.7 L358.1,356 L358.7,356.3 L359.2,356.6 L359.8,356.8 L360.4,357 L360.9,357.2 L361.5,357.3 L362.1,357.5 L362.6,357.6 L363.2,357.7 L363.8,357.8 L364.3,357.8 L364.9,357.9 L365.5,357.9 L366,358 L366.6,358 L367.2,358.1 L367.7,358.1 L368.3,358.1 L368.9,358.1 L369.4,358.1 L370,358.1 L370.6,358.2 L371.1,358.2 L371.7,358.2 L372.3,358.2 L372.8,358.2 L373.4,358.2 L374,358.2 L374.5,358.2 L375.1,358.2 L375.7,358.2 L376.2,358.2 L376.8,358.2 L377.4,358.2 L377.9,358.2 L378.5,358.2 L379.1,358.2 L379.6,358.2 L380.2,358.2 L380.8,358.2 L381.3,358.2 L381.9,358.2 L382.5,358.2 L383,358.2 L383.6,358.2 L384.2,358.2 L384.7,358.2 L385.3,358.2 L385.9,358.2 L386.4,358.2 L387,358.2 L387.6,358.2" fill="none" stroke="#4a8f4c" stroke-width="1.05"/><circle cx="373.4" cy="358.2" r="1.5" fill="#8c1230"/><circle cx="387.6" cy="358.2" r="1.5" fill="#8c1230"/><rect x="287.1" y="356.8" width="2.8" height="2.8" fill="#a8183c"/><circle cx="325.3" cy="296.4" r="1.5" fill="#2c3e50"/><circle cx="316.8" cy="311.5" r="1.5" fill="#8c1230"/><rect x="315.4" y="313.2" width="2.8" height="2.8" fill="#a8183c"/><circle cx="302.6" cy="355.1" r="1.5" fill="#8c1230"/><circle cx="316.8" cy="341.6" r="1.5" fill="#3c9a42"/><circle cx="330.9" cy="316.7" r="1.5" fill="#8c1230"/><circle cx="330.9" cy="302.1" r="1.5" fill="#3c9a42"/><circle cx="345.1" cy="347.8" r="1.5" fill="#8c1230"/><circle cx="345.1" cy="331.2" r="1.5" fill="#3c9a42"/><circle cx="359.2" cy="356.1" r="1.5" fill="#3c9a42"/><path d="M288.5,286.3 V358.2 H390.6" fill="none" stroke="#262626" stroke-width="1.35"/><path d="M286,358.2 H288.5 M286,337.4 H288.5 M286,316.7 H288.5 M286,295.9 H288.5 M288.5,358.2 V360.7 M302.6,358.2 V360.7 M316.8,358.2 V360.7 M330.9,358.2 V360.7 M345.1,358.2 V360.7 M359.2,358.2 V360.7 M373.4,358.2 V360.7 M387.6,358.2 V360.7" stroke="#262626" stroke-width="1.1"/><text x="282.9" y="360.6" text-anchor="end" class="tk">0</text><text x="282.9" y="339.8" text-anchor="end" class="tk">20</text><text x="282.9" y="319.1" text-anchor="end" class="tk">40</text><text x="282.9" y="298.3" text-anchor="end" class="tk">60</text><text x="288.5" y="370.9" text-anchor="middle" class="tk">1</text><text x="302.6" y="370.9" text-anchor="middle" class="tk">2</text><text x="316.8" y="370.9" text-anchor="middle" class="tk">3</text><text x="330.9" y="370.9" text-anchor="middle" class="tk">4</text><text x="345.1" y="370.9" text-anchor="middle" class="tk">5</text><text x="359.2" y="370.9" text-anchor="middle" class="tk">6</text><text x="373.4" y="370.9" text-anchor="middle" class="tk">7</text><text x="387.6" y="370.9" text-anchor="middle" class="tk">8</text><text x="273.7" y="282.9" class="pl">H</text></g><g><polygon points="451.8,303.1 452.4,302.6 452.9,302.3 453.5,302.2 454.1,302.2 454.6,302.2 455.2,302.4 455.8,302.6 456.3,303 456.9,303.5 457.5,304.1 458,304.8 458.6,305.7 459.2,306.7 459.7,307.8 460.3,309.1 460.9,310.5 461.4,312 462,313.6 462.6,315.3 463.1,317.1 463.7,319 464.3,320.9 464.8,322.9 465.4,324.9 466,326.9 466.5,328.9 467.1,330.9 467.7,332.9 468.2,334.8 468.8,336.7 469.4,338.5 469.9,340.2 470.5,341.9 471.1,343.5 471.6,345 472.2,346.4 472.8,347.7 473.3,348.9 473.9,350 474.5,351 475,351.9 475.6,352.7 476.2,353.5 476.7,354.1 477.3,354.7 477.9,355.3 478.4,355.7 479,356.1 479.6,356.5 480.1,356.7 480.7,357 481.2,357.2 481.8,357.4 482.4,357.5 482.9,357.7 483.5,357.8 484.1,357.9 484.6,357.9 485.2,358 485.8,358 486.3,358.1 486.9,358.1 487.5,358.1 488,358.1 488.6,358.2 489.2,358.2 489.7,358.2 490.3,358.2 490.9,358.2 490.9,358.2 490.3,358.2 489.7,358.2 489.2,358.2 488.6,358.2 488,358.2 487.5,358.2 486.9,358.2 486.3,358.2 485.8,358.2 485.2,358.2 484.6,358.2 484.1,358.2 483.5,358.1 482.9,358.1 482.4,358.1 481.8,358.1 481.2,358.1 480.7,358.1 480.1,358 479.6,358 479,358 478.4,357.9 477.9,357.9 477.3,357.8 476.7,357.7 476.2,357.6 475.6,357.6 475,357.4 474.5,357.3 473.9,357.2 473.3,357 472.8,356.9 472.2,356.7 471.6,356.4 471.1,356.2 470.5,355.9 469.9,355.5 469.4,355 468.8,354.4 468.2,353.7 467.7,352.9 467.1,352 466.5,351 466,349.9 465.4,348.6 464.8,347.3 464.3,345.8 463.7,344.2 463.1,342.5 462.6,340.6 462,338.7 461.4,336.7 460.9,334.6 460.3,332.4 459.7,330.2 459.2,327.9 458.6,325.7 458,323.4 457.5,321.1 456.9,318.9 456.3,316.7 455.8,314.6 455.2,312.6 454.6,310.7 454.1,309 453.5,307.4 452.9,305.9 452.4,304.6 451.8,303.4" fill="#acd698" stroke="none"/><path d="M410.5,358.1 L411.1,358 L411.6,358 L412.2,358 L412.8,357.9 L413.3,357.8 L413.9,357.8 L414.5,357.7 L415,357.6 L415.6,357.4 L416.2,357.3 L416.7,357.1 L417.3,356.9 L417.9,356.7 L418.4,356.4 L419,356.1 L419.6,355.7 L420.1,355.3 L420.7,354.8 L421.3,354.3 L421.8,353.7 L422.4,353 L423,352.3 L423.5,351.5 L424.1,350.5 L424.6,349.5 L425.2,348.5 L425.8,347.3 L426.3,346 L426.9,344.6 L427.5,343.1 L428,341.5 L428.6,339.9 L429.2,338.1 L429.7,336.3 L430.3,334.3 L430.9,332.3 L431.4,330.3 L432,328.2 L432.6,326.1 L433.1,323.9 L433.7,321.8 L434.3,319.6 L434.8,317.5 L435.4,315.5 L436,313.5 L436.5,311.6 L437.1,309.8 L437.7,308.1 L438.2,306.6 L438.8,305.3 L439.4,304.1 L439.9,303.1 L440.5,302.3 L441.1,301.7 L441.6,301.3 L442.2,301.1 L442.8,301.2 L443.3,301.3 L443.9,301.7 L444.5,302.1 L445,302.8 L445.6,303.5 L446.2,304.4 L446.7,305.4 L447.3,306.5 L447.9,307.7 L448.4,309.1 L449,310.5 L449.6,312 L450.1,313.5 L450.7,315.2 L451.3,316.8 L451.8,318.5 L452.4,320.3 L452.9,322 L453.5,323.8 L454.1,325.6 L454.6,327.3 L455.2,329 L455.8,330.8 L456.3,332.4 L456.9,334.1 L457.5,335.7 L458,337.2 L458.6,338.7 L459.2,340.1 L459.7,341.5 L460.3,342.8 L460.9,344 L461.4,345.2 L462,346.3 L462.6,347.3 L463.1,348.3 L463.7,349.2 L464.3,350.1 L464.8,350.9 L465.4,351.6 L466,352.3 L466.5,352.9 L467.1,353.4 L467.7,354 L468.2,354.4 L468.8,354.9 L469.4,355.2 L469.9,355.6 L470.5,355.9 L471.1,356.2 L471.6,356.4 L472.2,356.7 L472.8,356.9 L473.3,357 L473.9,357.2 L474.5,357.3 L475,357.4 L475.6,357.6 L476.2,357.6 L476.7,357.7 L477.3,357.8 L477.9,357.9 L478.4,357.9 L479,358 L479.6,358 L480.1,358 L480.7,358.1 L481.2,358.1 L481.8,358.1 L482.4,358.1 L482.9,358.1 L483.5,358.1 L484.1,358.2 L484.6,358.2 L485.2,358.2 L485.8,358.2 L486.3,358.2 L486.9,358.2 L487.5,358.2 L488,358.2 L488.6,358.2 L489.2,358.2 L489.7,358.2 L490.3,358.2 L490.9,358.2 L491.4,358.2 L492,358.2 L492.6,358.2 L493.1,358.2 L493.7,358.2 L494.3,358.2 L494.8,358.2 L495.4,358.2 L496,358.2 L496.5,358.2 L497.1,358.2 L497.7,358.2 L498.2,358.2 L498.8,358.2 L499.4,358.2 L499.9,358.2 L500.5,358.2 L501.1,358.2 L501.6,358.2 L502.2,358.2 L502.8,358.2 L503.3,358.2 L503.9,358.2 L504.5,358.2 L505,358.2 L505.6,358.2 L506.2,358.2 L506.7,358.2 L507.3,358.2 L507.9,358.2 L508.4,358.2 L509,358.2 L509.6,358.2" fill="none" stroke="#62a862" stroke-width="0.9" stroke-dasharray="2.2,1.8"/><path d="M410.5,358 L411.1,358 L411.6,357.9 L412.2,357.9 L412.8,357.8 L413.3,357.7 L413.9,357.6 L414.5,357.5 L415,357.4 L415.6,357.2 L416.2,357.1 L416.7,356.8 L417.3,356.6 L417.9,356.3 L418.4,356 L419,355.6 L419.6,355.2 L420.1,354.7 L420.7,354.1 L421.3,353.5 L421.8,352.8 L422.4,352.1 L423,351.2 L423.5,350.3 L424.1,349.3 L424.6,348.2 L425.2,347 L425.8,345.6 L426.3,344.2 L426.9,342.7 L427.5,341.1 L428,339.4 L428.6,337.7 L429.2,335.8 L429.7,333.8 L430.3,331.8 L430.9,329.8 L431.4,327.7 L432,325.5 L432.6,323.4 L433.1,321.2 L433.7,319.1 L434.3,317 L434.8,315 L435.4,313 L436,311.1 L436.5,309.4 L437.1,307.8 L437.7,306.3 L438.2,304.9 L438.8,303.8 L439.4,302.8 L439.9,302.1 L440.5,301.5 L441.1,301.2 L441.6,301.1 L442.2,301.2 L442.8,301.4 L443.3,301.8 L443.9,302.3 L444.5,302.9 L445,303.7 L445.6,304.6 L446.2,305.7 L446.7,306.8 L447.3,308.1 L447.9,309.4 L448.4,310.8 L449,312.4 L449.6,313.9 L450.1,315.6 L450.7,317.3 L451.3,319 L451.8,320.7 L452.4,322.5 L452.9,324.2 L453.5,326 L454.1,327.7 L454.6,329.5 L455.2,331.2 L455.8,332.8 L456.3,334.5 L456.9,336 L457.5,337.6 L458,339 L458.6,340.5 L459.2,341.8 L459.7,343.1 L460.3,344.3 L460.9,345.5 L461.4,346.6 L462,347.6 L462.6,348.6 L463.1,349.4 L463.7,350.3 L464.3,351.1 L464.8,351.8 L465.4,352.4 L466,353 L466.5,353.6 L467.1,354.1 L467.7,354.5 L468.2,355 L468.8,355.3 L469.4,355.7 L469.9,356 L470.5,356.3 L471.1,356.5 L471.6,356.7 L472.2,356.9 L472.8,357.1 L473.3,357.2 L473.9,357.4 L474.5,357.5 L475,357.6 L475.6,357.7 L476.2,357.7 L476.7,357.8 L477.3,357.9 L477.9,357.9 L478.4,358 L479,358 L479.6,358 L480.1,358.1 L480.7,358.1 L481.2,358.1 L481.8,358.1 L482.4,358.1 L482.9,358.1 L483.5,358.2 L484.1,358.2 L484.6,358.2 L485.2,358.2 L485.8,358.2 L486.3,358.2 L486.9,358.2 L487.5,358.2 L488,358.2 L488.6,358.2 L489.2,358.2 L489.7,358.2 L490.3,358.2 L490.9,358.2 L491.4,358.2 L492,358.2 L492.6,358.2 L493.1,358.2 L493.7,358.2 L494.3,358.2 L494.8,358.2 L495.4,358.2 L496,358.2 L496.5,358.2 L497.1,358.2 L497.7,358.2 L498.2,358.2 L498.8,358.2 L499.4,358.2 L499.9,358.2 L500.5,358.2 L501.1,358.2 L501.6,358.2 L502.2,358.2 L502.8,358.2 L503.3,358.2 L503.9,358.2 L504.5,358.2 L505,358.2 L505.6,358.2 L506.2,358.2 L506.7,358.2 L507.3,358.2 L507.9,358.2 L508.4,358.2 L509,358.2 L509.6,358.2" fill="none" stroke="#b02a48" stroke-width="0.9" stroke-dasharray="2.2,1.8"/><path d="M410.5,358.1 L411.1,358 L411.6,358 L412.2,358 L412.8,357.9 L413.3,357.9 L413.9,357.8 L414.5,357.8 L415,357.7 L415.6,357.6 L416.2,357.5 L416.7,357.4 L417.3,357.2 L417.9,357 L418.4,356.9 L419,356.6 L419.6,356.4 L420.1,356.1 L420.7,355.8 L421.3,355.5 L421.8,355.1 L422.4,354.7 L423,354.2 L423.5,353.7 L424.1,353.1 L424.6,352.5 L425.2,351.8 L425.8,351 L426.3,350.2 L426.9,349.3 L427.5,348.3 L428,347.3 L428.6,346.2 L429.2,345 L429.7,343.7 L430.3,342.4 L430.9,341 L431.4,339.5 L432,337.9 L432.6,336.3 L433.1,334.6 L433.7,332.9 L434.3,331.1 L434.8,329.2 L435.4,327.4 L436,325.5 L436.5,323.6 L437.1,321.7 L437.7,319.8 L438.2,317.9 L438.8,316 L439.4,314.2 L439.9,312.5 L440.5,310.8 L441.1,309.2 L441.6,307.7 L442.2,306.2 L442.8,304.9 L443.3,303.8 L443.9,302.7 L444.5,301.8 L445,301.1 L445.6,300.5 L446.2,300.1 L446.7,299.8 L447.3,299.8 L447.9,299.8 L448.4,299.9 L449,300.1 L449.6,300.5 L450.1,301 L450.7,301.6 L451.3,302.5 L451.8,303.4 L452.4,304.6 L452.9,305.9 L453.5,307.4 L454.1,309 L454.6,310.7 L455.2,312.6 L455.8,314.6 L456.3,316.7 L456.9,318.9 L457.5,321.1 L458,323.4 L458.6,325.7 L459.2,327.9 L459.7,330.2 L460.3,332.4 L460.9,334.6 L461.4,336.7 L462,338.7 L462.6,340.6 L463.1,342.5 L463.7,344.2 L464.3,345.8 L464.8,347.3 L465.4,348.6 L466,349.9 L466.5,351 L467.1,352 L467.7,352.9 L468.2,353.7 L468.8,354.4 L469.4,355 L469.9,355.5 L470.5,356 L471.1,356.4 L471.6,356.7 L472.2,357 L472.8,357.2 L473.3,357.4 L473.9,357.6 L474.5,357.7 L475,357.8 L475.6,357.9 L476.2,358 L476.7,358 L477.3,358.1 L477.9,358.1 L478.4,358.1 L479,358.1 L479.6,358.2 L480.1,358.2 L480.7,358.2 L481.2,358.2 L481.8,358.2 L482.4,358.2 L482.9,358.2 L483.5,358.2 L484.1,358.2 L484.6,358.2 L485.2,358.2 L485.8,358.2 L486.3,358.2 L486.9,358.2 L487.5,358.2 L488,358.2 L488.6,358.2 L489.2,358.2 L489.7,358.2 L490.3,358.2 L490.9,358.2 L491.4,358.2 L492,358.2 L492.6,358.2 L493.1,358.2 L493.7,358.2 L494.3,358.2 L494.8,358.2 L495.4,358.2 L496,358.2 L496.5,358.2 L497.1,358.2 L497.7,358.2 L498.2,358.2 L498.8,358.2 L499.4,358.2 L499.9,358.2 L500.5,358.2 L501.1,358.2 L501.6,358.2 L502.2,358.2 L502.8,358.2 L503.3,358.2 L503.9,358.2 L504.5,358.2 L505,358.2 L505.6,358.2 L506.2,358.2 L506.7,358.2 L507.3,358.2 L507.9,358.2 L508.4,358.2 L509,358.2 L509.6,358.2" fill="none" stroke="#384852" stroke-width="0.9"/><path d="M410.5,358.1 L411.1,358 L411.6,358 L412.2,358 L412.8,357.9 L413.3,357.9 L413.9,357.8 L414.5,357.7 L415,357.6 L415.6,357.5 L416.2,357.4 L416.7,357.2 L417.3,357 L417.9,356.8 L418.4,356.6 L419,356.3 L419.6,356 L420.1,355.7 L420.7,355.3 L421.3,354.9 L421.8,354.4 L422.4,353.8 L423,353.2 L423.5,352.5 L424.1,351.8 L424.6,350.9 L425.2,350 L425.8,349 L426.3,348 L426.9,346.8 L427.5,345.6 L428,344.2 L428.6,342.8 L429.2,341.3 L429.7,339.7 L430.3,338 L430.9,336.3 L431.4,334.5 L432,332.6 L432.6,330.6 L433.1,328.7 L433.7,326.6 L434.3,324.6 L434.8,322.5 L435.4,320.5 L436,318.4 L436.5,316.4 L437.1,314.4 L437.7,312.5 L438.2,310.7 L438.8,309 L439.4,307.4 L439.9,305.9 L440.5,304.5 L441.1,303.3 L441.6,302.3 L442.2,301.4 L442.8,300.8 L443.3,300.3 L443.9,300 L444.5,299.9 L445,299.9 L445.6,300 L446.2,300.2 L446.7,300.5 L447.3,300.9 L447.9,301.5 L448.4,302.3 L449,303.1 L449.6,304.2 L450.1,305.3 L450.7,306.7 L451.3,308.1 L451.8,309.7 L452.4,311.4 L452.9,313.3 L453.5,315.2 L454.1,317.2 L454.6,319.3 L455.2,321.4 L455.8,323.5 L456.3,325.7 L456.9,327.9 L457.5,330 L458,332.2 L458.6,334.2 L459.2,336.2 L459.7,338.2 L460.3,340 L460.9,341.8 L461.4,343.5 L462,345.1 L462.6,346.5 L463.1,347.9 L463.7,349.1 L464.3,350.3 L464.8,351.3 L465.4,352.2 L466,353.1 L466.5,353.8 L467.1,354.5 L467.7,355 L468.2,355.5 L468.8,356 L469.4,356.4 L469.9,356.7 L470.5,357 L471.1,357.2 L471.6,357.4 L472.2,357.5 L472.8,357.7 L473.3,357.8 L473.9,357.9 L474.5,357.9 L475,358 L475.6,358 L476.2,358.1 L476.7,358.1 L477.3,358.1 L477.9,358.1 L478.4,358.2 L479,358.2 L479.6,358.2 L480.1,358.2 L480.7,358.2 L481.2,358.2 L481.8,358.2 L482.4,358.2 L482.9,358.2 L483.5,358.2 L484.1,358.2 L484.6,358.2 L485.2,358.2 L485.8,358.2 L486.3,358.2 L486.9,358.2 L487.5,358.2 L488,358.2 L488.6,358.2 L489.2,358.2 L489.7,358.2 L490.3,358.2 L490.9,358.2 L491.4,358.2 L492,358.2 L492.6,358.2 L493.1,358.2 L493.7,358.2 L494.3,358.2 L494.8,358.2 L495.4,358.2 L496,358.2 L496.5,358.2 L497.1,358.2 L497.7,358.2 L498.2,358.2 L498.8,358.2 L499.4,358.2 L499.9,358.2 L500.5,358.2 L501.1,358.2 L501.6,358.2 L502.2,358.2 L502.8,358.2 L503.3,358.2 L503.9,358.2 L504.5,358.2 L505,358.2 L505.6,358.2 L506.2,358.2 L506.7,358.2 L507.3,358.2 L507.9,358.2 L508.4,358.2 L509,358.2 L509.6,358.2" fill="none" stroke="#ad2243" stroke-width="0.9"/><path d="M410.5,358.2 L411.1,358.2 L411.6,358.2 L412.2,358.2 L412.8,358.2 L413.3,358.2 L413.9,358.2 L414.5,358.2 L415,358.2 L415.6,358.2 L416.2,358.2 L416.7,358.1 L417.3,358.1 L417.9,358.1 L418.4,358.1 L419,358.1 L419.6,358 L420.1,358 L420.7,358 L421.3,357.9 L421.8,357.8 L422.4,357.8 L423,357.7 L423.5,357.6 L424.1,357.5 L424.6,357.4 L425.2,357.2 L425.8,357 L426.3,356.8 L426.9,356.6 L427.5,356.4 L428,356.1 L428.6,355.8 L429.2,355.4 L429.7,355 L430.3,354.5 L430.9,354 L431.4,353.4 L432,352.8 L432.6,352.1 L433.1,351.4 L433.7,350.5 L434.3,349.6 L434.8,348.6 L435.4,347.6 L436,346.5 L436.5,345.2 L437.1,343.9 L437.7,342.6 L438.2,341.1 L438.8,339.6 L439.4,338 L439.9,336.3 L440.5,334.6 L441.1,332.8 L441.6,331 L442.2,329.1 L442.8,327.2 L443.3,325.3 L443.9,323.4 L444.5,321.5 L445,319.6 L445.6,317.7 L446.2,315.9 L446.7,314.1 L447.3,312.4 L447.9,310.8 L448.4,309.3 L449,307.9 L449.6,306.7 L450.1,305.5 L450.7,304.6 L451.3,303.7 L451.8,303.1 L452.4,302.6 L452.9,302.3 L453.5,302.2 L454.1,302.2 L454.6,302.2 L455.2,302.4 L455.8,302.6 L456.3,303 L456.9,303.5 L457.5,304.1 L458,304.8 L458.6,305.7 L459.2,306.7 L459.7,307.8 L460.3,309.1 L460.9,310.5 L461.4,312 L462,313.6 L462.6,315.3 L463.1,317.1 L463.7,319 L464.3,320.9 L464.8,322.9 L465.4,324.9 L466,326.9 L466.5,328.9 L467.1,330.9 L467.7,332.9 L468.2,334.8 L468.8,336.7 L469.4,338.5 L469.9,340.2 L470.5,341.9 L471.1,343.5 L471.6,345 L472.2,346.4 L472.8,347.7 L473.3,348.9 L473.9,350 L474.5,351 L475,351.9 L475.6,352.7 L476.2,353.5 L476.7,354.1 L477.3,354.7 L477.9,355.3 L478.4,355.7 L479,356.1 L479.6,356.5 L480.1,356.7 L480.7,357 L481.2,357.2 L481.8,357.4 L482.4,357.5 L482.9,357.7 L483.5,357.8 L484.1,357.9 L484.6,357.9 L485.2,358 L485.8,358 L486.3,358.1 L486.9,358.1 L487.5,358.1 L488,358.1 L488.6,358.2 L489.2,358.2 L489.7,358.2 L490.3,358.2 L490.9,358.2 L491.4,358.2 L492,358.2 L492.6,358.2 L493.1,358.2 L493.7,358.2 L494.3,358.2 L494.8,358.2 L495.4,358.2 L496,358.2 L496.5,358.2 L497.1,358.2 L497.7,358.2 L498.2,358.2 L498.8,358.2 L499.4,358.2 L499.9,358.2 L500.5,358.2 L501.1,358.2 L501.6,358.2 L502.2,358.2 L502.8,358.2 L503.3,358.2 L503.9,358.2 L504.5,358.2 L505,358.2 L505.6,358.2 L506.2,358.2 L506.7,358.2 L507.3,358.2 L507.9,358.2 L508.4,358.2 L509,358.2 L509.6,358.2" fill="none" stroke="#4a8f4c" stroke-width="1.05"/><circle cx="495.4" cy="358.2" r="1.5" fill="#8c1230"/><circle cx="509.6" cy="358.2" r="1.5" fill="#8c1230"/><rect x="409.1" y="356.8" width="2.8" height="2.8" fill="#a8183c"/><circle cx="438.8" cy="304.2" r="1.5" fill="#8c1230"/><rect x="437.4" y="307" width="2.8" height="2.8" fill="#a8183c"/><circle cx="424.6" cy="345.7" r="1.5" fill="#8c1230"/><rect x="423.2" y="346.4" width="2.8" height="2.8" fill="#a8183c"/><circle cx="438.8" cy="341.6" r="1.5" fill="#3c9a42"/><circle cx="452.9" cy="316.7" r="1.5" fill="#8c1230"/><circle cx="452.9" cy="304.2" r="1.5" fill="#3c9a42"/><circle cx="467.1" cy="347.8" r="1.5" fill="#8c1230"/><circle cx="467.1" cy="331.2" r="1.5" fill="#3c9a42"/><circle cx="481.2" cy="356.1" r="1.5" fill="#3c9a42"/><path d="M410.5,286.3 V358.2 H512.5" fill="none" stroke="#262626" stroke-width="1.35"/><path d="M408,358.2 H410.5 M408,337.4 H410.5 M408,316.7 H410.5 M408,295.9 H410.5 M410.5,358.2 V360.7 M424.6,358.2 V360.7 M438.8,358.2 V360.7 M452.9,358.2 V360.7 M467.1,358.2 V360.7 M481.2,358.2 V360.7 M495.4,358.2 V360.7 M509.6,358.2 V360.7" stroke="#262626" stroke-width="1.1"/><text x="404.9" y="360.6" text-anchor="end" class="tk">0</text><text x="404.9" y="339.8" text-anchor="end" class="tk">20</text><text x="404.9" y="319.1" text-anchor="end" class="tk">40</text><text x="404.9" y="298.3" text-anchor="end" class="tk">60</text><text x="410.5" y="370.9" text-anchor="middle" class="tk">1</text><text x="424.6" y="370.9" text-anchor="middle" class="tk">2</text><text x="438.8" y="370.9" text-anchor="middle" class="tk">3</text><text x="452.9" y="370.9" text-anchor="middle" class="tk">4</text><text x="467.1" y="370.9" text-anchor="middle" class="tk">5</text><text x="481.2" y="370.9" text-anchor="middle" class="tk">6</text><text x="495.4" y="370.9" text-anchor="middle" class="tk">7</text><text x="509.6" y="370.9" text-anchor="middle" class="tk">8</text><text x="395.8" y="282.9" class="pl">I</text></g><path d="M20,167 V378.8 H506" fill="none" stroke="#6e6e6e" stroke-width="1.8"/><path d="M20,162 L17.6,167.5 L22.4,167.5 Z" fill="#222"/><path d="M511,378.8 L505.5,376.5 L505.5,381.1 Z" fill="#222"/><text transform="translate(14.6,270.2) rotate(-90) scale(0.6,1)" text-anchor="middle" font-size="9.6" font-weight="bold" fill="#333333">Frequency (%)</text><text transform="translate(250.5,390.4) scale(0.6,1)" text-anchor="middle" font-size="9.9" font-weight="bold" fill="#333333">Outlet number</text><line x1="381" y1="23.3" x2="394.5" y2="23.3" stroke="#ad2243" stroke-width="0.75" stroke-opacity="0.85"/><circle cx="387.8" cy="23.3" r="1.75" fill="#8c1230"/><text x="398.2" y="25.3" class="lg" textLength="32" lengthAdjust="spacingAndGlyphs">Pre-Tx Ctrl</text><line x1="381" y1="34.4" x2="394.5" y2="34.4" stroke="#b02a48" stroke-width="0.75" stroke-opacity="0.85" stroke-dasharray="2.2,1.8"/><rect x="386.1" y="32.7" width="3.4" height="3.4" fill="#a8183c"/><text x="398.2" y="36.4" class="lg">24h Ctrl</text><line x1="381" y1="45.4" x2="394.5" y2="45.4" stroke="#384852" stroke-width="0.75" stroke-opacity="0.85"/><circle cx="387.8" cy="45.4" r="1.75" fill="#2c3e50"/><text x="398.2" y="47.4" class="lg">Endog</text><line x1="381" y1="56.5" x2="394.5" y2="56.5" stroke="#4a8f4c" stroke-width="0.75" stroke-opacity="0.85"/><circle cx="387.8" cy="56.5" r="1.75" fill="#3c9a42"/><text x="398.2" y="58.5" class="lg" textLength="34.5" lengthAdjust="spacingAndGlyphs">Pre-Tx AMT</text><line x1="381" y1="67.6" x2="394.5" y2="67.6" stroke="#62a862" stroke-width="0.75" stroke-opacity="0.85" stroke-dasharray="2.2,1.8"/><rect x="386.1" y="65.9" width="3.4" height="3.4" fill="#4aa84e"/><text x="398.2" y="69.6" class="lg">24h AMT</text><rect x="0.5" y="0.5" width="519" height="398" fill="none" stroke="#555" stroke-width="1"/></svg>
</body></html>
